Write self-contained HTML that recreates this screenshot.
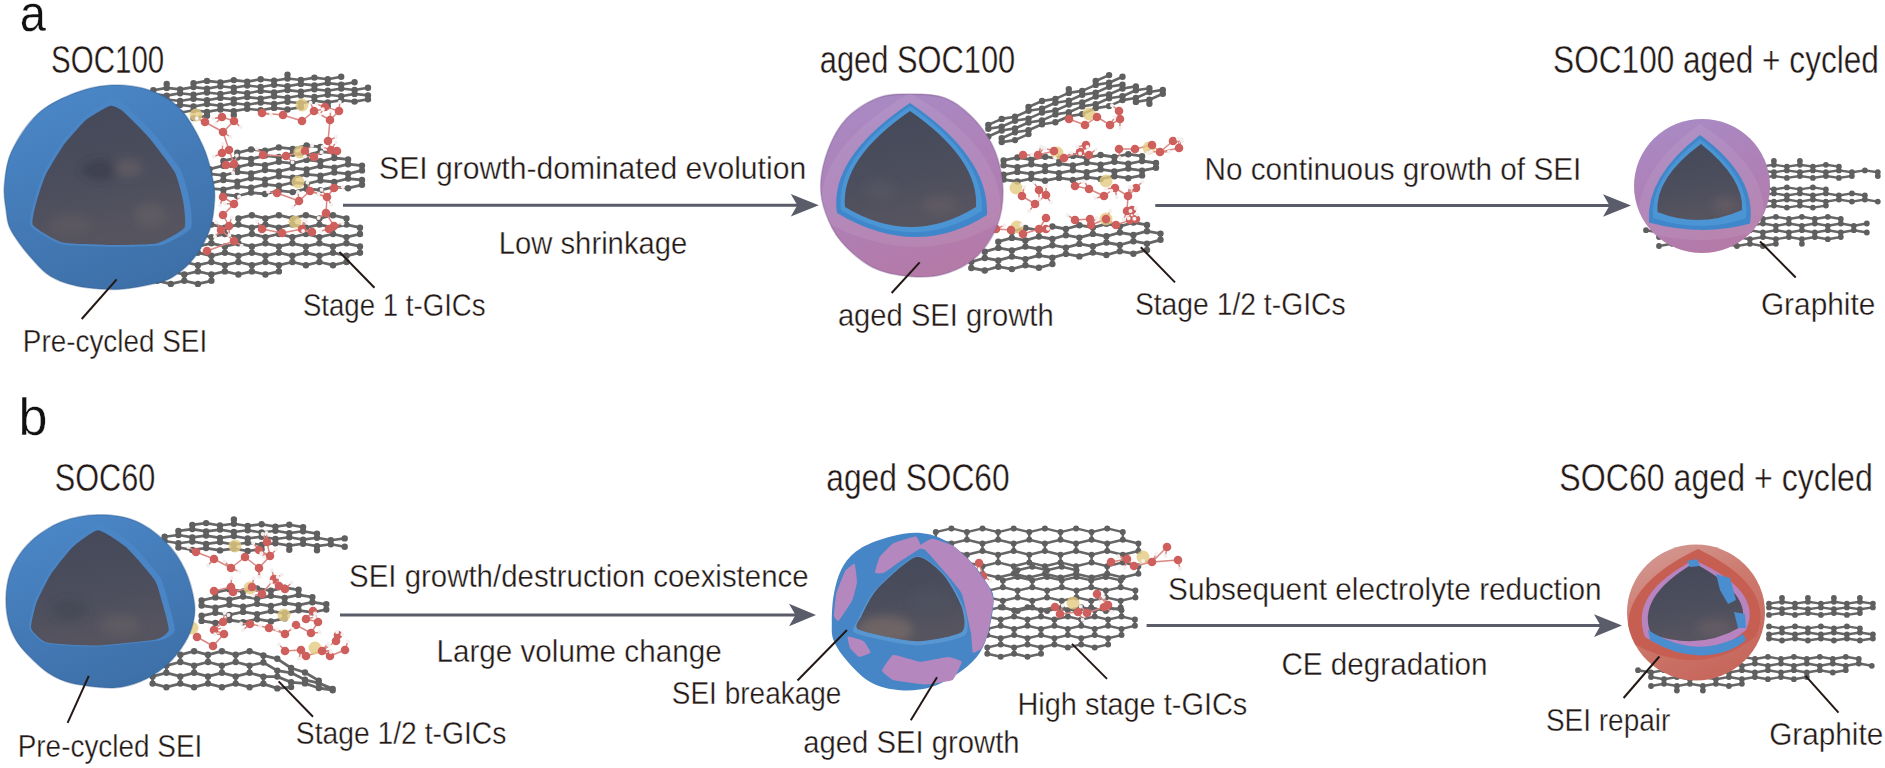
<!DOCTYPE html>
<html><head><meta charset="utf-8"><style>
html,body{margin:0;padding:0;background:#fff;width:1885px;height:768px;overflow:hidden}
svg{display:block}
text{font-family:"Liberation Sans",sans-serif}
</style></head><body>
<svg width="1885" height="768" viewBox="0 0 1885 768">
<defs>
<linearGradient id="gBlue" x1="0.2" y1="0" x2="0.6" y2="1">
 <stop offset="0" stop-color="#4b87c8"/><stop offset="0.55" stop-color="#437ab6"/><stop offset="1" stop-color="#3e70a8"/>
</linearGradient>
<linearGradient id="gPurp" x1="0.2" y1="0" x2="0.5" y2="1">
 <stop offset="0" stop-color="#a98ac4"/><stop offset="0.55" stop-color="#ae80b6"/><stop offset="1" stop-color="#b47aa8"/>
</linearGradient>
<linearGradient id="gRed" x1="0.1" y1="0" x2="0.6" y2="1">
 <stop offset="0" stop-color="#d49d98"/><stop offset="0.45" stop-color="#cd7a6f"/><stop offset="1" stop-color="#c7675c"/>
</linearGradient>
<linearGradient id="gCore" x1="0" y1="0" x2="0.2" y2="1">
 <stop offset="0" stop-color="#444858"/><stop offset="0.6" stop-color="#4c4e5d"/><stop offset="1" stop-color="#56545f"/>
</linearGradient>
<filter id="blur4" x="-50%" y="-50%" width="200%" height="200%"><feGaussianBlur stdDeviation="5"/></filter>
<filter id="blur2" x="-50%" y="-50%" width="200%" height="200%"><feGaussianBlur stdDeviation="2"/></filter>
</defs>
<rect width="1885" height="768" fill="#fff"/>
<path d="M153.3,90.2L166.7,87.9M153.3,90.2L153.3,94.1M153.3,94.1L166.7,95.6M153.3,101.9L166.7,99.5M166.7,84.0L166.7,87.9M166.7,87.9L180.1,89.4M166.7,95.6L180.1,93.3M166.7,95.6L166.7,99.5M166.7,99.5L180.1,101.0M166.7,107.3L180.1,104.9M180.1,89.4L193.5,87.1M180.1,89.4L180.1,93.3M180.1,93.3L193.5,94.8M180.1,101.0L193.5,98.7M180.1,101.0L180.1,104.9M180.1,104.9L193.5,106.5M180.1,112.7L193.5,110.3M193.5,83.2L207.0,80.9M193.5,83.2L193.5,87.1M193.5,87.1L207.0,88.6M193.5,94.8L207.0,92.5M193.5,94.8L193.5,98.7M193.5,98.7L207.0,100.2M193.5,106.5L207.0,104.1M193.5,106.5L193.5,110.3M193.5,110.3L207.0,111.9M193.5,118.1L207.0,115.7M207.0,80.9L220.4,82.4M207.0,88.6L220.4,86.3M207.0,88.6L207.0,92.5M207.0,92.5L220.4,94.0M207.0,100.2L220.4,97.9M207.0,100.2L207.0,104.1M207.0,104.1L220.4,105.7M207.0,111.9L220.4,109.5M207.0,111.9L207.0,115.7M220.4,82.4L233.8,80.1M220.4,82.4L220.4,86.3M220.4,86.3L233.8,87.8M220.4,94.0L233.8,91.7M220.4,94.0L220.4,97.9M220.4,97.9L233.8,99.4M220.4,105.7L233.8,103.3M220.4,105.7L220.4,109.5M220.4,109.5L233.8,111.1M233.8,80.1L247.2,81.6M233.8,87.8L247.2,85.5M233.8,87.8L233.8,91.7M233.8,91.7L247.2,93.2M233.8,99.4L247.2,97.1M233.8,99.4L233.8,103.3M233.8,103.3L247.2,104.8M233.8,111.1L247.2,108.7M233.8,111.1L233.8,114.9M247.2,81.6L260.7,79.3M247.2,81.6L247.2,85.5M247.2,85.5L260.7,87.0M247.2,93.2L260.7,90.9M247.2,93.2L247.2,97.1M247.2,97.1L260.7,98.6M247.2,104.8L260.7,102.5M247.2,104.8L247.2,108.7M247.2,108.7L260.7,110.3M260.7,79.3L274.1,80.8M260.7,87.0L274.1,84.7M260.7,87.0L260.7,90.9M260.7,90.9L274.1,92.4M260.7,98.6L274.1,96.3M260.7,98.6L260.7,102.5M260.7,102.5L274.1,104.0M260.7,110.3L274.1,107.9M274.1,80.8L287.5,78.5M274.1,80.8L274.1,84.7M274.1,84.7L287.5,86.2M274.1,92.4L287.5,90.1M274.1,92.4L274.1,96.3M274.1,96.3L287.5,97.8M274.1,104.0L287.5,101.7M274.1,104.0L274.1,107.9M274.1,107.9L287.5,109.5M287.5,74.6L287.5,78.5M287.5,78.5L300.9,80.0M287.5,86.2L300.9,83.9M287.5,86.2L287.5,90.1M287.5,90.1L300.9,91.6M287.5,97.8L300.9,95.5M287.5,97.8L287.5,101.7M287.5,101.7L300.9,103.2M287.5,109.5L300.9,107.1M300.9,80.0L314.4,77.6M300.9,80.0L300.9,83.9M300.9,83.9L314.4,85.4M300.9,91.6L314.4,89.3M300.9,91.6L300.9,95.5M300.9,95.5L314.4,97.0M300.9,103.2L314.4,100.9M300.9,103.2L300.9,107.1M314.4,77.6L327.8,79.2M314.4,85.4L327.8,83.1M314.4,85.4L314.4,89.3M314.4,89.3L327.8,90.8M314.4,97.0L327.8,94.7M314.4,97.0L314.4,100.9M314.4,100.9L327.8,102.4M327.8,79.2L341.2,76.8M327.8,79.2L327.8,83.1M327.8,83.1L341.2,84.6M327.8,90.8L341.2,88.5M327.8,90.8L327.8,94.7M327.8,94.7L341.2,96.2M327.8,102.4L341.2,100.1M327.8,102.4L327.8,106.3M341.2,84.6L354.6,82.3M341.2,84.6L341.2,88.5M341.2,88.5L354.6,90.0M341.2,96.2L354.6,93.9M341.2,96.2L341.2,100.1M341.2,100.1L354.6,101.6M354.6,90.0L368.0,87.7M354.6,90.0L354.6,93.9M354.6,93.9L368.0,95.4M354.6,101.6L368.0,99.3M368.0,95.4L368.0,99.3" stroke="#666" stroke-width="2.6" fill="none" stroke-linecap="round"/>
<path d="M150.1,90.2a3.2,3.2 0 1,0 6.4,0a3.2,3.2 0 1,0 -6.4,0M150.1,94.1a3.2,3.2 0 1,0 6.4,0a3.2,3.2 0 1,0 -6.4,0M150.1,101.9a3.2,3.2 0 1,0 6.4,0a3.2,3.2 0 1,0 -6.4,0M163.5,84.0a3.2,3.2 0 1,0 6.4,0a3.2,3.2 0 1,0 -6.4,0M163.5,87.9a3.2,3.2 0 1,0 6.4,0a3.2,3.2 0 1,0 -6.4,0M163.5,95.6a3.2,3.2 0 1,0 6.4,0a3.2,3.2 0 1,0 -6.4,0M163.5,99.5a3.2,3.2 0 1,0 6.4,0a3.2,3.2 0 1,0 -6.4,0M163.5,107.3a3.2,3.2 0 1,0 6.4,0a3.2,3.2 0 1,0 -6.4,0M176.9,89.4a3.2,3.2 0 1,0 6.4,0a3.2,3.2 0 1,0 -6.4,0M176.9,93.3a3.2,3.2 0 1,0 6.4,0a3.2,3.2 0 1,0 -6.4,0M176.9,101.0a3.2,3.2 0 1,0 6.4,0a3.2,3.2 0 1,0 -6.4,0M176.9,104.9a3.2,3.2 0 1,0 6.4,0a3.2,3.2 0 1,0 -6.4,0M176.9,112.7a3.2,3.2 0 1,0 6.4,0a3.2,3.2 0 1,0 -6.4,0M190.3,83.2a3.2,3.2 0 1,0 6.4,0a3.2,3.2 0 1,0 -6.4,0M190.3,87.1a3.2,3.2 0 1,0 6.4,0a3.2,3.2 0 1,0 -6.4,0M190.3,94.8a3.2,3.2 0 1,0 6.4,0a3.2,3.2 0 1,0 -6.4,0M190.3,98.7a3.2,3.2 0 1,0 6.4,0a3.2,3.2 0 1,0 -6.4,0M190.3,106.5a3.2,3.2 0 1,0 6.4,0a3.2,3.2 0 1,0 -6.4,0M190.3,110.3a3.2,3.2 0 1,0 6.4,0a3.2,3.2 0 1,0 -6.4,0M190.3,118.1a3.2,3.2 0 1,0 6.4,0a3.2,3.2 0 1,0 -6.4,0M203.8,80.9a3.2,3.2 0 1,0 6.4,0a3.2,3.2 0 1,0 -6.4,0M203.8,88.6a3.2,3.2 0 1,0 6.4,0a3.2,3.2 0 1,0 -6.4,0M203.8,92.5a3.2,3.2 0 1,0 6.4,0a3.2,3.2 0 1,0 -6.4,0M203.8,100.2a3.2,3.2 0 1,0 6.4,0a3.2,3.2 0 1,0 -6.4,0M203.8,104.1a3.2,3.2 0 1,0 6.4,0a3.2,3.2 0 1,0 -6.4,0M203.8,111.9a3.2,3.2 0 1,0 6.4,0a3.2,3.2 0 1,0 -6.4,0M203.8,115.7a3.2,3.2 0 1,0 6.4,0a3.2,3.2 0 1,0 -6.4,0M217.2,82.4a3.2,3.2 0 1,0 6.4,0a3.2,3.2 0 1,0 -6.4,0M217.2,86.3a3.2,3.2 0 1,0 6.4,0a3.2,3.2 0 1,0 -6.4,0M217.2,94.0a3.2,3.2 0 1,0 6.4,0a3.2,3.2 0 1,0 -6.4,0M217.2,97.9a3.2,3.2 0 1,0 6.4,0a3.2,3.2 0 1,0 -6.4,0M217.2,105.7a3.2,3.2 0 1,0 6.4,0a3.2,3.2 0 1,0 -6.4,0M217.2,109.5a3.2,3.2 0 1,0 6.4,0a3.2,3.2 0 1,0 -6.4,0M230.6,80.1a3.2,3.2 0 1,0 6.4,0a3.2,3.2 0 1,0 -6.4,0M230.6,87.8a3.2,3.2 0 1,0 6.4,0a3.2,3.2 0 1,0 -6.4,0M230.6,91.7a3.2,3.2 0 1,0 6.4,0a3.2,3.2 0 1,0 -6.4,0M230.6,99.4a3.2,3.2 0 1,0 6.4,0a3.2,3.2 0 1,0 -6.4,0M230.6,103.3a3.2,3.2 0 1,0 6.4,0a3.2,3.2 0 1,0 -6.4,0M230.6,111.1a3.2,3.2 0 1,0 6.4,0a3.2,3.2 0 1,0 -6.4,0M230.6,114.9a3.2,3.2 0 1,0 6.4,0a3.2,3.2 0 1,0 -6.4,0M244.0,81.6a3.2,3.2 0 1,0 6.4,0a3.2,3.2 0 1,0 -6.4,0M244.0,85.5a3.2,3.2 0 1,0 6.4,0a3.2,3.2 0 1,0 -6.4,0M244.0,93.2a3.2,3.2 0 1,0 6.4,0a3.2,3.2 0 1,0 -6.4,0M244.0,97.1a3.2,3.2 0 1,0 6.4,0a3.2,3.2 0 1,0 -6.4,0M244.0,104.8a3.2,3.2 0 1,0 6.4,0a3.2,3.2 0 1,0 -6.4,0M244.0,108.7a3.2,3.2 0 1,0 6.4,0a3.2,3.2 0 1,0 -6.4,0M257.5,79.3a3.2,3.2 0 1,0 6.4,0a3.2,3.2 0 1,0 -6.4,0M257.5,87.0a3.2,3.2 0 1,0 6.4,0a3.2,3.2 0 1,0 -6.4,0M257.5,90.9a3.2,3.2 0 1,0 6.4,0a3.2,3.2 0 1,0 -6.4,0M257.5,98.6a3.2,3.2 0 1,0 6.4,0a3.2,3.2 0 1,0 -6.4,0M257.5,102.5a3.2,3.2 0 1,0 6.4,0a3.2,3.2 0 1,0 -6.4,0M257.5,110.3a3.2,3.2 0 1,0 6.4,0a3.2,3.2 0 1,0 -6.4,0M270.9,80.8a3.2,3.2 0 1,0 6.4,0a3.2,3.2 0 1,0 -6.4,0M270.9,84.7a3.2,3.2 0 1,0 6.4,0a3.2,3.2 0 1,0 -6.4,0M270.9,92.4a3.2,3.2 0 1,0 6.4,0a3.2,3.2 0 1,0 -6.4,0M270.9,96.3a3.2,3.2 0 1,0 6.4,0a3.2,3.2 0 1,0 -6.4,0M270.9,104.0a3.2,3.2 0 1,0 6.4,0a3.2,3.2 0 1,0 -6.4,0M270.9,107.9a3.2,3.2 0 1,0 6.4,0a3.2,3.2 0 1,0 -6.4,0M284.3,74.6a3.2,3.2 0 1,0 6.4,0a3.2,3.2 0 1,0 -6.4,0M284.3,78.5a3.2,3.2 0 1,0 6.4,0a3.2,3.2 0 1,0 -6.4,0M284.3,86.2a3.2,3.2 0 1,0 6.4,0a3.2,3.2 0 1,0 -6.4,0M284.3,90.1a3.2,3.2 0 1,0 6.4,0a3.2,3.2 0 1,0 -6.4,0M284.3,97.8a3.2,3.2 0 1,0 6.4,0a3.2,3.2 0 1,0 -6.4,0M284.3,101.7a3.2,3.2 0 1,0 6.4,0a3.2,3.2 0 1,0 -6.4,0M284.3,109.5a3.2,3.2 0 1,0 6.4,0a3.2,3.2 0 1,0 -6.4,0M297.7,80.0a3.2,3.2 0 1,0 6.4,0a3.2,3.2 0 1,0 -6.4,0M297.7,83.9a3.2,3.2 0 1,0 6.4,0a3.2,3.2 0 1,0 -6.4,0M297.7,91.6a3.2,3.2 0 1,0 6.4,0a3.2,3.2 0 1,0 -6.4,0M297.7,95.5a3.2,3.2 0 1,0 6.4,0a3.2,3.2 0 1,0 -6.4,0M297.7,103.2a3.2,3.2 0 1,0 6.4,0a3.2,3.2 0 1,0 -6.4,0M297.7,107.1a3.2,3.2 0 1,0 6.4,0a3.2,3.2 0 1,0 -6.4,0M311.2,77.6a3.2,3.2 0 1,0 6.4,0a3.2,3.2 0 1,0 -6.4,0M311.2,85.4a3.2,3.2 0 1,0 6.4,0a3.2,3.2 0 1,0 -6.4,0M311.2,89.3a3.2,3.2 0 1,0 6.4,0a3.2,3.2 0 1,0 -6.4,0M311.2,97.0a3.2,3.2 0 1,0 6.4,0a3.2,3.2 0 1,0 -6.4,0M311.2,100.9a3.2,3.2 0 1,0 6.4,0a3.2,3.2 0 1,0 -6.4,0M324.6,79.2a3.2,3.2 0 1,0 6.4,0a3.2,3.2 0 1,0 -6.4,0M324.6,83.1a3.2,3.2 0 1,0 6.4,0a3.2,3.2 0 1,0 -6.4,0M324.6,90.8a3.2,3.2 0 1,0 6.4,0a3.2,3.2 0 1,0 -6.4,0M324.6,94.7a3.2,3.2 0 1,0 6.4,0a3.2,3.2 0 1,0 -6.4,0M324.6,102.4a3.2,3.2 0 1,0 6.4,0a3.2,3.2 0 1,0 -6.4,0M324.6,106.3a3.2,3.2 0 1,0 6.4,0a3.2,3.2 0 1,0 -6.4,0M338.0,76.8a3.2,3.2 0 1,0 6.4,0a3.2,3.2 0 1,0 -6.4,0M338.0,84.6a3.2,3.2 0 1,0 6.4,0a3.2,3.2 0 1,0 -6.4,0M338.0,88.5a3.2,3.2 0 1,0 6.4,0a3.2,3.2 0 1,0 -6.4,0M338.0,96.2a3.2,3.2 0 1,0 6.4,0a3.2,3.2 0 1,0 -6.4,0M338.0,100.1a3.2,3.2 0 1,0 6.4,0a3.2,3.2 0 1,0 -6.4,0M351.4,82.3a3.2,3.2 0 1,0 6.4,0a3.2,3.2 0 1,0 -6.4,0M351.4,90.0a3.2,3.2 0 1,0 6.4,0a3.2,3.2 0 1,0 -6.4,0M351.4,93.9a3.2,3.2 0 1,0 6.4,0a3.2,3.2 0 1,0 -6.4,0M351.4,101.6a3.2,3.2 0 1,0 6.4,0a3.2,3.2 0 1,0 -6.4,0M364.8,87.7a3.2,3.2 0 1,0 6.4,0a3.2,3.2 0 1,0 -6.4,0M364.8,95.4a3.2,3.2 0 1,0 6.4,0a3.2,3.2 0 1,0 -6.4,0M364.8,99.3a3.2,3.2 0 1,0 6.4,0a3.2,3.2 0 1,0 -6.4,0" fill="#5f5f5f"/>
<path d="M209.6,169.1L223.4,165.7M209.6,169.1L209.6,173.9M209.6,173.9L223.4,175.3M209.6,183.5L223.4,180.1M209.6,183.5L209.6,188.3M209.6,188.3L223.4,189.7M223.4,160.9L237.3,157.6M223.4,160.9L223.4,165.7M223.4,165.7L237.3,167.2M223.4,175.3L237.3,172.0M223.4,175.3L223.4,180.1M223.4,180.1L237.3,181.6M223.4,189.7L237.3,186.4M223.4,189.7L223.4,194.5M223.4,194.5L237.3,196.0M237.3,152.8L251.1,149.4M237.3,152.8L237.3,157.6M237.3,157.6L251.1,159.0M237.3,167.2L251.1,163.8M237.3,167.2L237.3,172.0M237.3,172.0L251.1,173.4M237.3,181.6L251.1,178.2M237.3,181.6L237.3,186.4M237.3,186.4L251.1,187.8M237.3,196.0L251.1,192.6M251.1,149.4L265.0,150.8M251.1,159.0L265.0,155.6M251.1,159.0L251.1,163.8M251.1,163.8L265.0,165.2M251.1,173.4L265.0,170.0M251.1,173.4L251.1,178.2M251.1,178.2L265.0,179.6M251.1,187.8L265.0,184.4M251.1,187.8L251.1,192.6M251.1,192.6L265.0,194.0M265.0,150.8L278.9,147.4M265.0,150.8L265.0,155.6M265.0,155.6L278.9,157.0M265.0,165.2L278.9,161.8M265.0,165.2L265.0,170.0M265.0,170.0L278.9,171.4M265.0,179.6L278.9,176.2M265.0,179.6L265.0,184.4M265.0,184.4L278.9,185.8M265.0,194.0L278.9,190.6M278.9,147.4L292.7,148.9M278.9,157.0L292.7,153.7M278.9,157.0L278.9,161.8M278.9,161.8L292.7,163.3M278.9,171.4L292.7,168.1M278.9,171.4L278.9,176.2M278.9,176.2L292.7,177.7M278.9,185.8L292.7,182.5M278.9,185.8L278.9,190.6M278.9,190.6L292.7,192.1M292.7,148.9L306.6,145.5M292.7,148.9L292.7,153.7M292.7,153.7L306.6,155.1M292.7,163.3L306.6,159.9M292.7,163.3L292.7,168.1M292.7,168.1L306.6,169.5M292.7,177.7L306.6,174.3M292.7,177.7L292.7,182.5M292.7,182.5L306.6,183.9M292.7,192.1L306.6,188.7M306.6,145.5L320.4,146.9M306.6,155.1L320.4,151.7M306.6,155.1L306.6,159.9M306.6,159.9L320.4,161.3M306.6,169.5L320.4,166.1M306.6,169.5L306.6,174.3M306.6,174.3L320.4,175.7M306.6,183.9L320.4,180.5M306.6,183.9L306.6,188.7M306.6,188.7L320.4,190.1M320.4,146.9L320.4,151.7M320.4,151.7L334.3,153.2M320.4,161.3L334.3,158.0M320.4,161.3L320.4,166.1M320.4,166.1L334.3,167.6M320.4,175.7L334.3,172.4M320.4,175.7L320.4,180.5M320.4,180.5L334.3,182.0M320.4,190.1L334.3,186.8M334.3,153.2L334.3,158.0M334.3,158.0L348.1,159.4M334.3,167.6L348.1,164.2M334.3,167.6L334.3,172.4M334.3,172.4L348.1,173.8M334.3,182.0L348.1,178.6M334.3,182.0L334.3,186.8M334.3,186.8L348.1,188.2M348.1,159.4L348.1,164.2M348.1,164.2L362.0,165.6M348.1,173.8L362.0,170.4M348.1,173.8L348.1,178.6M348.1,178.6L362.0,180.0M348.1,188.2L362.0,184.8M362.0,165.6L362.0,170.4M362.0,180.0L362.0,184.8" stroke="#666" stroke-width="2.8" fill="none" stroke-linecap="round"/>
<path d="M206.4,169.1a3.2,3.2 0 1,0 6.4,0a3.2,3.2 0 1,0 -6.4,0M206.4,173.9a3.2,3.2 0 1,0 6.4,0a3.2,3.2 0 1,0 -6.4,0M206.4,183.5a3.2,3.2 0 1,0 6.4,0a3.2,3.2 0 1,0 -6.4,0M206.4,188.3a3.2,3.2 0 1,0 6.4,0a3.2,3.2 0 1,0 -6.4,0M220.2,160.9a3.2,3.2 0 1,0 6.4,0a3.2,3.2 0 1,0 -6.4,0M220.2,165.7a3.2,3.2 0 1,0 6.4,0a3.2,3.2 0 1,0 -6.4,0M220.2,175.3a3.2,3.2 0 1,0 6.4,0a3.2,3.2 0 1,0 -6.4,0M220.2,180.1a3.2,3.2 0 1,0 6.4,0a3.2,3.2 0 1,0 -6.4,0M220.2,189.7a3.2,3.2 0 1,0 6.4,0a3.2,3.2 0 1,0 -6.4,0M220.2,194.5a3.2,3.2 0 1,0 6.4,0a3.2,3.2 0 1,0 -6.4,0M234.1,152.8a3.2,3.2 0 1,0 6.4,0a3.2,3.2 0 1,0 -6.4,0M234.1,157.6a3.2,3.2 0 1,0 6.4,0a3.2,3.2 0 1,0 -6.4,0M234.1,167.2a3.2,3.2 0 1,0 6.4,0a3.2,3.2 0 1,0 -6.4,0M234.1,172.0a3.2,3.2 0 1,0 6.4,0a3.2,3.2 0 1,0 -6.4,0M234.1,181.6a3.2,3.2 0 1,0 6.4,0a3.2,3.2 0 1,0 -6.4,0M234.1,186.4a3.2,3.2 0 1,0 6.4,0a3.2,3.2 0 1,0 -6.4,0M234.1,196.0a3.2,3.2 0 1,0 6.4,0a3.2,3.2 0 1,0 -6.4,0M247.9,149.4a3.2,3.2 0 1,0 6.4,0a3.2,3.2 0 1,0 -6.4,0M247.9,159.0a3.2,3.2 0 1,0 6.4,0a3.2,3.2 0 1,0 -6.4,0M247.9,163.8a3.2,3.2 0 1,0 6.4,0a3.2,3.2 0 1,0 -6.4,0M247.9,173.4a3.2,3.2 0 1,0 6.4,0a3.2,3.2 0 1,0 -6.4,0M247.9,178.2a3.2,3.2 0 1,0 6.4,0a3.2,3.2 0 1,0 -6.4,0M247.9,187.8a3.2,3.2 0 1,0 6.4,0a3.2,3.2 0 1,0 -6.4,0M247.9,192.6a3.2,3.2 0 1,0 6.4,0a3.2,3.2 0 1,0 -6.4,0M261.8,150.8a3.2,3.2 0 1,0 6.4,0a3.2,3.2 0 1,0 -6.4,0M261.8,155.6a3.2,3.2 0 1,0 6.4,0a3.2,3.2 0 1,0 -6.4,0M261.8,165.2a3.2,3.2 0 1,0 6.4,0a3.2,3.2 0 1,0 -6.4,0M261.8,170.0a3.2,3.2 0 1,0 6.4,0a3.2,3.2 0 1,0 -6.4,0M261.8,179.6a3.2,3.2 0 1,0 6.4,0a3.2,3.2 0 1,0 -6.4,0M261.8,184.4a3.2,3.2 0 1,0 6.4,0a3.2,3.2 0 1,0 -6.4,0M261.8,194.0a3.2,3.2 0 1,0 6.4,0a3.2,3.2 0 1,0 -6.4,0M275.7,147.4a3.2,3.2 0 1,0 6.4,0a3.2,3.2 0 1,0 -6.4,0M275.7,157.0a3.2,3.2 0 1,0 6.4,0a3.2,3.2 0 1,0 -6.4,0M275.7,161.8a3.2,3.2 0 1,0 6.4,0a3.2,3.2 0 1,0 -6.4,0M275.7,171.4a3.2,3.2 0 1,0 6.4,0a3.2,3.2 0 1,0 -6.4,0M275.7,176.2a3.2,3.2 0 1,0 6.4,0a3.2,3.2 0 1,0 -6.4,0M275.7,185.8a3.2,3.2 0 1,0 6.4,0a3.2,3.2 0 1,0 -6.4,0M275.7,190.6a3.2,3.2 0 1,0 6.4,0a3.2,3.2 0 1,0 -6.4,0M289.5,148.9a3.2,3.2 0 1,0 6.4,0a3.2,3.2 0 1,0 -6.4,0M289.5,153.7a3.2,3.2 0 1,0 6.4,0a3.2,3.2 0 1,0 -6.4,0M289.5,163.3a3.2,3.2 0 1,0 6.4,0a3.2,3.2 0 1,0 -6.4,0M289.5,168.1a3.2,3.2 0 1,0 6.4,0a3.2,3.2 0 1,0 -6.4,0M289.5,177.7a3.2,3.2 0 1,0 6.4,0a3.2,3.2 0 1,0 -6.4,0M289.5,182.5a3.2,3.2 0 1,0 6.4,0a3.2,3.2 0 1,0 -6.4,0M289.5,192.1a3.2,3.2 0 1,0 6.4,0a3.2,3.2 0 1,0 -6.4,0M303.4,145.5a3.2,3.2 0 1,0 6.4,0a3.2,3.2 0 1,0 -6.4,0M303.4,155.1a3.2,3.2 0 1,0 6.4,0a3.2,3.2 0 1,0 -6.4,0M303.4,159.9a3.2,3.2 0 1,0 6.4,0a3.2,3.2 0 1,0 -6.4,0M303.4,169.5a3.2,3.2 0 1,0 6.4,0a3.2,3.2 0 1,0 -6.4,0M303.4,174.3a3.2,3.2 0 1,0 6.4,0a3.2,3.2 0 1,0 -6.4,0M303.4,183.9a3.2,3.2 0 1,0 6.4,0a3.2,3.2 0 1,0 -6.4,0M303.4,188.7a3.2,3.2 0 1,0 6.4,0a3.2,3.2 0 1,0 -6.4,0M317.2,146.9a3.2,3.2 0 1,0 6.4,0a3.2,3.2 0 1,0 -6.4,0M317.2,151.7a3.2,3.2 0 1,0 6.4,0a3.2,3.2 0 1,0 -6.4,0M317.2,161.3a3.2,3.2 0 1,0 6.4,0a3.2,3.2 0 1,0 -6.4,0M317.2,166.1a3.2,3.2 0 1,0 6.4,0a3.2,3.2 0 1,0 -6.4,0M317.2,175.7a3.2,3.2 0 1,0 6.4,0a3.2,3.2 0 1,0 -6.4,0M317.2,180.5a3.2,3.2 0 1,0 6.4,0a3.2,3.2 0 1,0 -6.4,0M317.2,190.1a3.2,3.2 0 1,0 6.4,0a3.2,3.2 0 1,0 -6.4,0M331.1,153.2a3.2,3.2 0 1,0 6.4,0a3.2,3.2 0 1,0 -6.4,0M331.1,158.0a3.2,3.2 0 1,0 6.4,0a3.2,3.2 0 1,0 -6.4,0M331.1,167.6a3.2,3.2 0 1,0 6.4,0a3.2,3.2 0 1,0 -6.4,0M331.1,172.4a3.2,3.2 0 1,0 6.4,0a3.2,3.2 0 1,0 -6.4,0M331.1,182.0a3.2,3.2 0 1,0 6.4,0a3.2,3.2 0 1,0 -6.4,0M331.1,186.8a3.2,3.2 0 1,0 6.4,0a3.2,3.2 0 1,0 -6.4,0M344.9,159.4a3.2,3.2 0 1,0 6.4,0a3.2,3.2 0 1,0 -6.4,0M344.9,164.2a3.2,3.2 0 1,0 6.4,0a3.2,3.2 0 1,0 -6.4,0M344.9,173.8a3.2,3.2 0 1,0 6.4,0a3.2,3.2 0 1,0 -6.4,0M344.9,178.6a3.2,3.2 0 1,0 6.4,0a3.2,3.2 0 1,0 -6.4,0M344.9,188.2a3.2,3.2 0 1,0 6.4,0a3.2,3.2 0 1,0 -6.4,0M358.8,165.6a3.2,3.2 0 1,0 6.4,0a3.2,3.2 0 1,0 -6.4,0M358.8,170.4a3.2,3.2 0 1,0 6.4,0a3.2,3.2 0 1,0 -6.4,0M358.8,180.0a3.2,3.2 0 1,0 6.4,0a3.2,3.2 0 1,0 -6.4,0M358.8,184.8a3.2,3.2 0 1,0 6.4,0a3.2,3.2 0 1,0 -6.4,0" fill="#5f5f5f"/>
<path d="M157.3,274.5L170.8,271.4M157.3,274.5L157.3,280.8M157.3,280.8L170.8,283.9M170.8,246.4L184.3,243.3M170.8,246.4L170.8,252.7M170.8,252.7L184.3,255.8M170.8,265.2L184.3,262.0M170.8,265.2L170.8,271.4M170.8,271.4L184.3,274.5M170.8,283.9L184.3,280.8M184.3,237.1L197.9,234.0M184.3,237.1L184.3,243.3M184.3,243.3L197.9,246.4M184.3,255.8L197.9,252.7M184.3,255.8L184.3,262.0M184.3,262.0L197.9,265.2M184.3,274.5L197.9,271.4M184.3,274.5L184.3,280.8M184.3,280.8L197.9,283.9M197.9,227.7L211.4,224.6M197.9,227.7L197.9,234.0M197.9,234.0L211.4,237.1M197.9,246.4L211.4,243.3M197.9,246.4L197.9,252.7M197.9,252.7L211.4,255.8M197.9,265.2L211.4,262.0M197.9,265.2L197.9,271.4M197.9,271.4L211.4,274.5M197.9,283.9L211.4,280.8M211.4,224.6L224.9,227.7M211.4,237.1L224.9,234.0M211.4,237.1L211.4,243.3M211.4,243.3L224.9,246.4M211.4,255.8L224.9,252.7M211.4,255.8L211.4,262.0M211.4,262.0L224.9,265.2M211.4,274.5L224.9,271.4M211.4,274.5L211.4,280.8M224.9,227.7L238.4,224.6M224.9,227.7L224.9,234.0M224.9,234.0L238.4,237.1M224.9,246.4L238.4,243.3M224.9,246.4L224.9,252.7M224.9,252.7L238.4,255.8M224.9,265.2L238.4,262.0M224.9,265.2L224.9,271.4M224.9,271.4L238.4,274.5M238.4,218.4L251.9,215.2M238.4,218.4L238.4,224.6M238.4,224.6L251.9,227.7M238.4,237.1L251.9,234.0M238.4,237.1L238.4,243.3M238.4,243.3L251.9,246.4M238.4,255.8L251.9,252.7M238.4,255.8L238.4,262.0M238.4,262.0L251.9,265.2M238.4,274.5L251.9,271.4M251.9,215.2L265.4,218.4M251.9,227.7L265.4,224.6M251.9,227.7L251.9,234.0M251.9,234.0L265.4,237.1M251.9,246.4L265.4,243.3M251.9,246.4L251.9,252.7M251.9,252.7L265.4,255.8M251.9,265.2L265.4,262.0M251.9,265.2L251.9,271.4M251.9,271.4L265.4,274.5M265.4,218.4L278.9,215.2M265.4,218.4L265.4,224.6M265.4,224.6L278.9,227.7M265.4,237.1L278.9,234.0M265.4,237.1L265.4,243.3M265.4,243.3L278.9,246.4M265.4,255.8L278.9,252.7M265.4,255.8L265.4,262.0M265.4,262.0L278.9,265.2M265.4,274.5L278.9,271.4M278.9,215.2L292.4,218.4M278.9,227.7L292.4,224.6M278.9,227.7L278.9,234.0M278.9,234.0L292.4,237.1M278.9,246.4L292.4,243.3M278.9,246.4L278.9,252.7M278.9,252.7L292.4,255.8M278.9,265.2L292.4,262.0M278.9,265.2L278.9,271.4M292.4,218.4L305.9,215.2M292.4,218.4L292.4,224.6M292.4,224.6L305.9,227.7M292.4,237.1L305.9,234.0M292.4,237.1L292.4,243.3M292.4,243.3L305.9,246.4M292.4,255.8L305.9,252.7M292.4,255.8L292.4,262.0M292.4,262.0L305.9,265.2M305.9,215.2L319.4,218.4M305.9,227.7L319.4,224.6M305.9,227.7L305.9,234.0M305.9,234.0L319.4,237.1M305.9,246.4L319.4,243.3M305.9,246.4L305.9,252.7M305.9,252.7L319.4,255.8M305.9,265.2L319.4,262.0M319.4,218.4L333.0,215.2M319.4,218.4L319.4,224.6M319.4,224.6L333.0,227.7M319.4,237.1L333.0,234.0M319.4,237.1L319.4,243.3M319.4,243.3L333.0,246.4M319.4,255.8L333.0,252.7M319.4,255.8L319.4,262.0M319.4,262.0L333.0,265.2M333.0,215.2L346.5,218.4M333.0,227.7L346.5,224.6M333.0,227.7L333.0,234.0M333.0,234.0L346.5,237.1M333.0,246.4L346.5,243.3M333.0,246.4L333.0,252.7M333.0,252.7L346.5,255.8M333.0,265.2L346.5,262.0M346.5,218.4L346.5,224.6M346.5,224.6L360.0,227.7M346.5,237.1L360.0,234.0M346.5,237.1L346.5,243.3M346.5,243.3L360.0,246.4M346.5,255.8L360.0,252.7M346.5,255.8L346.5,262.0M360.0,227.7L360.0,234.0M360.0,246.4L360.0,252.7" stroke="#666" stroke-width="2.8" fill="none" stroke-linecap="round"/>
<path d="M154.1,274.5a3.2,3.2 0 1,0 6.4,0a3.2,3.2 0 1,0 -6.4,0M154.1,280.8a3.2,3.2 0 1,0 6.4,0a3.2,3.2 0 1,0 -6.4,0M167.6,246.4a3.2,3.2 0 1,0 6.4,0a3.2,3.2 0 1,0 -6.4,0M167.6,252.7a3.2,3.2 0 1,0 6.4,0a3.2,3.2 0 1,0 -6.4,0M167.6,265.2a3.2,3.2 0 1,0 6.4,0a3.2,3.2 0 1,0 -6.4,0M167.6,271.4a3.2,3.2 0 1,0 6.4,0a3.2,3.2 0 1,0 -6.4,0M167.6,283.9a3.2,3.2 0 1,0 6.4,0a3.2,3.2 0 1,0 -6.4,0M181.1,237.1a3.2,3.2 0 1,0 6.4,0a3.2,3.2 0 1,0 -6.4,0M181.1,243.3a3.2,3.2 0 1,0 6.4,0a3.2,3.2 0 1,0 -6.4,0M181.1,255.8a3.2,3.2 0 1,0 6.4,0a3.2,3.2 0 1,0 -6.4,0M181.1,262.0a3.2,3.2 0 1,0 6.4,0a3.2,3.2 0 1,0 -6.4,0M181.1,274.5a3.2,3.2 0 1,0 6.4,0a3.2,3.2 0 1,0 -6.4,0M181.1,280.8a3.2,3.2 0 1,0 6.4,0a3.2,3.2 0 1,0 -6.4,0M194.7,227.7a3.2,3.2 0 1,0 6.4,0a3.2,3.2 0 1,0 -6.4,0M194.7,234.0a3.2,3.2 0 1,0 6.4,0a3.2,3.2 0 1,0 -6.4,0M194.7,246.4a3.2,3.2 0 1,0 6.4,0a3.2,3.2 0 1,0 -6.4,0M194.7,252.7a3.2,3.2 0 1,0 6.4,0a3.2,3.2 0 1,0 -6.4,0M194.7,265.2a3.2,3.2 0 1,0 6.4,0a3.2,3.2 0 1,0 -6.4,0M194.7,271.4a3.2,3.2 0 1,0 6.4,0a3.2,3.2 0 1,0 -6.4,0M194.7,283.9a3.2,3.2 0 1,0 6.4,0a3.2,3.2 0 1,0 -6.4,0M208.2,224.6a3.2,3.2 0 1,0 6.4,0a3.2,3.2 0 1,0 -6.4,0M208.2,237.1a3.2,3.2 0 1,0 6.4,0a3.2,3.2 0 1,0 -6.4,0M208.2,243.3a3.2,3.2 0 1,0 6.4,0a3.2,3.2 0 1,0 -6.4,0M208.2,255.8a3.2,3.2 0 1,0 6.4,0a3.2,3.2 0 1,0 -6.4,0M208.2,262.0a3.2,3.2 0 1,0 6.4,0a3.2,3.2 0 1,0 -6.4,0M208.2,274.5a3.2,3.2 0 1,0 6.4,0a3.2,3.2 0 1,0 -6.4,0M208.2,280.8a3.2,3.2 0 1,0 6.4,0a3.2,3.2 0 1,0 -6.4,0M221.7,227.7a3.2,3.2 0 1,0 6.4,0a3.2,3.2 0 1,0 -6.4,0M221.7,234.0a3.2,3.2 0 1,0 6.4,0a3.2,3.2 0 1,0 -6.4,0M221.7,246.4a3.2,3.2 0 1,0 6.4,0a3.2,3.2 0 1,0 -6.4,0M221.7,252.7a3.2,3.2 0 1,0 6.4,0a3.2,3.2 0 1,0 -6.4,0M221.7,265.2a3.2,3.2 0 1,0 6.4,0a3.2,3.2 0 1,0 -6.4,0M221.7,271.4a3.2,3.2 0 1,0 6.4,0a3.2,3.2 0 1,0 -6.4,0M235.2,218.4a3.2,3.2 0 1,0 6.4,0a3.2,3.2 0 1,0 -6.4,0M235.2,224.6a3.2,3.2 0 1,0 6.4,0a3.2,3.2 0 1,0 -6.4,0M235.2,237.1a3.2,3.2 0 1,0 6.4,0a3.2,3.2 0 1,0 -6.4,0M235.2,243.3a3.2,3.2 0 1,0 6.4,0a3.2,3.2 0 1,0 -6.4,0M235.2,255.8a3.2,3.2 0 1,0 6.4,0a3.2,3.2 0 1,0 -6.4,0M235.2,262.0a3.2,3.2 0 1,0 6.4,0a3.2,3.2 0 1,0 -6.4,0M235.2,274.5a3.2,3.2 0 1,0 6.4,0a3.2,3.2 0 1,0 -6.4,0M248.7,215.2a3.2,3.2 0 1,0 6.4,0a3.2,3.2 0 1,0 -6.4,0M248.7,227.7a3.2,3.2 0 1,0 6.4,0a3.2,3.2 0 1,0 -6.4,0M248.7,234.0a3.2,3.2 0 1,0 6.4,0a3.2,3.2 0 1,0 -6.4,0M248.7,246.4a3.2,3.2 0 1,0 6.4,0a3.2,3.2 0 1,0 -6.4,0M248.7,252.7a3.2,3.2 0 1,0 6.4,0a3.2,3.2 0 1,0 -6.4,0M248.7,265.2a3.2,3.2 0 1,0 6.4,0a3.2,3.2 0 1,0 -6.4,0M248.7,271.4a3.2,3.2 0 1,0 6.4,0a3.2,3.2 0 1,0 -6.4,0M262.2,218.4a3.2,3.2 0 1,0 6.4,0a3.2,3.2 0 1,0 -6.4,0M262.2,224.6a3.2,3.2 0 1,0 6.4,0a3.2,3.2 0 1,0 -6.4,0M262.2,237.1a3.2,3.2 0 1,0 6.4,0a3.2,3.2 0 1,0 -6.4,0M262.2,243.3a3.2,3.2 0 1,0 6.4,0a3.2,3.2 0 1,0 -6.4,0M262.2,255.8a3.2,3.2 0 1,0 6.4,0a3.2,3.2 0 1,0 -6.4,0M262.2,262.0a3.2,3.2 0 1,0 6.4,0a3.2,3.2 0 1,0 -6.4,0M262.2,274.5a3.2,3.2 0 1,0 6.4,0a3.2,3.2 0 1,0 -6.4,0M275.7,215.2a3.2,3.2 0 1,0 6.4,0a3.2,3.2 0 1,0 -6.4,0M275.7,227.7a3.2,3.2 0 1,0 6.4,0a3.2,3.2 0 1,0 -6.4,0M275.7,234.0a3.2,3.2 0 1,0 6.4,0a3.2,3.2 0 1,0 -6.4,0M275.7,246.4a3.2,3.2 0 1,0 6.4,0a3.2,3.2 0 1,0 -6.4,0M275.7,252.7a3.2,3.2 0 1,0 6.4,0a3.2,3.2 0 1,0 -6.4,0M275.7,265.2a3.2,3.2 0 1,0 6.4,0a3.2,3.2 0 1,0 -6.4,0M275.7,271.4a3.2,3.2 0 1,0 6.4,0a3.2,3.2 0 1,0 -6.4,0M289.2,218.4a3.2,3.2 0 1,0 6.4,0a3.2,3.2 0 1,0 -6.4,0M289.2,224.6a3.2,3.2 0 1,0 6.4,0a3.2,3.2 0 1,0 -6.4,0M289.2,237.1a3.2,3.2 0 1,0 6.4,0a3.2,3.2 0 1,0 -6.4,0M289.2,243.3a3.2,3.2 0 1,0 6.4,0a3.2,3.2 0 1,0 -6.4,0M289.2,255.8a3.2,3.2 0 1,0 6.4,0a3.2,3.2 0 1,0 -6.4,0M289.2,262.0a3.2,3.2 0 1,0 6.4,0a3.2,3.2 0 1,0 -6.4,0M302.7,215.2a3.2,3.2 0 1,0 6.4,0a3.2,3.2 0 1,0 -6.4,0M302.7,227.7a3.2,3.2 0 1,0 6.4,0a3.2,3.2 0 1,0 -6.4,0M302.7,234.0a3.2,3.2 0 1,0 6.4,0a3.2,3.2 0 1,0 -6.4,0M302.7,246.4a3.2,3.2 0 1,0 6.4,0a3.2,3.2 0 1,0 -6.4,0M302.7,252.7a3.2,3.2 0 1,0 6.4,0a3.2,3.2 0 1,0 -6.4,0M302.7,265.2a3.2,3.2 0 1,0 6.4,0a3.2,3.2 0 1,0 -6.4,0M316.2,218.4a3.2,3.2 0 1,0 6.4,0a3.2,3.2 0 1,0 -6.4,0M316.2,224.6a3.2,3.2 0 1,0 6.4,0a3.2,3.2 0 1,0 -6.4,0M316.2,237.1a3.2,3.2 0 1,0 6.4,0a3.2,3.2 0 1,0 -6.4,0M316.2,243.3a3.2,3.2 0 1,0 6.4,0a3.2,3.2 0 1,0 -6.4,0M316.2,255.8a3.2,3.2 0 1,0 6.4,0a3.2,3.2 0 1,0 -6.4,0M316.2,262.0a3.2,3.2 0 1,0 6.4,0a3.2,3.2 0 1,0 -6.4,0M329.8,215.2a3.2,3.2 0 1,0 6.4,0a3.2,3.2 0 1,0 -6.4,0M329.8,227.7a3.2,3.2 0 1,0 6.4,0a3.2,3.2 0 1,0 -6.4,0M329.8,234.0a3.2,3.2 0 1,0 6.4,0a3.2,3.2 0 1,0 -6.4,0M329.8,246.4a3.2,3.2 0 1,0 6.4,0a3.2,3.2 0 1,0 -6.4,0M329.8,252.7a3.2,3.2 0 1,0 6.4,0a3.2,3.2 0 1,0 -6.4,0M329.8,265.2a3.2,3.2 0 1,0 6.4,0a3.2,3.2 0 1,0 -6.4,0M343.3,218.4a3.2,3.2 0 1,0 6.4,0a3.2,3.2 0 1,0 -6.4,0M343.3,224.6a3.2,3.2 0 1,0 6.4,0a3.2,3.2 0 1,0 -6.4,0M343.3,237.1a3.2,3.2 0 1,0 6.4,0a3.2,3.2 0 1,0 -6.4,0M343.3,243.3a3.2,3.2 0 1,0 6.4,0a3.2,3.2 0 1,0 -6.4,0M343.3,255.8a3.2,3.2 0 1,0 6.4,0a3.2,3.2 0 1,0 -6.4,0M343.3,262.0a3.2,3.2 0 1,0 6.4,0a3.2,3.2 0 1,0 -6.4,0M356.8,227.7a3.2,3.2 0 1,0 6.4,0a3.2,3.2 0 1,0 -6.4,0M356.8,234.0a3.2,3.2 0 1,0 6.4,0a3.2,3.2 0 1,0 -6.4,0M356.8,246.4a3.2,3.2 0 1,0 6.4,0a3.2,3.2 0 1,0 -6.4,0M356.8,252.7a3.2,3.2 0 1,0 6.4,0a3.2,3.2 0 1,0 -6.4,0" fill="#5f5f5f"/>
<path d="M205.0,122.0L196.8,118.2M205.0,122.0L223.0,132.0M223.0,132.0L234.0,121.0M234.0,121.0L240.6,127.1M234.0,121.0L222.0,117.0M222.0,117.0L213.1,118.6M222.0,117.0L215.5,123.2M223.0,132.0L230.5,137.0M223.0,132.0L229.0,150.0M229.0,150.0L222.0,153.0M222.0,153.0L213.8,156.7M222.0,153.0L222.7,144.0M229.0,150.0L234.0,164.0M234.0,164.0L233.1,173.0M234.0,164.0L236.9,155.5M234.0,164.0L226.0,165.0M262.0,113.0L270.8,114.7M262.0,113.0L283.0,115.0M283.0,115.0L302.0,121.0M302.0,121.0L314.0,111.0M314.0,111.0L310.5,102.7M314.0,111.0L322.8,109.3M314.0,111.0L330.0,120.0M330.0,120.0L339.0,111.0M339.0,111.0L339.8,102.0M339.0,111.0L325.0,107.0M325.0,107.0L316.5,104.1M325.0,107.0L319.9,114.4M330.0,120.0L330.6,111.0M330.0,120.0L328.0,141.0M328.0,141.0L336.1,137.0M328.0,141.0L331.0,150.0M331.0,150.0L335.7,142.3M331.0,150.0L322.6,146.9M331.0,150.0L337.0,151.0M263.0,155.0L256.8,148.5M263.0,155.0L286.0,156.0M286.0,156.0L292.5,162.2M286.0,156.0L305.0,151.0M305.0,151.0L312.1,145.5M305.0,151.0L314.0,157.0M314.0,157.0L305.0,156.6M314.0,157.0L321.6,152.2M223.0,197.0L220.0,205.5M223.0,197.0L234.0,204.0M234.0,204.0L239.1,196.6M234.0,204.0L225.0,203.7M234.0,204.0L223.0,215.0M223.0,215.0L229.0,226.0M229.0,226.0L229.4,235.0M229.0,226.0L231.6,217.4M229.0,226.0L221.0,230.0M221.0,230.0L216.4,222.3M221.0,230.0L215.0,236.7M221.0,230.0L234.0,241.0M234.0,241.0L241.7,245.7M234.0,241.0L207.0,251.0M277.0,193.0L268.1,191.8M277.0,193.0L299.0,201.0M299.0,201.0L292.8,207.5M299.0,201.0L298.0,192.1M299.0,201.0L310.0,191.0M310.0,191.0L318.7,193.4M310.0,191.0L307.4,182.4M310.0,191.0L327.0,197.0M327.0,197.0L321.6,189.8M327.0,197.0L331.4,204.8M327.0,197.0L334.0,188.0M334.0,188.0L342.9,187.0M327.0,197.0L318.3,194.8M327.0,197.0L326.0,213.0M326.0,213.0L318.6,218.1M326.0,213.0L334.0,226.0M334.0,226.0L342.6,223.4M334.0,226.0L329.0,229.0M329.0,229.0L320.3,231.3M262.0,229.0L257.1,221.4M262.0,229.0L282.0,233.0M282.0,233.0L302.0,229.0M302.0,229.0L303.9,220.2M302.0,229.0L305.9,220.9M302.0,229.0L312.0,232.0M312.0,232.0L303.1,230.9" stroke="#d98883" stroke-width="1.5" fill="none"/>
<circle cx="196.0" cy="115.0" r="6.5" fill="#e3c980" opacity="0.8"/>
<circle cx="302.0" cy="105.0" r="6.5" fill="#e3c980" opacity="0.8"/>
<circle cx="300.0" cy="152.0" r="6.5" fill="#e3c980" opacity="0.8"/>
<circle cx="298.0" cy="182.0" r="6.5" fill="#e3c980" opacity="0.8"/>
<circle cx="295.0" cy="222.0" r="6.5" fill="#e3c980" opacity="0.8"/>
<path d="M200.7,122.0a4.3,4.3 0 1,0 8.6,0a4.3,4.3 0 1,0 -8.6,0M218.7,132.0a4.3,4.3 0 1,0 8.6,0a4.3,4.3 0 1,0 -8.6,0M229.7,121.0a4.3,4.3 0 1,0 8.6,0a4.3,4.3 0 1,0 -8.6,0M217.7,117.0a4.3,4.3 0 1,0 8.6,0a4.3,4.3 0 1,0 -8.6,0M218.7,132.0a4.3,4.3 0 1,0 8.6,0a4.3,4.3 0 1,0 -8.6,0M224.7,150.0a4.3,4.3 0 1,0 8.6,0a4.3,4.3 0 1,0 -8.6,0M217.7,153.0a4.3,4.3 0 1,0 8.6,0a4.3,4.3 0 1,0 -8.6,0M224.7,150.0a4.3,4.3 0 1,0 8.6,0a4.3,4.3 0 1,0 -8.6,0M229.7,164.0a4.3,4.3 0 1,0 8.6,0a4.3,4.3 0 1,0 -8.6,0M221.7,165.0a4.3,4.3 0 1,0 8.6,0a4.3,4.3 0 1,0 -8.6,0M257.7,113.0a4.3,4.3 0 1,0 8.6,0a4.3,4.3 0 1,0 -8.6,0M278.7,115.0a4.3,4.3 0 1,0 8.6,0a4.3,4.3 0 1,0 -8.6,0M297.7,121.0a4.3,4.3 0 1,0 8.6,0a4.3,4.3 0 1,0 -8.6,0M309.7,111.0a4.3,4.3 0 1,0 8.6,0a4.3,4.3 0 1,0 -8.6,0M325.7,120.0a4.3,4.3 0 1,0 8.6,0a4.3,4.3 0 1,0 -8.6,0M334.7,111.0a4.3,4.3 0 1,0 8.6,0a4.3,4.3 0 1,0 -8.6,0M320.7,107.0a4.3,4.3 0 1,0 8.6,0a4.3,4.3 0 1,0 -8.6,0M325.7,120.0a4.3,4.3 0 1,0 8.6,0a4.3,4.3 0 1,0 -8.6,0M323.7,141.0a4.3,4.3 0 1,0 8.6,0a4.3,4.3 0 1,0 -8.6,0M326.7,150.0a4.3,4.3 0 1,0 8.6,0a4.3,4.3 0 1,0 -8.6,0M332.7,151.0a4.3,4.3 0 1,0 8.6,0a4.3,4.3 0 1,0 -8.6,0M258.7,155.0a4.3,4.3 0 1,0 8.6,0a4.3,4.3 0 1,0 -8.6,0M281.7,156.0a4.3,4.3 0 1,0 8.6,0a4.3,4.3 0 1,0 -8.6,0M300.7,151.0a4.3,4.3 0 1,0 8.6,0a4.3,4.3 0 1,0 -8.6,0M309.7,157.0a4.3,4.3 0 1,0 8.6,0a4.3,4.3 0 1,0 -8.6,0M218.7,197.0a4.3,4.3 0 1,0 8.6,0a4.3,4.3 0 1,0 -8.6,0M229.7,204.0a4.3,4.3 0 1,0 8.6,0a4.3,4.3 0 1,0 -8.6,0M218.7,215.0a4.3,4.3 0 1,0 8.6,0a4.3,4.3 0 1,0 -8.6,0M224.7,226.0a4.3,4.3 0 1,0 8.6,0a4.3,4.3 0 1,0 -8.6,0M216.7,230.0a4.3,4.3 0 1,0 8.6,0a4.3,4.3 0 1,0 -8.6,0M229.7,241.0a4.3,4.3 0 1,0 8.6,0a4.3,4.3 0 1,0 -8.6,0M202.7,251.0a4.3,4.3 0 1,0 8.6,0a4.3,4.3 0 1,0 -8.6,0M272.7,193.0a4.3,4.3 0 1,0 8.6,0a4.3,4.3 0 1,0 -8.6,0M294.7,201.0a4.3,4.3 0 1,0 8.6,0a4.3,4.3 0 1,0 -8.6,0M305.7,191.0a4.3,4.3 0 1,0 8.6,0a4.3,4.3 0 1,0 -8.6,0M322.7,197.0a4.3,4.3 0 1,0 8.6,0a4.3,4.3 0 1,0 -8.6,0M329.7,188.0a4.3,4.3 0 1,0 8.6,0a4.3,4.3 0 1,0 -8.6,0M322.7,197.0a4.3,4.3 0 1,0 8.6,0a4.3,4.3 0 1,0 -8.6,0M321.7,213.0a4.3,4.3 0 1,0 8.6,0a4.3,4.3 0 1,0 -8.6,0M329.7,226.0a4.3,4.3 0 1,0 8.6,0a4.3,4.3 0 1,0 -8.6,0M324.7,229.0a4.3,4.3 0 1,0 8.6,0a4.3,4.3 0 1,0 -8.6,0M257.7,229.0a4.3,4.3 0 1,0 8.6,0a4.3,4.3 0 1,0 -8.6,0M277.7,233.0a4.3,4.3 0 1,0 8.6,0a4.3,4.3 0 1,0 -8.6,0M297.7,229.0a4.3,4.3 0 1,0 8.6,0a4.3,4.3 0 1,0 -8.6,0M307.7,232.0a4.3,4.3 0 1,0 8.6,0a4.3,4.3 0 1,0 -8.6,0" fill="#cf5f5c"/>
<path d="M194.8,118.2a2,2 0 1,0 4,0a2,2 0 1,0 -4,0M238.6,127.1a2,2 0 1,0 4,0a2,2 0 1,0 -4,0M211.1,118.6a2,2 0 1,0 4,0a2,2 0 1,0 -4,0M213.5,123.2a2,2 0 1,0 4,0a2,2 0 1,0 -4,0M228.5,137.0a2,2 0 1,0 4,0a2,2 0 1,0 -4,0M211.8,156.7a2,2 0 1,0 4,0a2,2 0 1,0 -4,0M220.7,144.0a2,2 0 1,0 4,0a2,2 0 1,0 -4,0M231.1,173.0a2,2 0 1,0 4,0a2,2 0 1,0 -4,0M234.9,155.5a2,2 0 1,0 4,0a2,2 0 1,0 -4,0M268.8,114.7a2,2 0 1,0 4,0a2,2 0 1,0 -4,0M308.5,102.7a2,2 0 1,0 4,0a2,2 0 1,0 -4,0M320.8,109.3a2,2 0 1,0 4,0a2,2 0 1,0 -4,0M337.8,102.0a2,2 0 1,0 4,0a2,2 0 1,0 -4,0M314.5,104.1a2,2 0 1,0 4,0a2,2 0 1,0 -4,0M317.9,114.4a2,2 0 1,0 4,0a2,2 0 1,0 -4,0M328.6,111.0a2,2 0 1,0 4,0a2,2 0 1,0 -4,0M334.1,137.0a2,2 0 1,0 4,0a2,2 0 1,0 -4,0M333.7,142.3a2,2 0 1,0 4,0a2,2 0 1,0 -4,0M320.6,146.9a2,2 0 1,0 4,0a2,2 0 1,0 -4,0M254.8,148.5a2,2 0 1,0 4,0a2,2 0 1,0 -4,0M290.5,162.2a2,2 0 1,0 4,0a2,2 0 1,0 -4,0M310.1,145.5a2,2 0 1,0 4,0a2,2 0 1,0 -4,0M303.0,156.6a2,2 0 1,0 4,0a2,2 0 1,0 -4,0M319.6,152.2a2,2 0 1,0 4,0a2,2 0 1,0 -4,0M218.0,205.5a2,2 0 1,0 4,0a2,2 0 1,0 -4,0M237.1,196.6a2,2 0 1,0 4,0a2,2 0 1,0 -4,0M223.0,203.7a2,2 0 1,0 4,0a2,2 0 1,0 -4,0M227.4,235.0a2,2 0 1,0 4,0a2,2 0 1,0 -4,0M229.6,217.4a2,2 0 1,0 4,0a2,2 0 1,0 -4,0M214.4,222.3a2,2 0 1,0 4,0a2,2 0 1,0 -4,0M213.0,236.7a2,2 0 1,0 4,0a2,2 0 1,0 -4,0M239.7,245.7a2,2 0 1,0 4,0a2,2 0 1,0 -4,0M266.1,191.8a2,2 0 1,0 4,0a2,2 0 1,0 -4,0M290.8,207.5a2,2 0 1,0 4,0a2,2 0 1,0 -4,0M296.0,192.1a2,2 0 1,0 4,0a2,2 0 1,0 -4,0M316.7,193.4a2,2 0 1,0 4,0a2,2 0 1,0 -4,0M305.4,182.4a2,2 0 1,0 4,0a2,2 0 1,0 -4,0M319.6,189.8a2,2 0 1,0 4,0a2,2 0 1,0 -4,0M329.4,204.8a2,2 0 1,0 4,0a2,2 0 1,0 -4,0M340.9,187.0a2,2 0 1,0 4,0a2,2 0 1,0 -4,0M316.3,194.8a2,2 0 1,0 4,0a2,2 0 1,0 -4,0M316.6,218.1a2,2 0 1,0 4,0a2,2 0 1,0 -4,0M340.6,223.4a2,2 0 1,0 4,0a2,2 0 1,0 -4,0M318.3,231.3a2,2 0 1,0 4,0a2,2 0 1,0 -4,0M255.1,221.4a2,2 0 1,0 4,0a2,2 0 1,0 -4,0M301.9,220.2a2,2 0 1,0 4,0a2,2 0 1,0 -4,0M303.9,220.9a2,2 0 1,0 4,0a2,2 0 1,0 -4,0M301.1,230.9a2,2 0 1,0 4,0a2,2 0 1,0 -4,0" fill="#f4f0f0"/>
<path d="M4.3,186.0C5.2,176.1 6.0,163.5 11.5,151.6C17.0,139.7 27.2,124.0 37.2,114.4C47.2,104.9 59.6,99.2 71.6,94.3C83.5,89.4 96.0,85.9 108.9,85.2C121.8,84.5 137.2,86.1 149.0,90.0C160.8,93.9 171.0,99.3 180.0,108.6C189.0,117.9 197.5,134.1 203.0,146.0C208.5,157.9 211.1,171.0 213.0,180.0C214.9,189.0 215.1,191.8 214.6,200.0C214.1,208.2 213.3,219.4 210.0,229.0C206.7,238.6 200.9,249.5 194.5,257.6C188.1,265.7 180.2,273.0 171.6,277.7C163.0,282.4 152.1,284.1 143.0,286.0C133.9,287.9 126.2,289.1 117.0,289.4C107.8,289.7 96.1,288.9 87.5,287.8C78.9,286.7 72.4,285.3 65.6,283.0C58.8,280.7 52.6,278.0 46.9,273.8C41.2,269.6 35.9,263.2 31.2,258.0C26.6,252.8 22.4,247.7 18.8,242.5C15.1,237.3 11.5,232.2 9.4,227.0C7.3,221.8 7.1,217.8 6.2,211.0C5.4,204.2 3.4,195.9 4.3,186.0Z" fill="url(#gBlue)" stroke="#2f5a8c" stroke-opacity="0.35" stroke-width="1.6"/>
<path d="M112.3,99.3C109.0,100.1 90.6,111.0 86.5,114.5C82.3,118.0 65.7,137.0 62.2,141.9C58.6,146.7 46.2,167.4 43.9,172.2C41.7,176.9 35.8,194.7 34.6,199.2C33.5,203.7 28.1,221.9 30.4,225.7C32.6,229.5 54.4,242.5 61.6,244.2C68.9,246.0 108.5,246.8 116.9,246.9C125.2,247.0 156.0,246.6 162.1,245.1C168.3,243.6 188.7,232.2 191.0,228.3C193.2,224.5 190.3,204.1 189.4,199.2C188.5,194.3 183.4,174.7 180.4,169.2C177.3,163.7 157.6,138.1 153.0,132.7C148.5,127.4 129.4,108.2 126.0,105.4C122.6,102.6 115.6,98.6 112.3,99.3Z" fill="#4a86c6"/>
<clipPath id="cc1"><path d="M110.3,105.8C107.2,106.5 89.8,116.8 85.9,120.1C82.0,123.4 66.3,141.4 63.0,145.9C59.7,150.4 48.0,170.0 45.8,174.5C43.6,179.0 38.1,195.8 37.0,200.0C35.9,204.2 30.9,221.5 33.0,225.0C35.1,228.5 55.7,240.8 62.5,242.5C69.3,244.2 106.7,244.9 114.6,245.0C122.5,245.1 151.5,244.8 157.3,243.3C163.1,241.8 182.4,231.1 184.5,227.5C186.6,223.9 183.8,204.7 183.0,200.0C182.2,195.3 177.4,176.9 174.5,171.7C171.6,166.5 153.0,142.3 148.7,137.3C144.4,132.3 126.4,114.1 123.2,111.5C120.0,108.9 113.4,105.1 110.3,105.8Z"/></clipPath>
<path d="M110.3,105.8C107.2,106.5 89.8,116.8 85.9,120.1C82.0,123.4 66.3,141.4 63.0,145.9C59.7,150.4 48.0,170.0 45.8,174.5C43.6,179.0 38.1,195.8 37.0,200.0C35.9,204.2 30.9,221.5 33.0,225.0C35.1,228.5 55.7,240.8 62.5,242.5C69.3,244.2 106.7,244.9 114.6,245.0C122.5,245.1 151.5,244.8 157.3,243.3C163.1,241.8 182.4,231.1 184.5,227.5C186.6,223.9 183.8,204.7 183.0,200.0C182.2,195.3 177.4,176.9 174.5,171.7C171.6,166.5 153.0,142.3 148.7,137.3C144.4,132.3 126.4,114.1 123.2,111.5C120.0,108.9 113.4,105.1 110.3,105.8Z" fill="url(#gCore)"/>
<g clip-path="url(#cc1)" filter="url(#blur4)">
<ellipse cx="100" cy="170" rx="18" ry="10" fill="#2f3344" opacity="0.5"/>
<ellipse cx="128" cy="168" rx="14" ry="9" fill="#6d6468" opacity="0.55"/>
<ellipse cx="150" cy="215" rx="16" ry="12" fill="#6a6266" opacity="0.5"/>
<ellipse cx="70" cy="225" rx="22" ry="10" fill="#625d64" opacity="0.5"/>
</g>
<path d="M988.3,124.9L1001.7,118.9M988.3,124.9L988.3,128.7M988.3,128.7L1001.7,126.6M988.3,136.5L1001.7,130.5M1001.7,118.9L1015.1,116.8M1001.7,126.6L1015.1,120.7M1001.7,126.6L1001.7,130.5M1001.7,130.5L1015.1,128.4M1001.7,138.3L1015.1,132.3M1001.7,138.3L1001.7,142.1M1001.7,142.1L1015.1,140.1M1015.1,116.8L1028.5,110.8M1015.1,116.8L1015.1,120.7M1015.1,120.7L1028.5,118.6M1015.1,128.4L1028.5,122.5M1015.1,128.4L1015.1,132.3M1015.1,132.3L1028.5,130.2M1015.1,140.1L1028.5,134.1M1028.5,107.0L1042.0,101.0M1028.5,107.0L1028.5,110.8M1028.5,110.8L1042.0,108.7M1028.5,118.6L1042.0,112.6M1028.5,118.6L1028.5,122.5M1028.5,122.5L1042.0,120.4M1028.5,130.2L1042.0,124.2M1028.5,130.2L1028.5,134.1M1042.0,101.0L1055.4,98.9M1042.0,108.7L1055.4,102.8M1042.0,108.7L1042.0,112.6M1042.0,112.6L1055.4,110.5M1042.0,120.4L1055.4,114.4M1042.0,120.4L1042.0,124.2M1042.0,124.2L1055.4,122.2M1055.4,98.9L1068.8,92.9M1055.4,98.9L1055.4,102.8M1055.4,102.8L1068.8,100.7M1055.4,110.5L1068.8,104.6M1055.4,110.5L1055.4,114.4M1055.4,114.4L1068.8,112.3M1055.4,122.2L1068.8,116.2M1068.8,89.1L1068.8,92.9M1068.8,92.9L1082.2,90.9M1068.8,100.7L1082.2,94.7M1068.8,100.7L1068.8,104.6M1068.8,104.6L1082.2,102.5M1068.8,112.3L1082.2,106.4M1068.8,112.3L1068.8,116.2M1068.8,116.2L1082.2,114.1M1082.2,90.9L1095.7,84.9M1082.2,90.9L1082.2,94.7M1082.2,94.7L1095.7,92.6M1082.2,102.5L1095.7,96.5M1082.2,102.5L1082.2,106.4M1082.2,106.4L1095.7,104.3M1082.2,114.1L1095.7,108.1M1095.7,81.0L1109.1,75.1M1095.7,81.0L1095.7,84.9M1095.7,84.9L1109.1,82.8M1095.7,92.6L1109.1,86.7M1095.7,92.6L1095.7,96.5M1095.7,96.5L1109.1,94.4M1095.7,104.3L1109.1,98.3M1095.7,104.3L1095.7,108.1M1095.7,108.1L1109.1,106.1M1109.1,82.8L1122.5,76.8M1109.1,82.8L1109.1,86.7M1109.1,86.7L1122.5,84.6M1109.1,94.4L1122.5,88.5M1109.1,94.4L1109.1,98.3M1109.1,98.3L1122.5,96.2M1109.1,106.1L1122.5,100.1M1122.5,84.6L1122.5,88.5M1122.5,88.5L1135.9,86.4M1122.5,96.2L1135.9,90.2M1122.5,96.2L1122.5,100.1M1122.5,100.1L1135.9,98.0M1135.9,86.4L1135.9,90.2M1135.9,90.2L1149.4,88.2M1135.9,98.0L1149.4,92.0M1135.9,98.0L1135.9,101.9M1135.9,101.9L1149.4,99.8M1149.4,88.2L1149.4,92.0M1149.4,92.0L1162.8,89.9M1149.4,99.8L1162.8,93.8M1149.4,99.8L1149.4,103.7M1162.8,89.9L1162.8,93.8" stroke="#666" stroke-width="2.6" fill="none" stroke-linecap="round"/>
<path d="M985.1,124.9a3.2,3.2 0 1,0 6.4,0a3.2,3.2 0 1,0 -6.4,0M985.1,128.7a3.2,3.2 0 1,0 6.4,0a3.2,3.2 0 1,0 -6.4,0M985.1,136.5a3.2,3.2 0 1,0 6.4,0a3.2,3.2 0 1,0 -6.4,0M998.5,118.9a3.2,3.2 0 1,0 6.4,0a3.2,3.2 0 1,0 -6.4,0M998.5,126.6a3.2,3.2 0 1,0 6.4,0a3.2,3.2 0 1,0 -6.4,0M998.5,130.5a3.2,3.2 0 1,0 6.4,0a3.2,3.2 0 1,0 -6.4,0M998.5,138.3a3.2,3.2 0 1,0 6.4,0a3.2,3.2 0 1,0 -6.4,0M998.5,142.1a3.2,3.2 0 1,0 6.4,0a3.2,3.2 0 1,0 -6.4,0M1011.9,116.8a3.2,3.2 0 1,0 6.4,0a3.2,3.2 0 1,0 -6.4,0M1011.9,120.7a3.2,3.2 0 1,0 6.4,0a3.2,3.2 0 1,0 -6.4,0M1011.9,128.4a3.2,3.2 0 1,0 6.4,0a3.2,3.2 0 1,0 -6.4,0M1011.9,132.3a3.2,3.2 0 1,0 6.4,0a3.2,3.2 0 1,0 -6.4,0M1011.9,140.1a3.2,3.2 0 1,0 6.4,0a3.2,3.2 0 1,0 -6.4,0M1025.3,107.0a3.2,3.2 0 1,0 6.4,0a3.2,3.2 0 1,0 -6.4,0M1025.3,110.8a3.2,3.2 0 1,0 6.4,0a3.2,3.2 0 1,0 -6.4,0M1025.3,118.6a3.2,3.2 0 1,0 6.4,0a3.2,3.2 0 1,0 -6.4,0M1025.3,122.5a3.2,3.2 0 1,0 6.4,0a3.2,3.2 0 1,0 -6.4,0M1025.3,130.2a3.2,3.2 0 1,0 6.4,0a3.2,3.2 0 1,0 -6.4,0M1025.3,134.1a3.2,3.2 0 1,0 6.4,0a3.2,3.2 0 1,0 -6.4,0M1038.8,101.0a3.2,3.2 0 1,0 6.4,0a3.2,3.2 0 1,0 -6.4,0M1038.8,108.7a3.2,3.2 0 1,0 6.4,0a3.2,3.2 0 1,0 -6.4,0M1038.8,112.6a3.2,3.2 0 1,0 6.4,0a3.2,3.2 0 1,0 -6.4,0M1038.8,120.4a3.2,3.2 0 1,0 6.4,0a3.2,3.2 0 1,0 -6.4,0M1038.8,124.2a3.2,3.2 0 1,0 6.4,0a3.2,3.2 0 1,0 -6.4,0M1052.2,98.9a3.2,3.2 0 1,0 6.4,0a3.2,3.2 0 1,0 -6.4,0M1052.2,102.8a3.2,3.2 0 1,0 6.4,0a3.2,3.2 0 1,0 -6.4,0M1052.2,110.5a3.2,3.2 0 1,0 6.4,0a3.2,3.2 0 1,0 -6.4,0M1052.2,114.4a3.2,3.2 0 1,0 6.4,0a3.2,3.2 0 1,0 -6.4,0M1052.2,122.2a3.2,3.2 0 1,0 6.4,0a3.2,3.2 0 1,0 -6.4,0M1065.6,89.1a3.2,3.2 0 1,0 6.4,0a3.2,3.2 0 1,0 -6.4,0M1065.6,92.9a3.2,3.2 0 1,0 6.4,0a3.2,3.2 0 1,0 -6.4,0M1065.6,100.7a3.2,3.2 0 1,0 6.4,0a3.2,3.2 0 1,0 -6.4,0M1065.6,104.6a3.2,3.2 0 1,0 6.4,0a3.2,3.2 0 1,0 -6.4,0M1065.6,112.3a3.2,3.2 0 1,0 6.4,0a3.2,3.2 0 1,0 -6.4,0M1065.6,116.2a3.2,3.2 0 1,0 6.4,0a3.2,3.2 0 1,0 -6.4,0M1079.0,90.9a3.2,3.2 0 1,0 6.4,0a3.2,3.2 0 1,0 -6.4,0M1079.0,94.7a3.2,3.2 0 1,0 6.4,0a3.2,3.2 0 1,0 -6.4,0M1079.0,102.5a3.2,3.2 0 1,0 6.4,0a3.2,3.2 0 1,0 -6.4,0M1079.0,106.4a3.2,3.2 0 1,0 6.4,0a3.2,3.2 0 1,0 -6.4,0M1079.0,114.1a3.2,3.2 0 1,0 6.4,0a3.2,3.2 0 1,0 -6.4,0M1092.5,81.0a3.2,3.2 0 1,0 6.4,0a3.2,3.2 0 1,0 -6.4,0M1092.5,84.9a3.2,3.2 0 1,0 6.4,0a3.2,3.2 0 1,0 -6.4,0M1092.5,92.6a3.2,3.2 0 1,0 6.4,0a3.2,3.2 0 1,0 -6.4,0M1092.5,96.5a3.2,3.2 0 1,0 6.4,0a3.2,3.2 0 1,0 -6.4,0M1092.5,104.3a3.2,3.2 0 1,0 6.4,0a3.2,3.2 0 1,0 -6.4,0M1092.5,108.1a3.2,3.2 0 1,0 6.4,0a3.2,3.2 0 1,0 -6.4,0M1105.9,75.1a3.2,3.2 0 1,0 6.4,0a3.2,3.2 0 1,0 -6.4,0M1105.9,82.8a3.2,3.2 0 1,0 6.4,0a3.2,3.2 0 1,0 -6.4,0M1105.9,86.7a3.2,3.2 0 1,0 6.4,0a3.2,3.2 0 1,0 -6.4,0M1105.9,94.4a3.2,3.2 0 1,0 6.4,0a3.2,3.2 0 1,0 -6.4,0M1105.9,98.3a3.2,3.2 0 1,0 6.4,0a3.2,3.2 0 1,0 -6.4,0M1105.9,106.1a3.2,3.2 0 1,0 6.4,0a3.2,3.2 0 1,0 -6.4,0M1119.3,76.8a3.2,3.2 0 1,0 6.4,0a3.2,3.2 0 1,0 -6.4,0M1119.3,84.6a3.2,3.2 0 1,0 6.4,0a3.2,3.2 0 1,0 -6.4,0M1119.3,88.5a3.2,3.2 0 1,0 6.4,0a3.2,3.2 0 1,0 -6.4,0M1119.3,96.2a3.2,3.2 0 1,0 6.4,0a3.2,3.2 0 1,0 -6.4,0M1119.3,100.1a3.2,3.2 0 1,0 6.4,0a3.2,3.2 0 1,0 -6.4,0M1132.7,86.4a3.2,3.2 0 1,0 6.4,0a3.2,3.2 0 1,0 -6.4,0M1132.7,90.2a3.2,3.2 0 1,0 6.4,0a3.2,3.2 0 1,0 -6.4,0M1132.7,98.0a3.2,3.2 0 1,0 6.4,0a3.2,3.2 0 1,0 -6.4,0M1132.7,101.9a3.2,3.2 0 1,0 6.4,0a3.2,3.2 0 1,0 -6.4,0M1146.2,88.2a3.2,3.2 0 1,0 6.4,0a3.2,3.2 0 1,0 -6.4,0M1146.2,92.0a3.2,3.2 0 1,0 6.4,0a3.2,3.2 0 1,0 -6.4,0M1146.2,99.8a3.2,3.2 0 1,0 6.4,0a3.2,3.2 0 1,0 -6.4,0M1146.2,103.7a3.2,3.2 0 1,0 6.4,0a3.2,3.2 0 1,0 -6.4,0M1159.6,89.9a3.2,3.2 0 1,0 6.4,0a3.2,3.2 0 1,0 -6.4,0M1159.6,93.8a3.2,3.2 0 1,0 6.4,0a3.2,3.2 0 1,0 -6.4,0" fill="#5f5f5f"/>
<path d="M1003.6,160.4L1017.4,157.5M1003.6,160.4L1003.6,165.2M1003.6,165.2L1017.4,167.1M1003.6,174.8L1017.4,171.9M1003.6,174.8L1003.6,179.6M1003.6,179.6L1017.4,181.5M1017.4,157.5L1031.3,159.5M1017.4,167.1L1031.3,164.3M1017.4,167.1L1017.4,171.9M1017.4,171.9L1031.3,173.9M1017.4,181.5L1031.3,178.7M1031.3,159.5L1045.1,156.7M1031.3,159.5L1031.3,164.3M1031.3,164.3L1045.1,166.3M1031.3,173.9L1045.1,171.1M1031.3,173.9L1031.3,178.7M1031.3,178.7L1045.1,180.7M1045.1,156.7L1059.0,158.7M1045.1,166.3L1059.0,163.5M1045.1,166.3L1045.1,171.1M1045.1,171.1L1059.0,173.1M1045.1,180.7L1059.0,177.9M1059.0,158.7L1072.9,155.9M1059.0,158.7L1059.0,163.5M1059.0,163.5L1072.9,165.5M1059.0,173.1L1072.9,170.3M1059.0,173.1L1059.0,177.9M1059.0,177.9L1072.9,179.9M1072.9,155.9L1086.7,157.9M1072.9,165.5L1086.7,162.7M1072.9,165.5L1072.9,170.3M1072.9,170.3L1086.7,172.3M1072.9,179.9L1086.7,177.1M1086.7,157.9L1100.6,155.0M1086.7,157.9L1086.7,162.7M1086.7,162.7L1100.6,164.6M1086.7,172.3L1100.6,169.4M1086.7,172.3L1086.7,177.1M1086.7,177.1L1100.6,179.0M1100.6,155.0L1114.4,157.0M1100.6,164.6L1114.4,161.8M1100.6,164.6L1100.6,169.4M1100.6,169.4L1114.4,171.4M1100.6,179.0L1114.4,176.2M1114.4,157.0L1128.3,154.2M1114.4,157.0L1114.4,161.8M1114.4,161.8L1128.3,163.8M1114.4,171.4L1128.3,168.6M1114.4,171.4L1114.4,176.2M1114.4,176.2L1128.3,178.2M1128.3,154.2L1142.1,156.2M1128.3,163.8L1142.1,161.0M1128.3,163.8L1128.3,168.6M1128.3,168.6L1142.1,170.6M1128.3,178.2L1142.1,175.4M1142.1,156.2L1142.1,161.0M1142.1,161.0L1156.0,163.0M1142.1,170.6L1156.0,167.8M1142.1,170.6L1142.1,175.4M1156.0,163.0L1156.0,167.8" stroke="#666" stroke-width="2.8" fill="none" stroke-linecap="round"/>
<path d="M1000.4,160.4a3.2,3.2 0 1,0 6.4,0a3.2,3.2 0 1,0 -6.4,0M1000.4,165.2a3.2,3.2 0 1,0 6.4,0a3.2,3.2 0 1,0 -6.4,0M1000.4,174.8a3.2,3.2 0 1,0 6.4,0a3.2,3.2 0 1,0 -6.4,0M1000.4,179.6a3.2,3.2 0 1,0 6.4,0a3.2,3.2 0 1,0 -6.4,0M1014.2,157.5a3.2,3.2 0 1,0 6.4,0a3.2,3.2 0 1,0 -6.4,0M1014.2,167.1a3.2,3.2 0 1,0 6.4,0a3.2,3.2 0 1,0 -6.4,0M1014.2,171.9a3.2,3.2 0 1,0 6.4,0a3.2,3.2 0 1,0 -6.4,0M1014.2,181.5a3.2,3.2 0 1,0 6.4,0a3.2,3.2 0 1,0 -6.4,0M1028.1,159.5a3.2,3.2 0 1,0 6.4,0a3.2,3.2 0 1,0 -6.4,0M1028.1,164.3a3.2,3.2 0 1,0 6.4,0a3.2,3.2 0 1,0 -6.4,0M1028.1,173.9a3.2,3.2 0 1,0 6.4,0a3.2,3.2 0 1,0 -6.4,0M1028.1,178.7a3.2,3.2 0 1,0 6.4,0a3.2,3.2 0 1,0 -6.4,0M1041.9,156.7a3.2,3.2 0 1,0 6.4,0a3.2,3.2 0 1,0 -6.4,0M1041.9,166.3a3.2,3.2 0 1,0 6.4,0a3.2,3.2 0 1,0 -6.4,0M1041.9,171.1a3.2,3.2 0 1,0 6.4,0a3.2,3.2 0 1,0 -6.4,0M1041.9,180.7a3.2,3.2 0 1,0 6.4,0a3.2,3.2 0 1,0 -6.4,0M1055.8,158.7a3.2,3.2 0 1,0 6.4,0a3.2,3.2 0 1,0 -6.4,0M1055.8,163.5a3.2,3.2 0 1,0 6.4,0a3.2,3.2 0 1,0 -6.4,0M1055.8,173.1a3.2,3.2 0 1,0 6.4,0a3.2,3.2 0 1,0 -6.4,0M1055.8,177.9a3.2,3.2 0 1,0 6.4,0a3.2,3.2 0 1,0 -6.4,0M1069.7,155.9a3.2,3.2 0 1,0 6.4,0a3.2,3.2 0 1,0 -6.4,0M1069.7,165.5a3.2,3.2 0 1,0 6.4,0a3.2,3.2 0 1,0 -6.4,0M1069.7,170.3a3.2,3.2 0 1,0 6.4,0a3.2,3.2 0 1,0 -6.4,0M1069.7,179.9a3.2,3.2 0 1,0 6.4,0a3.2,3.2 0 1,0 -6.4,0M1083.5,157.9a3.2,3.2 0 1,0 6.4,0a3.2,3.2 0 1,0 -6.4,0M1083.5,162.7a3.2,3.2 0 1,0 6.4,0a3.2,3.2 0 1,0 -6.4,0M1083.5,172.3a3.2,3.2 0 1,0 6.4,0a3.2,3.2 0 1,0 -6.4,0M1083.5,177.1a3.2,3.2 0 1,0 6.4,0a3.2,3.2 0 1,0 -6.4,0M1097.4,155.0a3.2,3.2 0 1,0 6.4,0a3.2,3.2 0 1,0 -6.4,0M1097.4,164.6a3.2,3.2 0 1,0 6.4,0a3.2,3.2 0 1,0 -6.4,0M1097.4,169.4a3.2,3.2 0 1,0 6.4,0a3.2,3.2 0 1,0 -6.4,0M1097.4,179.0a3.2,3.2 0 1,0 6.4,0a3.2,3.2 0 1,0 -6.4,0M1111.2,157.0a3.2,3.2 0 1,0 6.4,0a3.2,3.2 0 1,0 -6.4,0M1111.2,161.8a3.2,3.2 0 1,0 6.4,0a3.2,3.2 0 1,0 -6.4,0M1111.2,171.4a3.2,3.2 0 1,0 6.4,0a3.2,3.2 0 1,0 -6.4,0M1111.2,176.2a3.2,3.2 0 1,0 6.4,0a3.2,3.2 0 1,0 -6.4,0M1125.1,154.2a3.2,3.2 0 1,0 6.4,0a3.2,3.2 0 1,0 -6.4,0M1125.1,163.8a3.2,3.2 0 1,0 6.4,0a3.2,3.2 0 1,0 -6.4,0M1125.1,168.6a3.2,3.2 0 1,0 6.4,0a3.2,3.2 0 1,0 -6.4,0M1125.1,178.2a3.2,3.2 0 1,0 6.4,0a3.2,3.2 0 1,0 -6.4,0M1138.9,156.2a3.2,3.2 0 1,0 6.4,0a3.2,3.2 0 1,0 -6.4,0M1138.9,161.0a3.2,3.2 0 1,0 6.4,0a3.2,3.2 0 1,0 -6.4,0M1138.9,170.6a3.2,3.2 0 1,0 6.4,0a3.2,3.2 0 1,0 -6.4,0M1138.9,175.4a3.2,3.2 0 1,0 6.4,0a3.2,3.2 0 1,0 -6.4,0M1152.8,163.0a3.2,3.2 0 1,0 6.4,0a3.2,3.2 0 1,0 -6.4,0M1152.8,167.8a3.2,3.2 0 1,0 6.4,0a3.2,3.2 0 1,0 -6.4,0" fill="#5f5f5f"/>
<path d="M971.3,261.8L984.8,258.0M971.3,261.8L971.3,268.0M971.3,268.0L984.8,270.5M984.8,251.7L998.3,247.9M984.8,251.7L984.8,258.0M984.8,258.0L998.3,260.4M984.8,270.5L998.3,266.7M998.3,241.7L1011.9,237.9M998.3,241.7L998.3,247.9M998.3,247.9L1011.9,250.4M998.3,260.4L1011.9,256.6M998.3,260.4L998.3,266.7M998.3,266.7L1011.9,269.1M1011.9,231.7L1025.4,227.9M1011.9,231.7L1011.9,237.9M1011.9,237.9L1025.4,240.4M1011.9,250.4L1025.4,246.6M1011.9,250.4L1011.9,256.6M1011.9,256.6L1025.4,259.1M1011.9,269.1L1025.4,265.3M1025.4,227.9L1038.9,230.3M1025.4,240.4L1038.9,236.6M1025.4,240.4L1025.4,246.6M1025.4,246.6L1038.9,249.0M1025.4,259.1L1038.9,255.3M1025.4,259.1L1025.4,265.3M1025.4,265.3L1038.9,267.8M1038.9,230.3L1052.4,226.5M1038.9,230.3L1038.9,236.6M1038.9,236.6L1052.4,239.0M1038.9,249.0L1052.4,245.2M1038.9,249.0L1038.9,255.3M1038.9,255.3L1052.4,257.7M1038.9,267.8L1052.4,264.0M1052.4,226.5L1065.9,229.0M1052.4,239.0L1065.9,235.2M1052.4,239.0L1052.4,245.2M1052.4,245.2L1065.9,247.7M1052.4,257.7L1065.9,253.9M1052.4,257.7L1052.4,264.0M1065.9,229.0L1079.4,225.2M1065.9,229.0L1065.9,235.2M1065.9,235.2L1079.4,237.6M1065.9,247.7L1079.4,243.9M1065.9,247.7L1065.9,253.9M1065.9,253.9L1079.4,256.4M1079.4,225.2L1092.9,227.6M1079.4,237.6L1092.9,233.9M1079.4,237.6L1079.4,243.9M1079.4,243.9L1092.9,246.3M1079.4,256.4L1092.9,252.6M1092.9,227.6L1106.4,223.8M1092.9,227.6L1092.9,233.9M1092.9,233.9L1106.4,236.3M1092.9,246.3L1106.4,242.5M1092.9,246.3L1092.9,252.6M1092.9,252.6L1106.4,255.0M1106.4,223.8L1119.9,226.3M1106.4,236.3L1119.9,232.5M1106.4,236.3L1106.4,242.5M1106.4,242.5L1119.9,245.0M1106.4,255.0L1119.9,251.2M1119.9,226.3L1133.4,222.5M1119.9,226.3L1119.9,232.5M1119.9,232.5L1133.4,234.9M1119.9,245.0L1133.4,241.2M1119.9,245.0L1119.9,251.2M1119.9,251.2L1133.4,253.7M1133.4,222.5L1147.0,224.9M1133.4,234.9L1147.0,231.2M1133.4,234.9L1133.4,241.2M1133.4,241.2L1147.0,243.6M1133.4,253.7L1147.0,249.9M1147.0,224.9L1147.0,231.2M1147.0,231.2L1160.5,233.6M1147.0,243.6L1160.5,239.8M1147.0,243.6L1147.0,249.9M1160.5,233.6L1160.5,239.8" stroke="#666" stroke-width="2.8" fill="none" stroke-linecap="round"/>
<path d="M968.1,261.8a3.2,3.2 0 1,0 6.4,0a3.2,3.2 0 1,0 -6.4,0M968.1,268.0a3.2,3.2 0 1,0 6.4,0a3.2,3.2 0 1,0 -6.4,0M981.6,251.7a3.2,3.2 0 1,0 6.4,0a3.2,3.2 0 1,0 -6.4,0M981.6,258.0a3.2,3.2 0 1,0 6.4,0a3.2,3.2 0 1,0 -6.4,0M981.6,270.5a3.2,3.2 0 1,0 6.4,0a3.2,3.2 0 1,0 -6.4,0M995.1,241.7a3.2,3.2 0 1,0 6.4,0a3.2,3.2 0 1,0 -6.4,0M995.1,247.9a3.2,3.2 0 1,0 6.4,0a3.2,3.2 0 1,0 -6.4,0M995.1,260.4a3.2,3.2 0 1,0 6.4,0a3.2,3.2 0 1,0 -6.4,0M995.1,266.7a3.2,3.2 0 1,0 6.4,0a3.2,3.2 0 1,0 -6.4,0M1008.7,231.7a3.2,3.2 0 1,0 6.4,0a3.2,3.2 0 1,0 -6.4,0M1008.7,237.9a3.2,3.2 0 1,0 6.4,0a3.2,3.2 0 1,0 -6.4,0M1008.7,250.4a3.2,3.2 0 1,0 6.4,0a3.2,3.2 0 1,0 -6.4,0M1008.7,256.6a3.2,3.2 0 1,0 6.4,0a3.2,3.2 0 1,0 -6.4,0M1008.7,269.1a3.2,3.2 0 1,0 6.4,0a3.2,3.2 0 1,0 -6.4,0M1022.2,227.9a3.2,3.2 0 1,0 6.4,0a3.2,3.2 0 1,0 -6.4,0M1022.2,240.4a3.2,3.2 0 1,0 6.4,0a3.2,3.2 0 1,0 -6.4,0M1022.2,246.6a3.2,3.2 0 1,0 6.4,0a3.2,3.2 0 1,0 -6.4,0M1022.2,259.1a3.2,3.2 0 1,0 6.4,0a3.2,3.2 0 1,0 -6.4,0M1022.2,265.3a3.2,3.2 0 1,0 6.4,0a3.2,3.2 0 1,0 -6.4,0M1035.7,230.3a3.2,3.2 0 1,0 6.4,0a3.2,3.2 0 1,0 -6.4,0M1035.7,236.6a3.2,3.2 0 1,0 6.4,0a3.2,3.2 0 1,0 -6.4,0M1035.7,249.0a3.2,3.2 0 1,0 6.4,0a3.2,3.2 0 1,0 -6.4,0M1035.7,255.3a3.2,3.2 0 1,0 6.4,0a3.2,3.2 0 1,0 -6.4,0M1035.7,267.8a3.2,3.2 0 1,0 6.4,0a3.2,3.2 0 1,0 -6.4,0M1049.2,226.5a3.2,3.2 0 1,0 6.4,0a3.2,3.2 0 1,0 -6.4,0M1049.2,239.0a3.2,3.2 0 1,0 6.4,0a3.2,3.2 0 1,0 -6.4,0M1049.2,245.2a3.2,3.2 0 1,0 6.4,0a3.2,3.2 0 1,0 -6.4,0M1049.2,257.7a3.2,3.2 0 1,0 6.4,0a3.2,3.2 0 1,0 -6.4,0M1049.2,264.0a3.2,3.2 0 1,0 6.4,0a3.2,3.2 0 1,0 -6.4,0M1062.7,229.0a3.2,3.2 0 1,0 6.4,0a3.2,3.2 0 1,0 -6.4,0M1062.7,235.2a3.2,3.2 0 1,0 6.4,0a3.2,3.2 0 1,0 -6.4,0M1062.7,247.7a3.2,3.2 0 1,0 6.4,0a3.2,3.2 0 1,0 -6.4,0M1062.7,253.9a3.2,3.2 0 1,0 6.4,0a3.2,3.2 0 1,0 -6.4,0M1076.2,225.2a3.2,3.2 0 1,0 6.4,0a3.2,3.2 0 1,0 -6.4,0M1076.2,237.6a3.2,3.2 0 1,0 6.4,0a3.2,3.2 0 1,0 -6.4,0M1076.2,243.9a3.2,3.2 0 1,0 6.4,0a3.2,3.2 0 1,0 -6.4,0M1076.2,256.4a3.2,3.2 0 1,0 6.4,0a3.2,3.2 0 1,0 -6.4,0M1089.7,227.6a3.2,3.2 0 1,0 6.4,0a3.2,3.2 0 1,0 -6.4,0M1089.7,233.9a3.2,3.2 0 1,0 6.4,0a3.2,3.2 0 1,0 -6.4,0M1089.7,246.3a3.2,3.2 0 1,0 6.4,0a3.2,3.2 0 1,0 -6.4,0M1089.7,252.6a3.2,3.2 0 1,0 6.4,0a3.2,3.2 0 1,0 -6.4,0M1103.2,223.8a3.2,3.2 0 1,0 6.4,0a3.2,3.2 0 1,0 -6.4,0M1103.2,236.3a3.2,3.2 0 1,0 6.4,0a3.2,3.2 0 1,0 -6.4,0M1103.2,242.5a3.2,3.2 0 1,0 6.4,0a3.2,3.2 0 1,0 -6.4,0M1103.2,255.0a3.2,3.2 0 1,0 6.4,0a3.2,3.2 0 1,0 -6.4,0M1116.7,226.3a3.2,3.2 0 1,0 6.4,0a3.2,3.2 0 1,0 -6.4,0M1116.7,232.5a3.2,3.2 0 1,0 6.4,0a3.2,3.2 0 1,0 -6.4,0M1116.7,245.0a3.2,3.2 0 1,0 6.4,0a3.2,3.2 0 1,0 -6.4,0M1116.7,251.2a3.2,3.2 0 1,0 6.4,0a3.2,3.2 0 1,0 -6.4,0M1130.2,222.5a3.2,3.2 0 1,0 6.4,0a3.2,3.2 0 1,0 -6.4,0M1130.2,234.9a3.2,3.2 0 1,0 6.4,0a3.2,3.2 0 1,0 -6.4,0M1130.2,241.2a3.2,3.2 0 1,0 6.4,0a3.2,3.2 0 1,0 -6.4,0M1130.2,253.7a3.2,3.2 0 1,0 6.4,0a3.2,3.2 0 1,0 -6.4,0M1143.8,224.9a3.2,3.2 0 1,0 6.4,0a3.2,3.2 0 1,0 -6.4,0M1143.8,231.2a3.2,3.2 0 1,0 6.4,0a3.2,3.2 0 1,0 -6.4,0M1143.8,243.6a3.2,3.2 0 1,0 6.4,0a3.2,3.2 0 1,0 -6.4,0M1143.8,249.9a3.2,3.2 0 1,0 6.4,0a3.2,3.2 0 1,0 -6.4,0M1157.3,233.6a3.2,3.2 0 1,0 6.4,0a3.2,3.2 0 1,0 -6.4,0M1157.3,239.8a3.2,3.2 0 1,0 6.4,0a3.2,3.2 0 1,0 -6.4,0" fill="#5f5f5f"/>
<path d="M1069.0,119.0L1085.0,125.0M1085.0,125.0L1097.0,117.0M1097.0,117.0L1110.0,125.0M1110.0,125.0L1114.6,117.3M1110.0,125.0L1120.0,119.0M1120.0,119.0L1119.9,128.0M1120.0,119.0L1119.0,111.0M1119.0,111.0L1112.0,105.4M1023.0,155.0L1032.0,155.0M1023.0,155.0L1038.0,155.0M1038.0,155.0L1041.0,146.5M1038.0,155.0L1043.7,148.1M1038.0,155.0L1054.0,151.0M1054.0,151.0L1045.3,148.5M1054.0,151.0L1064.0,158.0M1064.0,158.0L1055.0,157.9M1064.0,158.0L1071.3,152.8M1064.0,158.0L1080.0,152.0M1080.0,152.0L1086.0,145.0M1086.0,145.0L1077.2,147.0M1080.0,152.0L1087.5,147.1M1080.0,152.0L1089.0,155.0M1089.0,155.0L1096.0,149.3M1089.0,155.0L1080.1,153.6M1119.0,149.0L1119.8,158.0M1119.0,149.0L1135.0,149.0M1135.0,149.0L1152.0,145.0M1152.0,145.0L1147.9,153.0M1152.0,145.0L1160.0,152.0M1160.0,152.0L1151.0,151.4M1160.0,152.0L1173.0,141.0M1173.0,141.0L1182.0,140.9M1160.0,152.0L1169.0,151.7M1160.0,152.0L1179.0,148.0M1179.0,148.0L1181.6,139.4M1179.0,148.0L1178.1,139.0M1022.0,196.0L1024.2,187.3M1022.0,196.0L1035.0,204.0M1035.0,204.0L1029.2,210.9M1035.0,204.0L1046.0,195.0M1046.0,195.0L1050.8,202.6M1046.0,195.0L1046.2,186.0M1046.0,195.0L1039.0,190.0M1039.0,190.0L1033.9,182.6M1039.0,190.0L1039.0,199.0M1075.0,186.0L1083.0,181.9M1075.0,186.0L1089.0,189.0M1089.0,189.0L1084.3,181.4M1089.0,189.0L1104.0,196.0M1104.0,196.0L1111.3,190.7M1104.0,196.0L1095.3,198.2M1104.0,196.0L1115.0,188.0M1115.0,188.0L1106.0,188.8M1115.0,188.0L1116.6,196.9M1115.0,188.0L1128.0,196.0M1128.0,196.0L1131.6,187.7M1128.0,196.0L1136.0,188.0M1136.0,188.0L1142.4,181.7M1128.0,196.0L1129.3,187.1M1128.0,196.0L1127.0,211.0M1127.0,211.0L1123.7,219.4M1127.0,211.0L1135.7,208.6M1127.0,211.0L1132.0,210.0M1132.0,210.0L1128.6,218.3M1132.0,210.0L1134.4,218.7M996.0,229.0L1004.2,225.4M996.0,229.0L1011.0,230.0M1011.0,230.0L1023.0,234.0M1023.0,234.0L1021.6,225.1M1023.0,234.0L1039.0,229.0M1039.0,229.0L1048.0,228.8M1039.0,229.0L1046.0,218.0M1039.0,229.0L1046.0,229.0M1075.0,220.0L1067.5,215.1M1075.0,220.0L1090.0,219.0M1090.0,219.0L1091.0,225.0M1091.0,225.0L1096.5,217.9M1091.0,225.0L1106.0,219.0M1106.0,219.0L1110.1,211.0M1106.0,219.0L1116.0,225.0M1116.0,225.0L1130.0,220.0M1130.0,220.0L1137.2,214.6M1130.0,220.0L1130.5,211.0M1130.0,220.0L1136.0,219.0" stroke="#d98883" stroke-width="1.5" fill="none"/>
<circle cx="1089.0" cy="114.0" r="6.5" fill="#e3c980" opacity="0.8"/>
<circle cx="1057.0" cy="153.0" r="6.5" fill="#e3c980" opacity="0.8"/>
<circle cx="1149.0" cy="148.0" r="6.5" fill="#e3c980" opacity="0.8"/>
<circle cx="1016.0" cy="188.0" r="6.5" fill="#e3c980" opacity="0.8"/>
<circle cx="1106.0" cy="181.0" r="6.5" fill="#e3c980" opacity="0.8"/>
<circle cx="1017.0" cy="227.0" r="6.5" fill="#e3c980" opacity="0.8"/>
<circle cx="1106.0" cy="219.0" r="6.5" fill="#e3c980" opacity="0.8"/>
<path d="M1064.7,119.0a4.3,4.3 0 1,0 8.6,0a4.3,4.3 0 1,0 -8.6,0M1080.7,125.0a4.3,4.3 0 1,0 8.6,0a4.3,4.3 0 1,0 -8.6,0M1092.7,117.0a4.3,4.3 0 1,0 8.6,0a4.3,4.3 0 1,0 -8.6,0M1105.7,125.0a4.3,4.3 0 1,0 8.6,0a4.3,4.3 0 1,0 -8.6,0M1115.7,119.0a4.3,4.3 0 1,0 8.6,0a4.3,4.3 0 1,0 -8.6,0M1114.7,111.0a4.3,4.3 0 1,0 8.6,0a4.3,4.3 0 1,0 -8.6,0M1018.7,155.0a4.3,4.3 0 1,0 8.6,0a4.3,4.3 0 1,0 -8.6,0M1033.7,155.0a4.3,4.3 0 1,0 8.6,0a4.3,4.3 0 1,0 -8.6,0M1049.7,151.0a4.3,4.3 0 1,0 8.6,0a4.3,4.3 0 1,0 -8.6,0M1059.7,158.0a4.3,4.3 0 1,0 8.6,0a4.3,4.3 0 1,0 -8.6,0M1075.7,152.0a4.3,4.3 0 1,0 8.6,0a4.3,4.3 0 1,0 -8.6,0M1081.7,145.0a4.3,4.3 0 1,0 8.6,0a4.3,4.3 0 1,0 -8.6,0M1075.7,152.0a4.3,4.3 0 1,0 8.6,0a4.3,4.3 0 1,0 -8.6,0M1084.7,155.0a4.3,4.3 0 1,0 8.6,0a4.3,4.3 0 1,0 -8.6,0M1114.7,149.0a4.3,4.3 0 1,0 8.6,0a4.3,4.3 0 1,0 -8.6,0M1130.7,149.0a4.3,4.3 0 1,0 8.6,0a4.3,4.3 0 1,0 -8.6,0M1147.7,145.0a4.3,4.3 0 1,0 8.6,0a4.3,4.3 0 1,0 -8.6,0M1155.7,152.0a4.3,4.3 0 1,0 8.6,0a4.3,4.3 0 1,0 -8.6,0M1168.7,141.0a4.3,4.3 0 1,0 8.6,0a4.3,4.3 0 1,0 -8.6,0M1155.7,152.0a4.3,4.3 0 1,0 8.6,0a4.3,4.3 0 1,0 -8.6,0M1174.7,148.0a4.3,4.3 0 1,0 8.6,0a4.3,4.3 0 1,0 -8.6,0M1017.7,196.0a4.3,4.3 0 1,0 8.6,0a4.3,4.3 0 1,0 -8.6,0M1030.7,204.0a4.3,4.3 0 1,0 8.6,0a4.3,4.3 0 1,0 -8.6,0M1041.7,195.0a4.3,4.3 0 1,0 8.6,0a4.3,4.3 0 1,0 -8.6,0M1034.7,190.0a4.3,4.3 0 1,0 8.6,0a4.3,4.3 0 1,0 -8.6,0M1070.7,186.0a4.3,4.3 0 1,0 8.6,0a4.3,4.3 0 1,0 -8.6,0M1084.7,189.0a4.3,4.3 0 1,0 8.6,0a4.3,4.3 0 1,0 -8.6,0M1099.7,196.0a4.3,4.3 0 1,0 8.6,0a4.3,4.3 0 1,0 -8.6,0M1110.7,188.0a4.3,4.3 0 1,0 8.6,0a4.3,4.3 0 1,0 -8.6,0M1123.7,196.0a4.3,4.3 0 1,0 8.6,0a4.3,4.3 0 1,0 -8.6,0M1131.7,188.0a4.3,4.3 0 1,0 8.6,0a4.3,4.3 0 1,0 -8.6,0M1123.7,196.0a4.3,4.3 0 1,0 8.6,0a4.3,4.3 0 1,0 -8.6,0M1122.7,211.0a4.3,4.3 0 1,0 8.6,0a4.3,4.3 0 1,0 -8.6,0M1127.7,210.0a4.3,4.3 0 1,0 8.6,0a4.3,4.3 0 1,0 -8.6,0M991.7,229.0a4.3,4.3 0 1,0 8.6,0a4.3,4.3 0 1,0 -8.6,0M1006.7,230.0a4.3,4.3 0 1,0 8.6,0a4.3,4.3 0 1,0 -8.6,0M1018.7,234.0a4.3,4.3 0 1,0 8.6,0a4.3,4.3 0 1,0 -8.6,0M1034.7,229.0a4.3,4.3 0 1,0 8.6,0a4.3,4.3 0 1,0 -8.6,0M1041.7,218.0a4.3,4.3 0 1,0 8.6,0a4.3,4.3 0 1,0 -8.6,0M1034.7,229.0a4.3,4.3 0 1,0 8.6,0a4.3,4.3 0 1,0 -8.6,0M1041.7,229.0a4.3,4.3 0 1,0 8.6,0a4.3,4.3 0 1,0 -8.6,0M1070.7,220.0a4.3,4.3 0 1,0 8.6,0a4.3,4.3 0 1,0 -8.6,0M1085.7,219.0a4.3,4.3 0 1,0 8.6,0a4.3,4.3 0 1,0 -8.6,0M1086.7,225.0a4.3,4.3 0 1,0 8.6,0a4.3,4.3 0 1,0 -8.6,0M1101.7,219.0a4.3,4.3 0 1,0 8.6,0a4.3,4.3 0 1,0 -8.6,0M1111.7,225.0a4.3,4.3 0 1,0 8.6,0a4.3,4.3 0 1,0 -8.6,0M1125.7,220.0a4.3,4.3 0 1,0 8.6,0a4.3,4.3 0 1,0 -8.6,0M1131.7,219.0a4.3,4.3 0 1,0 8.6,0a4.3,4.3 0 1,0 -8.6,0" fill="#cf5f5c"/>
<path d="M1112.6,117.3a2,2 0 1,0 4,0a2,2 0 1,0 -4,0M1117.9,128.0a2,2 0 1,0 4,0a2,2 0 1,0 -4,0M1110.0,105.4a2,2 0 1,0 4,0a2,2 0 1,0 -4,0M1030.0,155.0a2,2 0 1,0 4,0a2,2 0 1,0 -4,0M1039.0,146.5a2,2 0 1,0 4,0a2,2 0 1,0 -4,0M1041.7,148.1a2,2 0 1,0 4,0a2,2 0 1,0 -4,0M1043.3,148.5a2,2 0 1,0 4,0a2,2 0 1,0 -4,0M1053.0,157.9a2,2 0 1,0 4,0a2,2 0 1,0 -4,0M1069.3,152.8a2,2 0 1,0 4,0a2,2 0 1,0 -4,0M1075.2,147.0a2,2 0 1,0 4,0a2,2 0 1,0 -4,0M1085.5,147.1a2,2 0 1,0 4,0a2,2 0 1,0 -4,0M1094.0,149.3a2,2 0 1,0 4,0a2,2 0 1,0 -4,0M1078.1,153.6a2,2 0 1,0 4,0a2,2 0 1,0 -4,0M1117.8,158.0a2,2 0 1,0 4,0a2,2 0 1,0 -4,0M1145.9,153.0a2,2 0 1,0 4,0a2,2 0 1,0 -4,0M1149.0,151.4a2,2 0 1,0 4,0a2,2 0 1,0 -4,0M1180.0,140.9a2,2 0 1,0 4,0a2,2 0 1,0 -4,0M1167.0,151.7a2,2 0 1,0 4,0a2,2 0 1,0 -4,0M1179.6,139.4a2,2 0 1,0 4,0a2,2 0 1,0 -4,0M1176.1,139.0a2,2 0 1,0 4,0a2,2 0 1,0 -4,0M1022.2,187.3a2,2 0 1,0 4,0a2,2 0 1,0 -4,0M1027.2,210.9a2,2 0 1,0 4,0a2,2 0 1,0 -4,0M1048.8,202.6a2,2 0 1,0 4,0a2,2 0 1,0 -4,0M1044.2,186.0a2,2 0 1,0 4,0a2,2 0 1,0 -4,0M1031.9,182.6a2,2 0 1,0 4,0a2,2 0 1,0 -4,0M1037.0,199.0a2,2 0 1,0 4,0a2,2 0 1,0 -4,0M1081.0,181.9a2,2 0 1,0 4,0a2,2 0 1,0 -4,0M1082.3,181.4a2,2 0 1,0 4,0a2,2 0 1,0 -4,0M1109.3,190.7a2,2 0 1,0 4,0a2,2 0 1,0 -4,0M1093.3,198.2a2,2 0 1,0 4,0a2,2 0 1,0 -4,0M1104.0,188.8a2,2 0 1,0 4,0a2,2 0 1,0 -4,0M1114.6,196.9a2,2 0 1,0 4,0a2,2 0 1,0 -4,0M1129.6,187.7a2,2 0 1,0 4,0a2,2 0 1,0 -4,0M1140.4,181.7a2,2 0 1,0 4,0a2,2 0 1,0 -4,0M1127.3,187.1a2,2 0 1,0 4,0a2,2 0 1,0 -4,0M1121.7,219.4a2,2 0 1,0 4,0a2,2 0 1,0 -4,0M1133.7,208.6a2,2 0 1,0 4,0a2,2 0 1,0 -4,0M1126.6,218.3a2,2 0 1,0 4,0a2,2 0 1,0 -4,0M1132.4,218.7a2,2 0 1,0 4,0a2,2 0 1,0 -4,0M1002.2,225.4a2,2 0 1,0 4,0a2,2 0 1,0 -4,0M1019.6,225.1a2,2 0 1,0 4,0a2,2 0 1,0 -4,0M1046.0,228.8a2,2 0 1,0 4,0a2,2 0 1,0 -4,0M1065.5,215.1a2,2 0 1,0 4,0a2,2 0 1,0 -4,0M1094.5,217.9a2,2 0 1,0 4,0a2,2 0 1,0 -4,0M1108.1,211.0a2,2 0 1,0 4,0a2,2 0 1,0 -4,0M1135.2,214.6a2,2 0 1,0 4,0a2,2 0 1,0 -4,0M1128.5,211.0a2,2 0 1,0 4,0a2,2 0 1,0 -4,0" fill="#f4f0f0"/>
<clipPath id="sa2"><path d="M820.7,184.0C821.1,173.6 823.8,160.9 828.0,150.0C832.2,139.1 838.0,127.5 846.2,118.8C854.5,110.1 866.9,102.1 877.5,98.0C888.1,93.9 898.7,94.1 910.0,94.1C921.3,94.1 934.6,93.9 945.2,98.0C955.8,102.1 965.6,110.1 973.8,118.8C982.0,127.5 989.7,138.3 994.6,150.0C999.5,161.7 1002.6,176.4 1003.0,189.0C1003.4,201.6 1001.6,214.3 997.2,225.6C992.8,236.9 985.1,248.8 976.4,256.8C967.7,264.8 956.3,270.5 945.2,273.8C934.1,277.1 922.1,277.5 910.0,276.4C897.9,275.3 883.8,273.1 872.3,267.2C860.8,261.3 848.8,250.3 841.0,241.2C833.2,232.1 828.8,222.1 825.4,212.6C822.0,203.1 820.3,194.4 820.7,184.0Z"/></clipPath>
<path d="M820.7,184.0C821.1,173.6 823.8,160.9 828.0,150.0C832.2,139.1 838.0,127.5 846.2,118.8C854.5,110.1 866.9,102.1 877.5,98.0C888.1,93.9 898.7,94.1 910.0,94.1C921.3,94.1 934.6,93.9 945.2,98.0C955.8,102.1 965.6,110.1 973.8,118.8C982.0,127.5 989.7,138.3 994.6,150.0C999.5,161.7 1002.6,176.4 1003.0,189.0C1003.4,201.6 1001.6,214.3 997.2,225.6C992.8,236.9 985.1,248.8 976.4,256.8C967.7,264.8 956.3,270.5 945.2,273.8C934.1,277.1 922.1,277.5 910.0,276.4C897.9,275.3 883.8,273.1 872.3,267.2C860.8,261.3 848.8,250.3 841.0,241.2C833.2,232.1 828.8,222.1 825.4,212.6C822.0,203.1 820.3,194.4 820.7,184.0Z" fill="url(#gPurp)" stroke="#7a5a90" stroke-opacity="0.35" stroke-width="1.6"/>
<g clip-path="url(#sa2)">
<path d="M910.0,93.0Q810.0,151.5 822.0,220.0Q917.0,273.0 1000.0,222.0Q1009.0,150.5 910.0,93.0Z" fill="#fff" opacity="0.07"/>
<path d="M910.0,103.0Q828.5,158.0 837.0,213.0Q916.0,260.0 987.0,215.0Q989.5,157.0 910.0,103.0Z" fill="#3f87ca"/>
<path d="M910.0,106.0Q834.5,158.0 841.0,210.0Q912.5,253.5 982.0,211.0Q984.0,157.5 910.0,106.0Z" fill="#4c95d4"/>
</g>
<clipPath id="cc2"><path d="M910.0,111.0Q840.5,159.0 845.0,207.0Q911.5,247.0 976.0,207.0Q979.0,159.0 910.0,111.0Z"/></clipPath>
<path d="M910.0,111.0Q840.5,159.0 845.0,207.0Q911.5,247.0 976.0,207.0Q979.0,159.0 910.0,111.0Z" fill="url(#gCore)"/>
<g clip-path="url(#cc2)" filter="url(#blur4)">
<ellipse cx="940" cy="205" rx="18" ry="9" fill="#676068" opacity="0.5"/>
<ellipse cx="880" cy="190" rx="16" ry="10" fill="#5a5a66" opacity="0.5"/>
</g>
<path d="M1709.0,166.6L1722.0,164.8M1709.0,166.6L1709.0,170.4M1709.0,170.4L1722.0,172.2M1709.0,177.9L1722.0,176.0M1722.0,161.0L1722.0,164.8M1722.0,164.8L1735.0,166.6M1722.0,172.2L1735.0,170.4M1722.0,172.2L1722.0,176.0M1722.0,176.0L1735.0,177.9M1735.0,166.6L1747.9,164.8M1735.0,166.6L1735.0,170.4M1735.0,170.4L1747.9,172.2M1735.0,177.9L1747.9,176.0M1747.9,161.0L1747.9,164.8M1747.9,164.8L1760.9,166.6M1747.9,172.2L1760.9,170.4M1747.9,172.2L1747.9,176.0M1747.9,176.0L1760.9,177.9M1760.9,166.6L1773.9,164.8M1760.9,166.6L1760.9,170.4M1760.9,170.4L1773.9,172.2M1760.9,177.9L1773.9,176.0M1773.9,161.0L1773.9,164.8M1773.9,164.8L1786.9,166.6M1773.9,172.2L1786.9,170.4M1773.9,172.2L1773.9,176.0M1773.9,176.0L1786.9,177.9M1786.9,166.6L1799.9,164.8M1786.9,166.6L1786.9,170.4M1786.9,170.4L1799.9,172.2M1786.9,177.9L1799.9,176.0M1799.9,161.0L1799.9,164.8M1799.9,164.8L1812.9,166.6M1799.9,172.2L1812.9,170.4M1799.9,172.2L1799.9,176.0M1799.9,176.0L1812.9,177.9M1812.9,166.6L1825.9,164.8M1812.9,166.6L1812.9,170.4M1812.9,170.4L1825.9,172.2M1812.9,177.9L1825.9,176.0M1825.9,164.8L1838.9,166.6M1825.9,172.2L1838.9,170.4M1825.9,172.2L1825.9,176.0M1825.9,176.0L1838.9,177.9M1838.9,166.6L1838.9,170.4M1838.9,170.4L1851.9,172.2M1838.9,177.9L1851.9,176.0M1851.9,172.2L1864.9,170.4M1851.9,172.2L1851.9,176.0M1864.9,170.4L1877.8,172.2M1877.8,172.2L1877.8,176.0" stroke="#666" stroke-width="2.4" fill="none" stroke-linecap="round"/>
<path d="M1706.1,166.6a2.9,2.9 0 1,0 5.8,0a2.9,2.9 0 1,0 -5.8,0M1706.1,170.4a2.9,2.9 0 1,0 5.8,0a2.9,2.9 0 1,0 -5.8,0M1706.1,177.9a2.9,2.9 0 1,0 5.8,0a2.9,2.9 0 1,0 -5.8,0M1719.1,161.0a2.9,2.9 0 1,0 5.8,0a2.9,2.9 0 1,0 -5.8,0M1719.1,164.8a2.9,2.9 0 1,0 5.8,0a2.9,2.9 0 1,0 -5.8,0M1719.1,172.2a2.9,2.9 0 1,0 5.8,0a2.9,2.9 0 1,0 -5.8,0M1719.1,176.0a2.9,2.9 0 1,0 5.8,0a2.9,2.9 0 1,0 -5.8,0M1732.1,166.6a2.9,2.9 0 1,0 5.8,0a2.9,2.9 0 1,0 -5.8,0M1732.1,170.4a2.9,2.9 0 1,0 5.8,0a2.9,2.9 0 1,0 -5.8,0M1732.1,177.9a2.9,2.9 0 1,0 5.8,0a2.9,2.9 0 1,0 -5.8,0M1745.0,161.0a2.9,2.9 0 1,0 5.8,0a2.9,2.9 0 1,0 -5.8,0M1745.0,164.8a2.9,2.9 0 1,0 5.8,0a2.9,2.9 0 1,0 -5.8,0M1745.0,172.2a2.9,2.9 0 1,0 5.8,0a2.9,2.9 0 1,0 -5.8,0M1745.0,176.0a2.9,2.9 0 1,0 5.8,0a2.9,2.9 0 1,0 -5.8,0M1758.0,166.6a2.9,2.9 0 1,0 5.8,0a2.9,2.9 0 1,0 -5.8,0M1758.0,170.4a2.9,2.9 0 1,0 5.8,0a2.9,2.9 0 1,0 -5.8,0M1758.0,177.9a2.9,2.9 0 1,0 5.8,0a2.9,2.9 0 1,0 -5.8,0M1771.0,161.0a2.9,2.9 0 1,0 5.8,0a2.9,2.9 0 1,0 -5.8,0M1771.0,164.8a2.9,2.9 0 1,0 5.8,0a2.9,2.9 0 1,0 -5.8,0M1771.0,172.2a2.9,2.9 0 1,0 5.8,0a2.9,2.9 0 1,0 -5.8,0M1771.0,176.0a2.9,2.9 0 1,0 5.8,0a2.9,2.9 0 1,0 -5.8,0M1784.0,166.6a2.9,2.9 0 1,0 5.8,0a2.9,2.9 0 1,0 -5.8,0M1784.0,170.4a2.9,2.9 0 1,0 5.8,0a2.9,2.9 0 1,0 -5.8,0M1784.0,177.9a2.9,2.9 0 1,0 5.8,0a2.9,2.9 0 1,0 -5.8,0M1797.0,161.0a2.9,2.9 0 1,0 5.8,0a2.9,2.9 0 1,0 -5.8,0M1797.0,164.8a2.9,2.9 0 1,0 5.8,0a2.9,2.9 0 1,0 -5.8,0M1797.0,172.2a2.9,2.9 0 1,0 5.8,0a2.9,2.9 0 1,0 -5.8,0M1797.0,176.0a2.9,2.9 0 1,0 5.8,0a2.9,2.9 0 1,0 -5.8,0M1810.0,166.6a2.9,2.9 0 1,0 5.8,0a2.9,2.9 0 1,0 -5.8,0M1810.0,170.4a2.9,2.9 0 1,0 5.8,0a2.9,2.9 0 1,0 -5.8,0M1810.0,177.9a2.9,2.9 0 1,0 5.8,0a2.9,2.9 0 1,0 -5.8,0M1823.0,164.8a2.9,2.9 0 1,0 5.8,0a2.9,2.9 0 1,0 -5.8,0M1823.0,172.2a2.9,2.9 0 1,0 5.8,0a2.9,2.9 0 1,0 -5.8,0M1823.0,176.0a2.9,2.9 0 1,0 5.8,0a2.9,2.9 0 1,0 -5.8,0M1836.0,166.6a2.9,2.9 0 1,0 5.8,0a2.9,2.9 0 1,0 -5.8,0M1836.0,170.4a2.9,2.9 0 1,0 5.8,0a2.9,2.9 0 1,0 -5.8,0M1836.0,177.9a2.9,2.9 0 1,0 5.8,0a2.9,2.9 0 1,0 -5.8,0M1849.0,172.2a2.9,2.9 0 1,0 5.8,0a2.9,2.9 0 1,0 -5.8,0M1849.0,176.0a2.9,2.9 0 1,0 5.8,0a2.9,2.9 0 1,0 -5.8,0M1862.0,170.4a2.9,2.9 0 1,0 5.8,0a2.9,2.9 0 1,0 -5.8,0M1874.9,172.2a2.9,2.9 0 1,0 5.8,0a2.9,2.9 0 1,0 -5.8,0M1874.9,176.0a2.9,2.9 0 1,0 5.8,0a2.9,2.9 0 1,0 -5.8,0" fill="#5f5f5f"/>
<path d="M1709.0,187.4L1722.0,189.4M1709.0,195.5L1722.0,193.4M1709.0,195.5L1709.0,199.5M1709.0,199.5L1722.0,201.6M1709.0,207.6L1722.0,205.6M1722.0,189.4L1735.0,187.4M1722.0,189.4L1722.0,193.4M1722.0,193.4L1735.0,195.5M1722.0,201.6L1735.0,199.5M1722.0,201.6L1722.0,205.6M1722.0,205.6L1735.0,207.6M1735.0,187.4L1747.9,189.4M1735.0,195.5L1747.9,193.4M1735.0,195.5L1735.0,199.5M1735.0,199.5L1747.9,201.6M1735.0,207.6L1747.9,205.6M1747.9,189.4L1760.9,187.4M1747.9,189.4L1747.9,193.4M1747.9,193.4L1760.9,195.5M1747.9,201.6L1760.9,199.5M1747.9,201.6L1747.9,205.6M1747.9,205.6L1760.9,207.6M1760.9,187.4L1773.9,189.4M1760.9,195.5L1773.9,193.4M1760.9,195.5L1760.9,199.5M1760.9,199.5L1773.9,201.6M1760.9,207.6L1773.9,205.6M1773.9,189.4L1786.9,187.4M1773.9,189.4L1773.9,193.4M1773.9,193.4L1786.9,195.5M1773.9,201.6L1786.9,199.5M1773.9,201.6L1773.9,205.6M1773.9,205.6L1786.9,207.6M1786.9,187.4L1799.9,189.4M1786.9,195.5L1799.9,193.4M1786.9,195.5L1786.9,199.5M1786.9,199.5L1799.9,201.6M1786.9,207.6L1799.9,205.6M1799.9,189.4L1812.9,187.4M1799.9,189.4L1799.9,193.4M1799.9,193.4L1812.9,195.5M1799.9,201.6L1812.9,199.5M1799.9,201.6L1799.9,205.6M1799.9,205.6L1812.9,207.6M1812.9,187.4L1825.9,189.4M1812.9,195.5L1825.9,193.4M1812.9,195.5L1812.9,199.5M1812.9,199.5L1825.9,201.6M1812.9,207.6L1825.9,205.6M1825.9,189.4L1825.9,193.4M1825.9,193.4L1838.9,195.5M1825.9,201.6L1838.9,199.5M1825.9,201.6L1825.9,205.6M1838.9,195.5L1851.9,193.4M1838.9,195.5L1838.9,199.5M1838.9,199.5L1851.9,201.6M1851.9,193.4L1864.9,195.5M1851.9,201.6L1864.9,199.5M1864.9,195.5L1864.9,199.5M1864.9,199.5L1877.8,201.6" stroke="#666" stroke-width="2.4" fill="none" stroke-linecap="round"/>
<path d="M1706.1,187.4a2.9,2.9 0 1,0 5.8,0a2.9,2.9 0 1,0 -5.8,0M1706.1,195.5a2.9,2.9 0 1,0 5.8,0a2.9,2.9 0 1,0 -5.8,0M1706.1,199.5a2.9,2.9 0 1,0 5.8,0a2.9,2.9 0 1,0 -5.8,0M1706.1,207.6a2.9,2.9 0 1,0 5.8,0a2.9,2.9 0 1,0 -5.8,0M1719.1,189.4a2.9,2.9 0 1,0 5.8,0a2.9,2.9 0 1,0 -5.8,0M1719.1,193.4a2.9,2.9 0 1,0 5.8,0a2.9,2.9 0 1,0 -5.8,0M1719.1,201.6a2.9,2.9 0 1,0 5.8,0a2.9,2.9 0 1,0 -5.8,0M1719.1,205.6a2.9,2.9 0 1,0 5.8,0a2.9,2.9 0 1,0 -5.8,0M1732.1,187.4a2.9,2.9 0 1,0 5.8,0a2.9,2.9 0 1,0 -5.8,0M1732.1,195.5a2.9,2.9 0 1,0 5.8,0a2.9,2.9 0 1,0 -5.8,0M1732.1,199.5a2.9,2.9 0 1,0 5.8,0a2.9,2.9 0 1,0 -5.8,0M1732.1,207.6a2.9,2.9 0 1,0 5.8,0a2.9,2.9 0 1,0 -5.8,0M1745.0,189.4a2.9,2.9 0 1,0 5.8,0a2.9,2.9 0 1,0 -5.8,0M1745.0,193.4a2.9,2.9 0 1,0 5.8,0a2.9,2.9 0 1,0 -5.8,0M1745.0,201.6a2.9,2.9 0 1,0 5.8,0a2.9,2.9 0 1,0 -5.8,0M1745.0,205.6a2.9,2.9 0 1,0 5.8,0a2.9,2.9 0 1,0 -5.8,0M1758.0,187.4a2.9,2.9 0 1,0 5.8,0a2.9,2.9 0 1,0 -5.8,0M1758.0,195.5a2.9,2.9 0 1,0 5.8,0a2.9,2.9 0 1,0 -5.8,0M1758.0,199.5a2.9,2.9 0 1,0 5.8,0a2.9,2.9 0 1,0 -5.8,0M1758.0,207.6a2.9,2.9 0 1,0 5.8,0a2.9,2.9 0 1,0 -5.8,0M1771.0,189.4a2.9,2.9 0 1,0 5.8,0a2.9,2.9 0 1,0 -5.8,0M1771.0,193.4a2.9,2.9 0 1,0 5.8,0a2.9,2.9 0 1,0 -5.8,0M1771.0,201.6a2.9,2.9 0 1,0 5.8,0a2.9,2.9 0 1,0 -5.8,0M1771.0,205.6a2.9,2.9 0 1,0 5.8,0a2.9,2.9 0 1,0 -5.8,0M1784.0,187.4a2.9,2.9 0 1,0 5.8,0a2.9,2.9 0 1,0 -5.8,0M1784.0,195.5a2.9,2.9 0 1,0 5.8,0a2.9,2.9 0 1,0 -5.8,0M1784.0,199.5a2.9,2.9 0 1,0 5.8,0a2.9,2.9 0 1,0 -5.8,0M1784.0,207.6a2.9,2.9 0 1,0 5.8,0a2.9,2.9 0 1,0 -5.8,0M1797.0,189.4a2.9,2.9 0 1,0 5.8,0a2.9,2.9 0 1,0 -5.8,0M1797.0,193.4a2.9,2.9 0 1,0 5.8,0a2.9,2.9 0 1,0 -5.8,0M1797.0,201.6a2.9,2.9 0 1,0 5.8,0a2.9,2.9 0 1,0 -5.8,0M1797.0,205.6a2.9,2.9 0 1,0 5.8,0a2.9,2.9 0 1,0 -5.8,0M1810.0,187.4a2.9,2.9 0 1,0 5.8,0a2.9,2.9 0 1,0 -5.8,0M1810.0,195.5a2.9,2.9 0 1,0 5.8,0a2.9,2.9 0 1,0 -5.8,0M1810.0,199.5a2.9,2.9 0 1,0 5.8,0a2.9,2.9 0 1,0 -5.8,0M1810.0,207.6a2.9,2.9 0 1,0 5.8,0a2.9,2.9 0 1,0 -5.8,0M1823.0,189.4a2.9,2.9 0 1,0 5.8,0a2.9,2.9 0 1,0 -5.8,0M1823.0,193.4a2.9,2.9 0 1,0 5.8,0a2.9,2.9 0 1,0 -5.8,0M1823.0,201.6a2.9,2.9 0 1,0 5.8,0a2.9,2.9 0 1,0 -5.8,0M1823.0,205.6a2.9,2.9 0 1,0 5.8,0a2.9,2.9 0 1,0 -5.8,0M1836.0,195.5a2.9,2.9 0 1,0 5.8,0a2.9,2.9 0 1,0 -5.8,0M1836.0,199.5a2.9,2.9 0 1,0 5.8,0a2.9,2.9 0 1,0 -5.8,0M1849.0,193.4a2.9,2.9 0 1,0 5.8,0a2.9,2.9 0 1,0 -5.8,0M1849.0,201.6a2.9,2.9 0 1,0 5.8,0a2.9,2.9 0 1,0 -5.8,0M1862.0,195.5a2.9,2.9 0 1,0 5.8,0a2.9,2.9 0 1,0 -5.8,0M1862.0,199.5a2.9,2.9 0 1,0 5.8,0a2.9,2.9 0 1,0 -5.8,0M1874.9,201.6a2.9,2.9 0 1,0 5.8,0a2.9,2.9 0 1,0 -5.8,0" fill="#5f5f5f"/>
<path d="M1646.0,230.2L1659.0,232.5M1659.0,232.5L1672.0,230.2M1659.0,232.5L1659.0,237.0M1659.0,237.0L1672.0,239.2M1659.0,246.0L1672.0,243.8M1672.0,225.8L1684.9,223.5M1672.0,225.8L1672.0,230.2M1672.0,230.2L1684.9,232.5M1672.0,239.2L1684.9,237.0M1672.0,239.2L1672.0,243.8M1672.0,243.8L1684.9,246.0M1684.9,219.0L1697.9,216.8M1684.9,219.0L1684.9,223.5M1684.9,223.5L1697.9,225.8M1684.9,232.5L1697.9,230.2M1684.9,232.5L1684.9,237.0M1684.9,237.0L1697.9,239.2M1684.9,246.0L1697.9,243.8M1697.9,216.8L1710.9,219.0M1697.9,225.8L1710.9,223.5M1697.9,225.8L1697.9,230.2M1697.9,230.2L1710.9,232.5M1697.9,239.2L1710.9,237.0M1697.9,239.2L1697.9,243.8M1697.9,243.8L1710.9,246.0M1710.9,219.0L1723.9,216.8M1710.9,219.0L1710.9,223.5M1710.9,223.5L1723.9,225.8M1710.9,232.5L1723.9,230.2M1710.9,232.5L1710.9,237.0M1710.9,237.0L1723.9,239.2M1710.9,246.0L1723.9,243.8M1723.9,216.8L1736.9,219.0M1723.9,225.8L1736.9,223.5M1723.9,225.8L1723.9,230.2M1723.9,230.2L1736.9,232.5M1723.9,239.2L1736.9,237.0M1723.9,239.2L1723.9,243.8M1723.9,243.8L1736.9,246.0M1736.9,219.0L1749.9,216.8M1736.9,219.0L1736.9,223.5M1736.9,223.5L1749.9,225.8M1736.9,232.5L1749.9,230.2M1736.9,232.5L1736.9,237.0M1736.9,237.0L1749.9,239.2M1736.9,246.0L1749.9,243.8M1749.9,216.8L1762.9,219.0M1749.9,225.8L1762.9,223.5M1749.9,225.8L1749.9,230.2M1749.9,230.2L1762.9,232.5M1749.9,239.2L1762.9,237.0M1749.9,239.2L1749.9,243.8M1749.9,243.8L1762.9,246.0M1762.9,219.0L1775.9,216.8M1762.9,219.0L1762.9,223.5M1762.9,223.5L1775.9,225.8M1762.9,232.5L1775.9,230.2M1762.9,232.5L1762.9,237.0M1762.9,237.0L1775.9,239.2M1762.9,246.0L1775.9,243.8M1775.9,216.8L1788.9,219.0M1775.9,225.8L1788.9,223.5M1775.9,225.8L1775.9,230.2M1775.9,230.2L1788.9,232.5M1775.9,239.2L1788.9,237.0M1775.9,239.2L1775.9,243.8M1788.9,219.0L1801.9,216.8M1788.9,219.0L1788.9,223.5M1788.9,223.5L1801.9,225.8M1788.9,232.5L1801.9,230.2M1788.9,232.5L1788.9,237.0M1788.9,237.0L1801.9,239.2M1801.9,216.8L1814.8,219.0M1801.9,225.8L1814.8,223.5M1801.9,225.8L1801.9,230.2M1801.9,230.2L1814.8,232.5M1801.9,239.2L1814.8,237.0M1801.9,239.2L1801.9,243.8M1814.8,219.0L1827.8,216.8M1814.8,219.0L1814.8,223.5M1814.8,223.5L1827.8,225.8M1814.8,232.5L1827.8,230.2M1814.8,232.5L1814.8,237.0M1814.8,237.0L1827.8,239.2M1827.8,216.8L1840.8,219.0M1827.8,225.8L1840.8,223.5M1827.8,225.8L1827.8,230.2M1827.8,230.2L1840.8,232.5M1827.8,239.2L1840.8,237.0M1840.8,219.0L1840.8,223.5M1840.8,223.5L1853.8,225.8M1840.8,232.5L1853.8,230.2M1840.8,232.5L1840.8,237.0M1853.8,225.8L1866.8,223.5M1853.8,225.8L1853.8,230.2M1853.8,230.2L1866.8,232.5" stroke="#666" stroke-width="2.4" fill="none" stroke-linecap="round"/>
<path d="M1643.1,230.2a2.9,2.9 0 1,0 5.8,0a2.9,2.9 0 1,0 -5.8,0M1656.1,232.5a2.9,2.9 0 1,0 5.8,0a2.9,2.9 0 1,0 -5.8,0M1656.1,237.0a2.9,2.9 0 1,0 5.8,0a2.9,2.9 0 1,0 -5.8,0M1656.1,246.0a2.9,2.9 0 1,0 5.8,0a2.9,2.9 0 1,0 -5.8,0M1669.1,225.8a2.9,2.9 0 1,0 5.8,0a2.9,2.9 0 1,0 -5.8,0M1669.1,230.2a2.9,2.9 0 1,0 5.8,0a2.9,2.9 0 1,0 -5.8,0M1669.1,239.2a2.9,2.9 0 1,0 5.8,0a2.9,2.9 0 1,0 -5.8,0M1669.1,243.8a2.9,2.9 0 1,0 5.8,0a2.9,2.9 0 1,0 -5.8,0M1682.0,219.0a2.9,2.9 0 1,0 5.8,0a2.9,2.9 0 1,0 -5.8,0M1682.0,223.5a2.9,2.9 0 1,0 5.8,0a2.9,2.9 0 1,0 -5.8,0M1682.0,232.5a2.9,2.9 0 1,0 5.8,0a2.9,2.9 0 1,0 -5.8,0M1682.0,237.0a2.9,2.9 0 1,0 5.8,0a2.9,2.9 0 1,0 -5.8,0M1682.0,246.0a2.9,2.9 0 1,0 5.8,0a2.9,2.9 0 1,0 -5.8,0M1695.0,216.8a2.9,2.9 0 1,0 5.8,0a2.9,2.9 0 1,0 -5.8,0M1695.0,225.8a2.9,2.9 0 1,0 5.8,0a2.9,2.9 0 1,0 -5.8,0M1695.0,230.2a2.9,2.9 0 1,0 5.8,0a2.9,2.9 0 1,0 -5.8,0M1695.0,239.2a2.9,2.9 0 1,0 5.8,0a2.9,2.9 0 1,0 -5.8,0M1695.0,243.8a2.9,2.9 0 1,0 5.8,0a2.9,2.9 0 1,0 -5.8,0M1708.0,219.0a2.9,2.9 0 1,0 5.8,0a2.9,2.9 0 1,0 -5.8,0M1708.0,223.5a2.9,2.9 0 1,0 5.8,0a2.9,2.9 0 1,0 -5.8,0M1708.0,232.5a2.9,2.9 0 1,0 5.8,0a2.9,2.9 0 1,0 -5.8,0M1708.0,237.0a2.9,2.9 0 1,0 5.8,0a2.9,2.9 0 1,0 -5.8,0M1708.0,246.0a2.9,2.9 0 1,0 5.8,0a2.9,2.9 0 1,0 -5.8,0M1721.0,216.8a2.9,2.9 0 1,0 5.8,0a2.9,2.9 0 1,0 -5.8,0M1721.0,225.8a2.9,2.9 0 1,0 5.8,0a2.9,2.9 0 1,0 -5.8,0M1721.0,230.2a2.9,2.9 0 1,0 5.8,0a2.9,2.9 0 1,0 -5.8,0M1721.0,239.2a2.9,2.9 0 1,0 5.8,0a2.9,2.9 0 1,0 -5.8,0M1721.0,243.8a2.9,2.9 0 1,0 5.8,0a2.9,2.9 0 1,0 -5.8,0M1734.0,219.0a2.9,2.9 0 1,0 5.8,0a2.9,2.9 0 1,0 -5.8,0M1734.0,223.5a2.9,2.9 0 1,0 5.8,0a2.9,2.9 0 1,0 -5.8,0M1734.0,232.5a2.9,2.9 0 1,0 5.8,0a2.9,2.9 0 1,0 -5.8,0M1734.0,237.0a2.9,2.9 0 1,0 5.8,0a2.9,2.9 0 1,0 -5.8,0M1734.0,246.0a2.9,2.9 0 1,0 5.8,0a2.9,2.9 0 1,0 -5.8,0M1747.0,216.8a2.9,2.9 0 1,0 5.8,0a2.9,2.9 0 1,0 -5.8,0M1747.0,225.8a2.9,2.9 0 1,0 5.8,0a2.9,2.9 0 1,0 -5.8,0M1747.0,230.2a2.9,2.9 0 1,0 5.8,0a2.9,2.9 0 1,0 -5.8,0M1747.0,239.2a2.9,2.9 0 1,0 5.8,0a2.9,2.9 0 1,0 -5.8,0M1747.0,243.8a2.9,2.9 0 1,0 5.8,0a2.9,2.9 0 1,0 -5.8,0M1760.0,219.0a2.9,2.9 0 1,0 5.8,0a2.9,2.9 0 1,0 -5.8,0M1760.0,223.5a2.9,2.9 0 1,0 5.8,0a2.9,2.9 0 1,0 -5.8,0M1760.0,232.5a2.9,2.9 0 1,0 5.8,0a2.9,2.9 0 1,0 -5.8,0M1760.0,237.0a2.9,2.9 0 1,0 5.8,0a2.9,2.9 0 1,0 -5.8,0M1760.0,246.0a2.9,2.9 0 1,0 5.8,0a2.9,2.9 0 1,0 -5.8,0M1773.0,216.8a2.9,2.9 0 1,0 5.8,0a2.9,2.9 0 1,0 -5.8,0M1773.0,225.8a2.9,2.9 0 1,0 5.8,0a2.9,2.9 0 1,0 -5.8,0M1773.0,230.2a2.9,2.9 0 1,0 5.8,0a2.9,2.9 0 1,0 -5.8,0M1773.0,239.2a2.9,2.9 0 1,0 5.8,0a2.9,2.9 0 1,0 -5.8,0M1773.0,243.8a2.9,2.9 0 1,0 5.8,0a2.9,2.9 0 1,0 -5.8,0M1786.0,219.0a2.9,2.9 0 1,0 5.8,0a2.9,2.9 0 1,0 -5.8,0M1786.0,223.5a2.9,2.9 0 1,0 5.8,0a2.9,2.9 0 1,0 -5.8,0M1786.0,232.5a2.9,2.9 0 1,0 5.8,0a2.9,2.9 0 1,0 -5.8,0M1786.0,237.0a2.9,2.9 0 1,0 5.8,0a2.9,2.9 0 1,0 -5.8,0M1799.0,216.8a2.9,2.9 0 1,0 5.8,0a2.9,2.9 0 1,0 -5.8,0M1799.0,225.8a2.9,2.9 0 1,0 5.8,0a2.9,2.9 0 1,0 -5.8,0M1799.0,230.2a2.9,2.9 0 1,0 5.8,0a2.9,2.9 0 1,0 -5.8,0M1799.0,239.2a2.9,2.9 0 1,0 5.8,0a2.9,2.9 0 1,0 -5.8,0M1799.0,243.8a2.9,2.9 0 1,0 5.8,0a2.9,2.9 0 1,0 -5.8,0M1811.9,219.0a2.9,2.9 0 1,0 5.8,0a2.9,2.9 0 1,0 -5.8,0M1811.9,223.5a2.9,2.9 0 1,0 5.8,0a2.9,2.9 0 1,0 -5.8,0M1811.9,232.5a2.9,2.9 0 1,0 5.8,0a2.9,2.9 0 1,0 -5.8,0M1811.9,237.0a2.9,2.9 0 1,0 5.8,0a2.9,2.9 0 1,0 -5.8,0M1824.9,216.8a2.9,2.9 0 1,0 5.8,0a2.9,2.9 0 1,0 -5.8,0M1824.9,225.8a2.9,2.9 0 1,0 5.8,0a2.9,2.9 0 1,0 -5.8,0M1824.9,230.2a2.9,2.9 0 1,0 5.8,0a2.9,2.9 0 1,0 -5.8,0M1824.9,239.2a2.9,2.9 0 1,0 5.8,0a2.9,2.9 0 1,0 -5.8,0M1837.9,219.0a2.9,2.9 0 1,0 5.8,0a2.9,2.9 0 1,0 -5.8,0M1837.9,223.5a2.9,2.9 0 1,0 5.8,0a2.9,2.9 0 1,0 -5.8,0M1837.9,232.5a2.9,2.9 0 1,0 5.8,0a2.9,2.9 0 1,0 -5.8,0M1837.9,237.0a2.9,2.9 0 1,0 5.8,0a2.9,2.9 0 1,0 -5.8,0M1850.9,225.8a2.9,2.9 0 1,0 5.8,0a2.9,2.9 0 1,0 -5.8,0M1850.9,230.2a2.9,2.9 0 1,0 5.8,0a2.9,2.9 0 1,0 -5.8,0M1863.9,223.5a2.9,2.9 0 1,0 5.8,0a2.9,2.9 0 1,0 -5.8,0M1863.9,232.5a2.9,2.9 0 1,0 5.8,0a2.9,2.9 0 1,0 -5.8,0" fill="#5f5f5f"/>
<clipPath id="sa3"><ellipse cx="1702" cy="186" rx="68" ry="67"/></clipPath>
<ellipse cx="1702" cy="186" rx="68" ry="67" fill="url(#gPurp)"/>
<g clip-path="url(#sa3)">
<path d="M1700.0,124.0Q1633.0,171.0 1638.0,230.0Q1702.0,250.0 1762.0,230.0Q1775.0,171.0 1700.0,124.0Z" fill="#fff" opacity="0.07"/>
<path d="M1700.0,135.0Q1645.5,177.2 1649.0,222.5Q1702.5,237.0 1750.0,223.5Q1757.0,176.8 1700.0,135.0Z" fill="#3f87ca"/>
<path d="M1700.0,139.0Q1649.5,177.5 1653.0,218.0Q1702.5,234.0 1746.0,218.0Q1751.0,177.5 1700.0,139.0Z" fill="#4c95d4"/>
</g>
<clipPath id="cc3"><path d="M1701.0,144.0Q1654.8,178.0 1657.5,212.0Q1700.2,229.0 1742.0,210.0Q1744.5,179.0 1701.0,144.0Z"/></clipPath>
<path d="M1701.0,144.0Q1654.8,178.0 1657.5,212.0Q1700.2,229.0 1742.0,210.0Q1744.5,179.0 1701.0,144.0Z" fill="url(#gCore)"/>
<g clip-path="url(#cc3)" filter="url(#blur4)">
<ellipse cx="1725" cy="205" rx="12" ry="7" fill="#6d6266" opacity="0.55"/>
</g>
<path d="M164.6,536.8L178.4,535.0M164.6,536.8L164.6,541.0M164.6,541.0L178.4,543.3M178.4,530.9L192.3,529.1M178.4,530.9L178.4,535.0M178.4,535.0L192.3,537.4M178.4,543.3L192.3,541.5M178.4,543.3L178.4,547.5M178.4,547.5L192.3,549.9M192.3,524.9L206.1,523.1M192.3,524.9L192.3,529.1M192.3,529.1L206.1,531.4M192.3,537.4L206.1,535.6M192.3,537.4L192.3,541.5M192.3,541.5L206.1,543.9M192.3,549.9L206.1,548.1M206.1,523.1L220.0,525.5M206.1,531.4L220.0,529.6M206.1,531.4L206.1,535.6M206.1,535.6L220.0,537.9M206.1,543.9L220.0,542.1M206.1,543.9L206.1,548.1M206.1,548.1L220.0,550.4M220.0,525.5L233.9,523.7M220.0,525.5L220.0,529.6M220.0,529.6L233.9,532.0M220.0,537.9L233.9,536.1M220.0,537.9L220.0,542.1M220.0,542.1L233.9,544.5M220.0,550.4L233.9,548.6M233.9,519.5L233.9,523.7M233.9,523.7L247.7,526.0M233.9,532.0L247.7,530.2M233.9,532.0L233.9,536.1M233.9,536.1L247.7,538.5M233.9,544.5L247.7,542.7M233.9,544.5L233.9,548.6M233.9,548.6L247.7,551.0M247.7,526.0L261.6,524.2M247.7,526.0L247.7,530.2M247.7,530.2L261.6,532.5M247.7,538.5L261.6,536.7M247.7,538.5L247.7,542.7M247.7,542.7L261.6,545.0M247.7,551.0L261.6,549.2M261.6,524.2L275.4,526.6M261.6,532.5L275.4,530.7M261.6,532.5L261.6,536.7M261.6,536.7L275.4,539.0M261.6,545.0L275.4,543.2M261.6,545.0L261.6,549.2M275.4,526.6L289.3,524.8M275.4,526.6L275.4,530.7M275.4,530.7L289.3,533.1M275.4,539.0L289.3,537.2M275.4,539.0L275.4,543.2M275.4,543.2L289.3,545.6M289.3,524.8L303.1,527.1M289.3,533.1L303.1,531.3M289.3,533.1L289.3,537.2M289.3,537.2L303.1,539.6M289.3,545.6L303.1,543.8M289.3,545.6L289.3,549.7M303.1,527.1L303.1,531.3M303.1,531.3L317.0,533.6M303.1,539.6L317.0,537.8M303.1,539.6L303.1,543.8M303.1,543.8L317.0,546.1M317.0,533.6L317.0,537.8M317.0,537.8L330.8,540.2M317.0,546.1L330.8,544.3M317.0,546.1L317.0,550.3M330.8,540.2L344.7,538.4M330.8,540.2L330.8,544.3M330.8,544.3L344.7,546.7" stroke="#666" stroke-width="2.6" fill="none" stroke-linecap="round"/>
<path d="M161.4,536.8a3.2,3.2 0 1,0 6.4,0a3.2,3.2 0 1,0 -6.4,0M161.4,541.0a3.2,3.2 0 1,0 6.4,0a3.2,3.2 0 1,0 -6.4,0M175.2,530.9a3.2,3.2 0 1,0 6.4,0a3.2,3.2 0 1,0 -6.4,0M175.2,535.0a3.2,3.2 0 1,0 6.4,0a3.2,3.2 0 1,0 -6.4,0M175.2,543.3a3.2,3.2 0 1,0 6.4,0a3.2,3.2 0 1,0 -6.4,0M175.2,547.5a3.2,3.2 0 1,0 6.4,0a3.2,3.2 0 1,0 -6.4,0M189.1,524.9a3.2,3.2 0 1,0 6.4,0a3.2,3.2 0 1,0 -6.4,0M189.1,529.1a3.2,3.2 0 1,0 6.4,0a3.2,3.2 0 1,0 -6.4,0M189.1,537.4a3.2,3.2 0 1,0 6.4,0a3.2,3.2 0 1,0 -6.4,0M189.1,541.5a3.2,3.2 0 1,0 6.4,0a3.2,3.2 0 1,0 -6.4,0M189.1,549.9a3.2,3.2 0 1,0 6.4,0a3.2,3.2 0 1,0 -6.4,0M202.9,523.1a3.2,3.2 0 1,0 6.4,0a3.2,3.2 0 1,0 -6.4,0M202.9,531.4a3.2,3.2 0 1,0 6.4,0a3.2,3.2 0 1,0 -6.4,0M202.9,535.6a3.2,3.2 0 1,0 6.4,0a3.2,3.2 0 1,0 -6.4,0M202.9,543.9a3.2,3.2 0 1,0 6.4,0a3.2,3.2 0 1,0 -6.4,0M202.9,548.1a3.2,3.2 0 1,0 6.4,0a3.2,3.2 0 1,0 -6.4,0M216.8,525.5a3.2,3.2 0 1,0 6.4,0a3.2,3.2 0 1,0 -6.4,0M216.8,529.6a3.2,3.2 0 1,0 6.4,0a3.2,3.2 0 1,0 -6.4,0M216.8,537.9a3.2,3.2 0 1,0 6.4,0a3.2,3.2 0 1,0 -6.4,0M216.8,542.1a3.2,3.2 0 1,0 6.4,0a3.2,3.2 0 1,0 -6.4,0M216.8,550.4a3.2,3.2 0 1,0 6.4,0a3.2,3.2 0 1,0 -6.4,0M230.7,519.5a3.2,3.2 0 1,0 6.4,0a3.2,3.2 0 1,0 -6.4,0M230.7,523.7a3.2,3.2 0 1,0 6.4,0a3.2,3.2 0 1,0 -6.4,0M230.7,532.0a3.2,3.2 0 1,0 6.4,0a3.2,3.2 0 1,0 -6.4,0M230.7,536.1a3.2,3.2 0 1,0 6.4,0a3.2,3.2 0 1,0 -6.4,0M230.7,544.5a3.2,3.2 0 1,0 6.4,0a3.2,3.2 0 1,0 -6.4,0M230.7,548.6a3.2,3.2 0 1,0 6.4,0a3.2,3.2 0 1,0 -6.4,0M244.5,526.0a3.2,3.2 0 1,0 6.4,0a3.2,3.2 0 1,0 -6.4,0M244.5,530.2a3.2,3.2 0 1,0 6.4,0a3.2,3.2 0 1,0 -6.4,0M244.5,538.5a3.2,3.2 0 1,0 6.4,0a3.2,3.2 0 1,0 -6.4,0M244.5,542.7a3.2,3.2 0 1,0 6.4,0a3.2,3.2 0 1,0 -6.4,0M244.5,551.0a3.2,3.2 0 1,0 6.4,0a3.2,3.2 0 1,0 -6.4,0M258.4,524.2a3.2,3.2 0 1,0 6.4,0a3.2,3.2 0 1,0 -6.4,0M258.4,532.5a3.2,3.2 0 1,0 6.4,0a3.2,3.2 0 1,0 -6.4,0M258.4,536.7a3.2,3.2 0 1,0 6.4,0a3.2,3.2 0 1,0 -6.4,0M258.4,545.0a3.2,3.2 0 1,0 6.4,0a3.2,3.2 0 1,0 -6.4,0M258.4,549.2a3.2,3.2 0 1,0 6.4,0a3.2,3.2 0 1,0 -6.4,0M272.2,526.6a3.2,3.2 0 1,0 6.4,0a3.2,3.2 0 1,0 -6.4,0M272.2,530.7a3.2,3.2 0 1,0 6.4,0a3.2,3.2 0 1,0 -6.4,0M272.2,539.0a3.2,3.2 0 1,0 6.4,0a3.2,3.2 0 1,0 -6.4,0M272.2,543.2a3.2,3.2 0 1,0 6.4,0a3.2,3.2 0 1,0 -6.4,0M286.1,524.8a3.2,3.2 0 1,0 6.4,0a3.2,3.2 0 1,0 -6.4,0M286.1,533.1a3.2,3.2 0 1,0 6.4,0a3.2,3.2 0 1,0 -6.4,0M286.1,537.2a3.2,3.2 0 1,0 6.4,0a3.2,3.2 0 1,0 -6.4,0M286.1,545.6a3.2,3.2 0 1,0 6.4,0a3.2,3.2 0 1,0 -6.4,0M286.1,549.7a3.2,3.2 0 1,0 6.4,0a3.2,3.2 0 1,0 -6.4,0M299.9,527.1a3.2,3.2 0 1,0 6.4,0a3.2,3.2 0 1,0 -6.4,0M299.9,531.3a3.2,3.2 0 1,0 6.4,0a3.2,3.2 0 1,0 -6.4,0M299.9,539.6a3.2,3.2 0 1,0 6.4,0a3.2,3.2 0 1,0 -6.4,0M299.9,543.8a3.2,3.2 0 1,0 6.4,0a3.2,3.2 0 1,0 -6.4,0M313.8,533.6a3.2,3.2 0 1,0 6.4,0a3.2,3.2 0 1,0 -6.4,0M313.8,537.8a3.2,3.2 0 1,0 6.4,0a3.2,3.2 0 1,0 -6.4,0M313.8,546.1a3.2,3.2 0 1,0 6.4,0a3.2,3.2 0 1,0 -6.4,0M313.8,550.3a3.2,3.2 0 1,0 6.4,0a3.2,3.2 0 1,0 -6.4,0M327.6,540.2a3.2,3.2 0 1,0 6.4,0a3.2,3.2 0 1,0 -6.4,0M327.6,544.3a3.2,3.2 0 1,0 6.4,0a3.2,3.2 0 1,0 -6.4,0M341.5,538.4a3.2,3.2 0 1,0 6.4,0a3.2,3.2 0 1,0 -6.4,0M341.5,546.7a3.2,3.2 0 1,0 6.4,0a3.2,3.2 0 1,0 -6.4,0" fill="#5f5f5f"/>
<path d="M201.6,600.4L215.4,597.4M201.6,600.4L201.6,605.5M201.6,605.5L215.4,607.7M201.6,615.8L215.4,612.8M201.6,615.8L201.6,620.9M201.6,620.9L215.4,623.0M215.4,592.3L229.3,589.3M215.4,592.3L215.4,597.4M215.4,597.4L229.3,599.6M215.4,607.7L229.3,604.7M215.4,607.7L215.4,612.8M215.4,612.8L229.3,614.9M215.4,623.0L229.3,620.0M229.3,589.3L243.1,591.5M229.3,599.6L243.1,596.6M229.3,599.6L229.3,604.7M229.3,604.7L243.1,606.8M229.3,614.9L243.1,611.9M229.3,614.9L229.3,620.0M229.3,620.0L243.1,622.2M243.1,591.5L257.0,588.5M243.1,591.5L243.1,596.6M243.1,596.6L257.0,598.7M243.1,606.8L257.0,603.9M243.1,606.8L243.1,611.9M243.1,611.9L257.0,614.1M243.1,622.2L257.0,619.2M257.0,588.5L270.9,590.6M257.0,598.7L270.9,595.8M257.0,598.7L257.0,603.9M257.0,603.9L270.9,606.0M257.0,614.1L270.9,611.1M257.0,614.1L257.0,619.2M257.0,619.2L270.9,621.4M270.9,590.6L284.7,587.7M270.9,590.6L270.9,595.8M270.9,595.8L284.7,597.9M270.9,606.0L284.7,603.0M270.9,606.0L270.9,611.1M270.9,611.1L284.7,613.3M270.9,621.4L284.7,618.4M284.7,587.7L298.6,589.8M284.7,597.9L298.6,594.9M284.7,597.9L284.7,603.0M284.7,603.0L298.6,605.2M284.7,613.3L298.6,610.3M284.7,613.3L284.7,618.4M298.6,589.8L298.6,594.9M298.6,594.9L312.4,597.1M298.6,605.2L312.4,602.2M298.6,605.2L298.6,610.3M298.6,610.3L312.4,612.4M312.4,597.1L312.4,602.2M312.4,602.2L326.3,604.3M312.4,612.4L326.3,609.5M326.3,604.3L326.3,609.5" stroke="#666" stroke-width="2.8" fill="none" stroke-linecap="round"/>
<path d="M198.4,600.4a3.2,3.2 0 1,0 6.4,0a3.2,3.2 0 1,0 -6.4,0M198.4,605.5a3.2,3.2 0 1,0 6.4,0a3.2,3.2 0 1,0 -6.4,0M198.4,615.8a3.2,3.2 0 1,0 6.4,0a3.2,3.2 0 1,0 -6.4,0M198.4,620.9a3.2,3.2 0 1,0 6.4,0a3.2,3.2 0 1,0 -6.4,0M212.2,592.3a3.2,3.2 0 1,0 6.4,0a3.2,3.2 0 1,0 -6.4,0M212.2,597.4a3.2,3.2 0 1,0 6.4,0a3.2,3.2 0 1,0 -6.4,0M212.2,607.7a3.2,3.2 0 1,0 6.4,0a3.2,3.2 0 1,0 -6.4,0M212.2,612.8a3.2,3.2 0 1,0 6.4,0a3.2,3.2 0 1,0 -6.4,0M212.2,623.0a3.2,3.2 0 1,0 6.4,0a3.2,3.2 0 1,0 -6.4,0M226.1,589.3a3.2,3.2 0 1,0 6.4,0a3.2,3.2 0 1,0 -6.4,0M226.1,599.6a3.2,3.2 0 1,0 6.4,0a3.2,3.2 0 1,0 -6.4,0M226.1,604.7a3.2,3.2 0 1,0 6.4,0a3.2,3.2 0 1,0 -6.4,0M226.1,614.9a3.2,3.2 0 1,0 6.4,0a3.2,3.2 0 1,0 -6.4,0M226.1,620.0a3.2,3.2 0 1,0 6.4,0a3.2,3.2 0 1,0 -6.4,0M239.9,591.5a3.2,3.2 0 1,0 6.4,0a3.2,3.2 0 1,0 -6.4,0M239.9,596.6a3.2,3.2 0 1,0 6.4,0a3.2,3.2 0 1,0 -6.4,0M239.9,606.8a3.2,3.2 0 1,0 6.4,0a3.2,3.2 0 1,0 -6.4,0M239.9,611.9a3.2,3.2 0 1,0 6.4,0a3.2,3.2 0 1,0 -6.4,0M239.9,622.2a3.2,3.2 0 1,0 6.4,0a3.2,3.2 0 1,0 -6.4,0M253.8,588.5a3.2,3.2 0 1,0 6.4,0a3.2,3.2 0 1,0 -6.4,0M253.8,598.7a3.2,3.2 0 1,0 6.4,0a3.2,3.2 0 1,0 -6.4,0M253.8,603.9a3.2,3.2 0 1,0 6.4,0a3.2,3.2 0 1,0 -6.4,0M253.8,614.1a3.2,3.2 0 1,0 6.4,0a3.2,3.2 0 1,0 -6.4,0M253.8,619.2a3.2,3.2 0 1,0 6.4,0a3.2,3.2 0 1,0 -6.4,0M267.7,590.6a3.2,3.2 0 1,0 6.4,0a3.2,3.2 0 1,0 -6.4,0M267.7,595.8a3.2,3.2 0 1,0 6.4,0a3.2,3.2 0 1,0 -6.4,0M267.7,606.0a3.2,3.2 0 1,0 6.4,0a3.2,3.2 0 1,0 -6.4,0M267.7,611.1a3.2,3.2 0 1,0 6.4,0a3.2,3.2 0 1,0 -6.4,0M267.7,621.4a3.2,3.2 0 1,0 6.4,0a3.2,3.2 0 1,0 -6.4,0M281.5,587.7a3.2,3.2 0 1,0 6.4,0a3.2,3.2 0 1,0 -6.4,0M281.5,597.9a3.2,3.2 0 1,0 6.4,0a3.2,3.2 0 1,0 -6.4,0M281.5,603.0a3.2,3.2 0 1,0 6.4,0a3.2,3.2 0 1,0 -6.4,0M281.5,613.3a3.2,3.2 0 1,0 6.4,0a3.2,3.2 0 1,0 -6.4,0M281.5,618.4a3.2,3.2 0 1,0 6.4,0a3.2,3.2 0 1,0 -6.4,0M295.4,589.8a3.2,3.2 0 1,0 6.4,0a3.2,3.2 0 1,0 -6.4,0M295.4,594.9a3.2,3.2 0 1,0 6.4,0a3.2,3.2 0 1,0 -6.4,0M295.4,605.2a3.2,3.2 0 1,0 6.4,0a3.2,3.2 0 1,0 -6.4,0M295.4,610.3a3.2,3.2 0 1,0 6.4,0a3.2,3.2 0 1,0 -6.4,0M309.2,597.1a3.2,3.2 0 1,0 6.4,0a3.2,3.2 0 1,0 -6.4,0M309.2,602.2a3.2,3.2 0 1,0 6.4,0a3.2,3.2 0 1,0 -6.4,0M309.2,612.4a3.2,3.2 0 1,0 6.4,0a3.2,3.2 0 1,0 -6.4,0M323.1,604.3a3.2,3.2 0 1,0 6.4,0a3.2,3.2 0 1,0 -6.4,0M323.1,609.5a3.2,3.2 0 1,0 6.4,0a3.2,3.2 0 1,0 -6.4,0" fill="#5f5f5f"/>
<path d="M152.6,676.4L166.4,672.8M152.6,676.4L152.6,683.6M152.6,683.6L166.4,687.2M166.4,665.6L180.3,662.0M166.4,665.6L166.4,672.8M166.4,672.8L180.3,676.4M166.4,687.2L180.3,683.6M180.3,654.8L194.1,651.2M180.3,654.8L180.3,662.0M180.3,662.0L194.1,665.6M180.3,676.4L194.1,672.8M180.3,676.4L180.3,683.6M180.3,683.6L194.1,687.2M194.1,651.2L208.0,654.8M194.1,665.6L208.0,662.0M194.1,665.6L194.1,672.8M194.1,672.8L208.0,676.4M194.1,687.2L208.0,683.6M208.0,654.8L221.9,651.2M208.0,654.8L208.0,662.0M208.0,662.0L221.9,665.6M208.0,676.4L221.9,672.8M208.0,676.4L208.0,683.6M208.0,683.6L221.9,687.2M221.9,651.2L235.7,654.8M221.9,665.6L235.7,662.0M221.9,665.6L221.9,672.8M221.9,672.8L235.7,676.4M221.9,687.2L235.7,683.6M235.7,654.8L249.6,651.2M235.7,654.8L235.7,662.0M235.7,662.0L249.6,665.6M235.7,676.4L249.6,672.8M235.7,676.4L235.7,683.6M235.7,683.6L249.6,687.2M249.6,651.2L263.4,655.4M249.6,665.6L263.4,662.5M249.6,665.6L249.6,672.8M249.6,672.8L263.4,676.7M249.6,687.2L263.4,683.8M263.4,655.4L277.3,658.8M263.4,655.4L263.4,662.5M263.4,662.5L277.3,670.6M263.4,676.7L277.3,676.6M263.4,676.7L263.4,683.8M263.4,683.8L277.3,688.4M277.3,658.8L291.1,668.0M277.3,670.6L291.1,672.8M277.3,670.6L277.3,676.6M277.3,676.6L291.1,682.3M277.3,688.4L291.1,687.1M291.1,668.0L305.0,672.5M291.1,668.0L291.1,672.8M291.1,672.8L305.0,679.8M291.1,682.3L305.0,683.4M291.1,682.3L291.1,687.1M305.0,672.5L318.8,680.6M305.0,679.8L318.8,683.1M305.0,679.8L305.0,683.4M305.0,683.4L318.8,688.0M318.8,680.6L318.8,683.1M318.8,683.1L332.7,688.9M318.8,688.0L332.7,690.2M332.7,688.9L332.7,690.2" stroke="#666" stroke-width="2.8" fill="none" stroke-linecap="round"/>
<path d="M149.4,676.4a3.2,3.2 0 1,0 6.4,0a3.2,3.2 0 1,0 -6.4,0M149.4,683.6a3.2,3.2 0 1,0 6.4,0a3.2,3.2 0 1,0 -6.4,0M163.2,665.6a3.2,3.2 0 1,0 6.4,0a3.2,3.2 0 1,0 -6.4,0M163.2,672.8a3.2,3.2 0 1,0 6.4,0a3.2,3.2 0 1,0 -6.4,0M163.2,687.2a3.2,3.2 0 1,0 6.4,0a3.2,3.2 0 1,0 -6.4,0M177.1,654.8a3.2,3.2 0 1,0 6.4,0a3.2,3.2 0 1,0 -6.4,0M177.1,662.0a3.2,3.2 0 1,0 6.4,0a3.2,3.2 0 1,0 -6.4,0M177.1,676.4a3.2,3.2 0 1,0 6.4,0a3.2,3.2 0 1,0 -6.4,0M177.1,683.6a3.2,3.2 0 1,0 6.4,0a3.2,3.2 0 1,0 -6.4,0M190.9,651.2a3.2,3.2 0 1,0 6.4,0a3.2,3.2 0 1,0 -6.4,0M190.9,665.6a3.2,3.2 0 1,0 6.4,0a3.2,3.2 0 1,0 -6.4,0M190.9,672.8a3.2,3.2 0 1,0 6.4,0a3.2,3.2 0 1,0 -6.4,0M190.9,687.2a3.2,3.2 0 1,0 6.4,0a3.2,3.2 0 1,0 -6.4,0M204.8,654.8a3.2,3.2 0 1,0 6.4,0a3.2,3.2 0 1,0 -6.4,0M204.8,662.0a3.2,3.2 0 1,0 6.4,0a3.2,3.2 0 1,0 -6.4,0M204.8,676.4a3.2,3.2 0 1,0 6.4,0a3.2,3.2 0 1,0 -6.4,0M204.8,683.6a3.2,3.2 0 1,0 6.4,0a3.2,3.2 0 1,0 -6.4,0M218.7,651.2a3.2,3.2 0 1,0 6.4,0a3.2,3.2 0 1,0 -6.4,0M218.7,665.6a3.2,3.2 0 1,0 6.4,0a3.2,3.2 0 1,0 -6.4,0M218.7,672.8a3.2,3.2 0 1,0 6.4,0a3.2,3.2 0 1,0 -6.4,0M218.7,687.2a3.2,3.2 0 1,0 6.4,0a3.2,3.2 0 1,0 -6.4,0M232.5,654.8a3.2,3.2 0 1,0 6.4,0a3.2,3.2 0 1,0 -6.4,0M232.5,662.0a3.2,3.2 0 1,0 6.4,0a3.2,3.2 0 1,0 -6.4,0M232.5,676.4a3.2,3.2 0 1,0 6.4,0a3.2,3.2 0 1,0 -6.4,0M232.5,683.6a3.2,3.2 0 1,0 6.4,0a3.2,3.2 0 1,0 -6.4,0M246.4,651.2a3.2,3.2 0 1,0 6.4,0a3.2,3.2 0 1,0 -6.4,0M246.4,665.6a3.2,3.2 0 1,0 6.4,0a3.2,3.2 0 1,0 -6.4,0M246.4,672.8a3.2,3.2 0 1,0 6.4,0a3.2,3.2 0 1,0 -6.4,0M246.4,687.2a3.2,3.2 0 1,0 6.4,0a3.2,3.2 0 1,0 -6.4,0M260.2,655.4a3.2,3.2 0 1,0 6.4,0a3.2,3.2 0 1,0 -6.4,0M260.2,662.5a3.2,3.2 0 1,0 6.4,0a3.2,3.2 0 1,0 -6.4,0M260.2,676.7a3.2,3.2 0 1,0 6.4,0a3.2,3.2 0 1,0 -6.4,0M260.2,683.8a3.2,3.2 0 1,0 6.4,0a3.2,3.2 0 1,0 -6.4,0M274.1,658.8a3.2,3.2 0 1,0 6.4,0a3.2,3.2 0 1,0 -6.4,0M274.1,670.6a3.2,3.2 0 1,0 6.4,0a3.2,3.2 0 1,0 -6.4,0M274.1,676.6a3.2,3.2 0 1,0 6.4,0a3.2,3.2 0 1,0 -6.4,0M274.1,688.4a3.2,3.2 0 1,0 6.4,0a3.2,3.2 0 1,0 -6.4,0M287.9,668.0a3.2,3.2 0 1,0 6.4,0a3.2,3.2 0 1,0 -6.4,0M287.9,672.8a3.2,3.2 0 1,0 6.4,0a3.2,3.2 0 1,0 -6.4,0M287.9,682.3a3.2,3.2 0 1,0 6.4,0a3.2,3.2 0 1,0 -6.4,0M287.9,687.1a3.2,3.2 0 1,0 6.4,0a3.2,3.2 0 1,0 -6.4,0M301.8,672.5a3.2,3.2 0 1,0 6.4,0a3.2,3.2 0 1,0 -6.4,0M301.8,679.8a3.2,3.2 0 1,0 6.4,0a3.2,3.2 0 1,0 -6.4,0M301.8,683.4a3.2,3.2 0 1,0 6.4,0a3.2,3.2 0 1,0 -6.4,0M315.6,680.6a3.2,3.2 0 1,0 6.4,0a3.2,3.2 0 1,0 -6.4,0M315.6,683.1a3.2,3.2 0 1,0 6.4,0a3.2,3.2 0 1,0 -6.4,0M315.6,688.0a3.2,3.2 0 1,0 6.4,0a3.2,3.2 0 1,0 -6.4,0M329.5,688.9a3.2,3.2 0 1,0 6.4,0a3.2,3.2 0 1,0 -6.4,0M329.5,690.2a3.2,3.2 0 1,0 6.4,0a3.2,3.2 0 1,0 -6.4,0" fill="#5f5f5f"/>
<path d="M196.0,552.0L188.5,547.1M196.0,552.0L214.0,559.0M214.0,559.0L207.8,565.6M214.0,559.0L231.0,568.0M231.0,568.0L224.7,561.6M231.0,568.0L239.2,571.6M231.0,568.0L245.0,557.0M245.0,557.0L259.0,568.0M259.0,568.0L258.5,577.0M259.0,568.0L259.9,577.0M259.0,568.0L270.0,556.0M270.0,556.0L261.3,553.7M270.0,556.0L261.4,553.2M270.0,556.0L259.0,550.0M259.0,550.0L253.2,543.1M259.0,550.0L264.3,557.3M270.0,556.0L276.1,549.4M270.0,556.0L267.0,542.0M267.0,542.0L266.5,533.0M267.0,542.0L262.7,534.1M214.0,591.0L231.0,587.0M231.0,587.0L231.5,578.0M231.0,587.0L233.0,592.0M233.0,592.0L252.0,587.0M252.0,587.0L253.7,578.2M252.0,587.0L262.0,594.0M262.0,594.0L253.1,595.5M262.0,594.0L274.0,579.0M274.0,579.0L272.0,570.2M274.0,579.0L281.9,574.7M274.0,579.0L279.0,586.0M279.0,586.0L277.8,577.1M279.0,586.0L271.0,581.8M279.0,586.0L285.0,589.0M285.0,589.0L291.5,582.8M197.0,637.0L213.0,646.0M213.0,646.0L224.0,634.0M224.0,634.0L215.0,634.3M224.0,634.0L214.0,630.0M214.0,630.0L222.8,628.1M214.0,630.0L223.0,622.0M223.0,622.0L224.6,613.1M223.0,622.0L228.5,614.9M250.0,624.0L241.0,623.6M250.0,624.0L243.2,629.9M250.0,624.0L269.0,628.0M269.0,628.0L260.2,626.1M269.0,628.0L285.0,634.0M285.0,634.0L277.2,629.5M285.0,634.0L292.4,628.9M285.0,634.0L296.0,625.0M296.0,625.0L311.0,633.0M311.0,633.0L320.0,632.5M311.0,633.0L318.0,622.0M318.0,622.0L315.1,613.5M318.0,622.0L306.0,619.0M306.0,619.0L314.8,617.0M306.0,619.0L313.0,611.0M285.0,651.0L279.0,644.3M285.0,651.0L301.0,650.0M301.0,650.0L299.0,658.8M301.0,650.0L306.0,656.0M306.0,656.0L322.0,651.0M322.0,651.0L327.5,643.9M322.0,651.0L331.0,650.4M322.0,651.0L330.0,656.0M330.0,656.0L345.0,650.0M345.0,650.0L347.8,641.5M322.0,651.0L329.2,645.6M322.0,651.0L330.9,652.1M322.0,651.0L336.0,641.0M336.0,641.0L337.1,632.1M336.0,641.0L342.3,634.5M336.0,641.0L338.0,635.0" stroke="#d98883" stroke-width="1.5" fill="none"/>
<circle cx="235.0" cy="546.0" r="6.5" fill="#e3c980" opacity="0.8"/>
<circle cx="250.0" cy="588.0" r="6.5" fill="#e3c980" opacity="0.8"/>
<circle cx="284.0" cy="615.0" r="6.5" fill="#e3c980" opacity="0.8"/>
<circle cx="315.0" cy="648.0" r="6.5" fill="#e3c980" opacity="0.8"/>
<circle cx="192.0" cy="628.0" r="6.5" fill="#e3c980" opacity="0.8"/>
<path d="M191.7,552.0a4.3,4.3 0 1,0 8.6,0a4.3,4.3 0 1,0 -8.6,0M209.7,559.0a4.3,4.3 0 1,0 8.6,0a4.3,4.3 0 1,0 -8.6,0M226.7,568.0a4.3,4.3 0 1,0 8.6,0a4.3,4.3 0 1,0 -8.6,0M240.7,557.0a4.3,4.3 0 1,0 8.6,0a4.3,4.3 0 1,0 -8.6,0M254.7,568.0a4.3,4.3 0 1,0 8.6,0a4.3,4.3 0 1,0 -8.6,0M265.7,556.0a4.3,4.3 0 1,0 8.6,0a4.3,4.3 0 1,0 -8.6,0M254.7,550.0a4.3,4.3 0 1,0 8.6,0a4.3,4.3 0 1,0 -8.6,0M265.7,556.0a4.3,4.3 0 1,0 8.6,0a4.3,4.3 0 1,0 -8.6,0M262.7,542.0a4.3,4.3 0 1,0 8.6,0a4.3,4.3 0 1,0 -8.6,0M209.7,591.0a4.3,4.3 0 1,0 8.6,0a4.3,4.3 0 1,0 -8.6,0M226.7,587.0a4.3,4.3 0 1,0 8.6,0a4.3,4.3 0 1,0 -8.6,0M228.7,592.0a4.3,4.3 0 1,0 8.6,0a4.3,4.3 0 1,0 -8.6,0M247.7,587.0a4.3,4.3 0 1,0 8.6,0a4.3,4.3 0 1,0 -8.6,0M257.7,594.0a4.3,4.3 0 1,0 8.6,0a4.3,4.3 0 1,0 -8.6,0M269.7,579.0a4.3,4.3 0 1,0 8.6,0a4.3,4.3 0 1,0 -8.6,0M274.7,586.0a4.3,4.3 0 1,0 8.6,0a4.3,4.3 0 1,0 -8.6,0M280.7,589.0a4.3,4.3 0 1,0 8.6,0a4.3,4.3 0 1,0 -8.6,0M192.7,637.0a4.3,4.3 0 1,0 8.6,0a4.3,4.3 0 1,0 -8.6,0M208.7,646.0a4.3,4.3 0 1,0 8.6,0a4.3,4.3 0 1,0 -8.6,0M219.7,634.0a4.3,4.3 0 1,0 8.6,0a4.3,4.3 0 1,0 -8.6,0M209.7,630.0a4.3,4.3 0 1,0 8.6,0a4.3,4.3 0 1,0 -8.6,0M218.7,622.0a4.3,4.3 0 1,0 8.6,0a4.3,4.3 0 1,0 -8.6,0M245.7,624.0a4.3,4.3 0 1,0 8.6,0a4.3,4.3 0 1,0 -8.6,0M264.7,628.0a4.3,4.3 0 1,0 8.6,0a4.3,4.3 0 1,0 -8.6,0M280.7,634.0a4.3,4.3 0 1,0 8.6,0a4.3,4.3 0 1,0 -8.6,0M291.7,625.0a4.3,4.3 0 1,0 8.6,0a4.3,4.3 0 1,0 -8.6,0M306.7,633.0a4.3,4.3 0 1,0 8.6,0a4.3,4.3 0 1,0 -8.6,0M313.7,622.0a4.3,4.3 0 1,0 8.6,0a4.3,4.3 0 1,0 -8.6,0M301.7,619.0a4.3,4.3 0 1,0 8.6,0a4.3,4.3 0 1,0 -8.6,0M308.7,611.0a4.3,4.3 0 1,0 8.6,0a4.3,4.3 0 1,0 -8.6,0M280.7,651.0a4.3,4.3 0 1,0 8.6,0a4.3,4.3 0 1,0 -8.6,0M296.7,650.0a4.3,4.3 0 1,0 8.6,0a4.3,4.3 0 1,0 -8.6,0M301.7,656.0a4.3,4.3 0 1,0 8.6,0a4.3,4.3 0 1,0 -8.6,0M317.7,651.0a4.3,4.3 0 1,0 8.6,0a4.3,4.3 0 1,0 -8.6,0M325.7,656.0a4.3,4.3 0 1,0 8.6,0a4.3,4.3 0 1,0 -8.6,0M340.7,650.0a4.3,4.3 0 1,0 8.6,0a4.3,4.3 0 1,0 -8.6,0M317.7,651.0a4.3,4.3 0 1,0 8.6,0a4.3,4.3 0 1,0 -8.6,0M331.7,641.0a4.3,4.3 0 1,0 8.6,0a4.3,4.3 0 1,0 -8.6,0M333.7,635.0a4.3,4.3 0 1,0 8.6,0a4.3,4.3 0 1,0 -8.6,0" fill="#cf5f5c"/>
<path d="M186.5,547.1a2,2 0 1,0 4,0a2,2 0 1,0 -4,0M205.8,565.6a2,2 0 1,0 4,0a2,2 0 1,0 -4,0M222.7,561.6a2,2 0 1,0 4,0a2,2 0 1,0 -4,0M237.2,571.6a2,2 0 1,0 4,0a2,2 0 1,0 -4,0M256.5,577.0a2,2 0 1,0 4,0a2,2 0 1,0 -4,0M257.9,577.0a2,2 0 1,0 4,0a2,2 0 1,0 -4,0M259.3,553.7a2,2 0 1,0 4,0a2,2 0 1,0 -4,0M259.4,553.2a2,2 0 1,0 4,0a2,2 0 1,0 -4,0M251.2,543.1a2,2 0 1,0 4,0a2,2 0 1,0 -4,0M262.3,557.3a2,2 0 1,0 4,0a2,2 0 1,0 -4,0M274.1,549.4a2,2 0 1,0 4,0a2,2 0 1,0 -4,0M264.5,533.0a2,2 0 1,0 4,0a2,2 0 1,0 -4,0M260.7,534.1a2,2 0 1,0 4,0a2,2 0 1,0 -4,0M229.5,578.0a2,2 0 1,0 4,0a2,2 0 1,0 -4,0M251.7,578.2a2,2 0 1,0 4,0a2,2 0 1,0 -4,0M251.1,595.5a2,2 0 1,0 4,0a2,2 0 1,0 -4,0M270.0,570.2a2,2 0 1,0 4,0a2,2 0 1,0 -4,0M279.9,574.7a2,2 0 1,0 4,0a2,2 0 1,0 -4,0M275.8,577.1a2,2 0 1,0 4,0a2,2 0 1,0 -4,0M269.0,581.8a2,2 0 1,0 4,0a2,2 0 1,0 -4,0M289.5,582.8a2,2 0 1,0 4,0a2,2 0 1,0 -4,0M213.0,634.3a2,2 0 1,0 4,0a2,2 0 1,0 -4,0M220.8,628.1a2,2 0 1,0 4,0a2,2 0 1,0 -4,0M222.6,613.1a2,2 0 1,0 4,0a2,2 0 1,0 -4,0M226.5,614.9a2,2 0 1,0 4,0a2,2 0 1,0 -4,0M239.0,623.6a2,2 0 1,0 4,0a2,2 0 1,0 -4,0M241.2,629.9a2,2 0 1,0 4,0a2,2 0 1,0 -4,0M258.2,626.1a2,2 0 1,0 4,0a2,2 0 1,0 -4,0M275.2,629.5a2,2 0 1,0 4,0a2,2 0 1,0 -4,0M290.4,628.9a2,2 0 1,0 4,0a2,2 0 1,0 -4,0M318.0,632.5a2,2 0 1,0 4,0a2,2 0 1,0 -4,0M313.1,613.5a2,2 0 1,0 4,0a2,2 0 1,0 -4,0M312.8,617.0a2,2 0 1,0 4,0a2,2 0 1,0 -4,0M277.0,644.3a2,2 0 1,0 4,0a2,2 0 1,0 -4,0M297.0,658.8a2,2 0 1,0 4,0a2,2 0 1,0 -4,0M325.5,643.9a2,2 0 1,0 4,0a2,2 0 1,0 -4,0M329.0,650.4a2,2 0 1,0 4,0a2,2 0 1,0 -4,0M345.8,641.5a2,2 0 1,0 4,0a2,2 0 1,0 -4,0M327.2,645.6a2,2 0 1,0 4,0a2,2 0 1,0 -4,0M328.9,652.1a2,2 0 1,0 4,0a2,2 0 1,0 -4,0M335.1,632.1a2,2 0 1,0 4,0a2,2 0 1,0 -4,0M340.3,634.5a2,2 0 1,0 4,0a2,2 0 1,0 -4,0" fill="#f4f0f0"/>
<path d="M12.6,566.6C16.7,558.1 22.6,548.9 30.8,541.4C39.0,533.9 50.4,526.2 61.6,521.8C72.8,517.4 85.9,515.0 98.0,514.8C110.1,514.6 123.2,516.0 134.4,520.4C145.6,524.8 156.8,533.2 165.2,541.4C173.6,549.6 179.9,559.1 184.8,569.4C189.7,579.7 193.3,593.8 194.5,603.4C195.7,613.0 194.2,619.4 192.0,627.0C189.8,634.6 185.7,642.0 181.0,648.8C176.3,655.5 170.7,662.0 164.0,667.5C157.3,673.0 148.7,678.2 140.6,681.6C132.5,685.0 124.4,687.1 115.6,687.8C106.8,688.5 95.8,687.0 87.5,686.0C79.2,685.0 72.4,683.9 65.6,681.6C58.8,679.3 53.2,676.4 46.9,672.0C40.6,667.6 33.2,660.4 28.0,655.0C22.8,649.6 19.0,645.4 15.6,639.4C12.2,633.4 9.4,626.8 7.8,619.0C6.2,611.2 5.5,601.2 6.2,592.5C7.0,583.8 8.5,575.1 12.6,566.6Z" fill="url(#gBlue)" stroke="#2f5a8c" stroke-opacity="0.35" stroke-width="1.6"/>
<path d="M99.9,524.3C95.2,524.3 77.4,538.2 73.2,542.1C69.0,546.1 52.7,566.9 49.5,571.8C46.3,576.7 36.3,596.8 34.6,601.5C33.0,606.2 28.3,624.9 29.2,628.4C30.1,631.9 40.3,641.8 45.8,643.4C51.3,644.9 85.8,646.9 95.4,646.6C105.1,646.4 154.8,641.4 161.4,640.1C168.0,638.7 174.4,633.3 174.9,630.1C175.5,626.9 169.6,606.3 168.3,601.9C167.1,597.5 163.3,582.1 160.0,577.1C156.8,572.1 134.6,546.5 129.6,542.1C124.6,537.7 104.6,524.3 99.9,524.3Z" fill="#4a86c6"/>
<clipPath id="cc4"><path d="M98.0,530.2C93.6,530.2 76.8,543.3 72.8,547.0C68.8,550.7 53.4,570.3 50.4,575.0C47.4,579.7 38.0,598.5 36.4,603.0C34.8,607.5 30.4,625.1 31.2,628.4C32.1,631.7 41.7,641.1 46.9,642.5C52.1,643.9 84.7,645.9 93.8,645.6C102.8,645.3 149.8,640.7 156.0,639.4C162.2,638.1 168.2,633.0 168.8,630.0C169.3,627.0 163.7,607.6 162.5,603.4C161.3,599.2 157.7,584.7 154.7,580.0C151.7,575.3 130.7,551.1 126.0,547.0C121.3,542.9 102.4,530.2 98.0,530.2Z"/></clipPath>
<path d="M98.0,530.2C93.6,530.2 76.8,543.3 72.8,547.0C68.8,550.7 53.4,570.3 50.4,575.0C47.4,579.7 38.0,598.5 36.4,603.0C34.8,607.5 30.4,625.1 31.2,628.4C32.1,631.7 41.7,641.1 46.9,642.5C52.1,643.9 84.7,645.9 93.8,645.6C102.8,645.3 149.8,640.7 156.0,639.4C162.2,638.1 168.2,633.0 168.8,630.0C169.3,627.0 163.7,607.6 162.5,603.4C161.3,599.2 157.7,584.7 154.7,580.0C151.7,575.3 130.7,551.1 126.0,547.0C121.3,542.9 102.4,530.2 98.0,530.2Z" fill="url(#gCore)"/>
<g clip-path="url(#cc4)" filter="url(#blur4)">
<ellipse cx="120" cy="625" rx="20" ry="10" fill="#6a6266" opacity="0.5"/>
<ellipse cx="70" cy="610" rx="18" ry="10" fill="#3a3d4c" opacity="0.4"/>
</g>
<path d="M935.8,532.1L951.4,528.4M935.8,532.1L935.8,539.7M935.8,539.7L951.4,543.5M951.4,528.4L966.9,532.1M951.4,543.5L966.9,539.7M951.4,543.5L951.4,551.0M951.4,551.0L966.9,554.8M966.9,532.1L982.5,528.4M966.9,532.1L966.9,539.7M966.9,539.7L982.5,543.5M966.9,554.8L982.5,551.0M966.9,554.8L966.9,562.4M966.9,562.4L982.5,566.2M982.5,528.4L998.1,532.1M982.5,543.5L998.1,539.7M982.5,543.5L982.5,551.0M982.5,551.0L998.1,554.8M982.5,566.2L998.1,562.4M982.5,566.2L982.5,573.7M982.5,573.7L998.1,577.5M998.1,532.1L1013.7,528.4M998.1,532.1L998.1,539.7M998.1,539.7L1013.7,543.5M998.1,554.8L1013.7,551.0M998.1,554.8L998.1,562.4M998.1,562.4L1013.7,566.2M998.1,577.5L1013.7,573.7M1013.7,528.4L1029.3,532.1M1013.7,543.5L1029.3,539.7M1013.7,543.5L1013.7,551.0M1013.7,551.0L1029.3,554.8M1013.7,566.2L1029.3,562.4M1013.7,566.2L1013.7,573.7M1013.7,573.7L1029.3,577.5M1029.3,532.1L1044.9,528.4M1029.3,532.1L1029.3,539.7M1029.3,539.7L1044.9,543.5M1029.3,554.8L1044.9,551.0M1029.3,554.8L1029.3,562.4M1029.3,562.4L1044.9,566.2M1029.3,577.5L1044.9,573.7M1044.9,528.4L1060.5,532.1M1044.9,543.5L1060.5,539.7M1044.9,543.5L1044.9,551.0M1044.9,551.0L1060.5,554.8M1044.9,566.2L1060.5,562.4M1044.9,566.2L1044.9,573.7M1044.9,573.7L1060.5,577.5M1060.5,532.1L1076.1,528.4M1060.5,532.1L1060.5,539.7M1060.5,539.7L1076.1,543.5M1060.5,554.8L1076.1,551.0M1060.5,554.8L1060.5,562.4M1060.5,562.4L1076.1,566.2M1060.5,577.5L1076.1,573.7M1076.1,528.4L1091.6,532.1M1076.1,543.5L1091.6,539.7M1076.1,543.5L1076.1,551.0M1076.1,551.0L1091.6,554.8M1076.1,566.2L1091.6,562.4M1076.1,566.2L1076.1,573.7M1076.1,573.7L1091.6,577.5M1091.6,532.1L1107.2,528.4M1091.6,532.1L1091.6,539.7M1091.6,539.7L1107.2,543.5M1091.6,554.8L1107.2,551.0M1091.6,554.8L1091.6,562.4M1091.6,562.4L1107.2,566.2M1091.6,577.5L1107.2,573.7M1107.2,528.4L1122.8,532.1M1107.2,543.5L1122.8,539.7M1107.2,543.5L1107.2,551.0M1107.2,551.0L1122.8,554.8M1107.2,566.2L1122.8,562.4M1107.2,566.2L1107.2,573.7M1107.2,573.7L1122.8,577.5M1122.8,532.1L1122.8,539.7M1122.8,539.7L1138.4,543.5M1122.8,554.8L1138.4,551.0M1122.8,554.8L1122.8,562.4M1122.8,562.4L1138.4,566.2M1122.8,577.5L1138.4,573.7M1138.4,543.5L1138.4,551.0M1138.4,566.2L1138.4,573.7" stroke="#666" stroke-width="2.5" fill="none" stroke-linecap="round"/>
<path d="M932.8,532.1a3,3 0 1,0 6,0a3,3 0 1,0 -6,0M932.8,539.7a3,3 0 1,0 6,0a3,3 0 1,0 -6,0M948.4,528.4a3,3 0 1,0 6,0a3,3 0 1,0 -6,0M948.4,543.5a3,3 0 1,0 6,0a3,3 0 1,0 -6,0M948.4,551.0a3,3 0 1,0 6,0a3,3 0 1,0 -6,0M963.9,532.1a3,3 0 1,0 6,0a3,3 0 1,0 -6,0M963.9,539.7a3,3 0 1,0 6,0a3,3 0 1,0 -6,0M963.9,554.8a3,3 0 1,0 6,0a3,3 0 1,0 -6,0M963.9,562.4a3,3 0 1,0 6,0a3,3 0 1,0 -6,0M979.5,528.4a3,3 0 1,0 6,0a3,3 0 1,0 -6,0M979.5,543.5a3,3 0 1,0 6,0a3,3 0 1,0 -6,0M979.5,551.0a3,3 0 1,0 6,0a3,3 0 1,0 -6,0M979.5,566.2a3,3 0 1,0 6,0a3,3 0 1,0 -6,0M979.5,573.7a3,3 0 1,0 6,0a3,3 0 1,0 -6,0M995.1,532.1a3,3 0 1,0 6,0a3,3 0 1,0 -6,0M995.1,539.7a3,3 0 1,0 6,0a3,3 0 1,0 -6,0M995.1,554.8a3,3 0 1,0 6,0a3,3 0 1,0 -6,0M995.1,562.4a3,3 0 1,0 6,0a3,3 0 1,0 -6,0M995.1,577.5a3,3 0 1,0 6,0a3,3 0 1,0 -6,0M1010.7,528.4a3,3 0 1,0 6,0a3,3 0 1,0 -6,0M1010.7,543.5a3,3 0 1,0 6,0a3,3 0 1,0 -6,0M1010.7,551.0a3,3 0 1,0 6,0a3,3 0 1,0 -6,0M1010.7,566.2a3,3 0 1,0 6,0a3,3 0 1,0 -6,0M1010.7,573.7a3,3 0 1,0 6,0a3,3 0 1,0 -6,0M1026.3,532.1a3,3 0 1,0 6,0a3,3 0 1,0 -6,0M1026.3,539.7a3,3 0 1,0 6,0a3,3 0 1,0 -6,0M1026.3,554.8a3,3 0 1,0 6,0a3,3 0 1,0 -6,0M1026.3,562.4a3,3 0 1,0 6,0a3,3 0 1,0 -6,0M1026.3,577.5a3,3 0 1,0 6,0a3,3 0 1,0 -6,0M1041.9,528.4a3,3 0 1,0 6,0a3,3 0 1,0 -6,0M1041.9,543.5a3,3 0 1,0 6,0a3,3 0 1,0 -6,0M1041.9,551.0a3,3 0 1,0 6,0a3,3 0 1,0 -6,0M1041.9,566.2a3,3 0 1,0 6,0a3,3 0 1,0 -6,0M1041.9,573.7a3,3 0 1,0 6,0a3,3 0 1,0 -6,0M1057.5,532.1a3,3 0 1,0 6,0a3,3 0 1,0 -6,0M1057.5,539.7a3,3 0 1,0 6,0a3,3 0 1,0 -6,0M1057.5,554.8a3,3 0 1,0 6,0a3,3 0 1,0 -6,0M1057.5,562.4a3,3 0 1,0 6,0a3,3 0 1,0 -6,0M1057.5,577.5a3,3 0 1,0 6,0a3,3 0 1,0 -6,0M1073.1,528.4a3,3 0 1,0 6,0a3,3 0 1,0 -6,0M1073.1,543.5a3,3 0 1,0 6,0a3,3 0 1,0 -6,0M1073.1,551.0a3,3 0 1,0 6,0a3,3 0 1,0 -6,0M1073.1,566.2a3,3 0 1,0 6,0a3,3 0 1,0 -6,0M1073.1,573.7a3,3 0 1,0 6,0a3,3 0 1,0 -6,0M1088.6,532.1a3,3 0 1,0 6,0a3,3 0 1,0 -6,0M1088.6,539.7a3,3 0 1,0 6,0a3,3 0 1,0 -6,0M1088.6,554.8a3,3 0 1,0 6,0a3,3 0 1,0 -6,0M1088.6,562.4a3,3 0 1,0 6,0a3,3 0 1,0 -6,0M1088.6,577.5a3,3 0 1,0 6,0a3,3 0 1,0 -6,0M1104.2,528.4a3,3 0 1,0 6,0a3,3 0 1,0 -6,0M1104.2,543.5a3,3 0 1,0 6,0a3,3 0 1,0 -6,0M1104.2,551.0a3,3 0 1,0 6,0a3,3 0 1,0 -6,0M1104.2,566.2a3,3 0 1,0 6,0a3,3 0 1,0 -6,0M1104.2,573.7a3,3 0 1,0 6,0a3,3 0 1,0 -6,0M1119.8,532.1a3,3 0 1,0 6,0a3,3 0 1,0 -6,0M1119.8,539.7a3,3 0 1,0 6,0a3,3 0 1,0 -6,0M1119.8,554.8a3,3 0 1,0 6,0a3,3 0 1,0 -6,0M1119.8,562.4a3,3 0 1,0 6,0a3,3 0 1,0 -6,0M1119.8,577.5a3,3 0 1,0 6,0a3,3 0 1,0 -6,0M1135.4,543.5a3,3 0 1,0 6,0a3,3 0 1,0 -6,0M1135.4,551.0a3,3 0 1,0 6,0a3,3 0 1,0 -6,0M1135.4,566.2a3,3 0 1,0 6,0a3,3 0 1,0 -6,0M1135.4,573.7a3,3 0 1,0 6,0a3,3 0 1,0 -6,0" fill="#5f5f5f"/>
<path d="M988.2,590.6L1002.9,587.2M988.2,590.6L988.2,597.4M988.2,597.4L1002.9,600.8M1002.9,580.4L1017.6,577.0M1002.9,580.4L1002.9,587.2M1002.9,587.2L1017.6,590.6M1002.9,600.8L1017.6,597.4M1002.9,600.8L1002.9,607.6M1002.9,607.6L1017.6,611.0M1017.6,570.2L1032.3,566.8M1017.6,570.2L1017.6,577.0M1017.6,577.0L1032.3,580.4M1017.6,590.6L1032.3,587.2M1017.6,590.6L1017.6,597.4M1017.6,597.4L1032.3,600.8M1017.6,611.0L1032.3,607.6M1032.3,566.8L1047.1,570.2M1032.3,580.4L1047.1,577.0M1032.3,580.4L1032.3,587.2M1032.3,587.2L1047.1,590.6M1032.3,600.8L1047.1,597.4M1032.3,600.8L1032.3,607.6M1032.3,607.6L1047.1,611.0M1047.1,570.2L1061.8,566.8M1047.1,570.2L1047.1,577.0M1047.1,577.0L1061.8,580.4M1047.1,590.6L1061.8,587.2M1047.1,590.6L1047.1,597.4M1047.1,597.4L1061.8,600.8M1047.1,611.0L1061.8,607.6M1061.8,566.8L1076.5,570.2M1061.8,580.4L1076.5,577.0M1061.8,580.4L1061.8,587.2M1061.8,587.2L1076.5,590.6M1061.8,600.8L1076.5,597.4M1061.8,600.8L1061.8,607.6M1061.8,607.6L1076.5,611.0M1076.5,570.2L1076.5,577.0M1076.5,577.0L1091.2,580.4M1076.5,590.6L1091.2,587.2M1076.5,590.6L1076.5,597.4M1076.5,597.4L1091.2,600.8M1076.5,611.0L1091.2,607.6M1091.2,580.4L1105.9,577.0M1091.2,580.4L1091.2,587.2M1091.2,587.2L1105.9,590.6M1091.2,600.8L1105.9,597.4M1091.2,600.8L1091.2,607.6M1091.2,607.6L1105.9,611.0M1105.9,577.0L1120.7,580.4M1105.9,590.6L1120.7,587.2M1105.9,590.6L1105.9,597.4M1105.9,597.4L1120.7,600.8M1105.9,611.0L1120.7,607.6M1120.7,580.4L1120.7,587.2M1120.7,587.2L1135.4,590.6M1120.7,600.8L1135.4,597.4M1120.7,600.8L1120.7,607.6M1135.4,590.6L1135.4,597.4" stroke="#666" stroke-width="2.5" fill="none" stroke-linecap="round"/>
<path d="M985.2,590.6a3,3 0 1,0 6,0a3,3 0 1,0 -6,0M985.2,597.4a3,3 0 1,0 6,0a3,3 0 1,0 -6,0M999.9,580.4a3,3 0 1,0 6,0a3,3 0 1,0 -6,0M999.9,587.2a3,3 0 1,0 6,0a3,3 0 1,0 -6,0M999.9,600.8a3,3 0 1,0 6,0a3,3 0 1,0 -6,0M999.9,607.6a3,3 0 1,0 6,0a3,3 0 1,0 -6,0M1014.6,570.2a3,3 0 1,0 6,0a3,3 0 1,0 -6,0M1014.6,577.0a3,3 0 1,0 6,0a3,3 0 1,0 -6,0M1014.6,590.6a3,3 0 1,0 6,0a3,3 0 1,0 -6,0M1014.6,597.4a3,3 0 1,0 6,0a3,3 0 1,0 -6,0M1014.6,611.0a3,3 0 1,0 6,0a3,3 0 1,0 -6,0M1029.3,566.8a3,3 0 1,0 6,0a3,3 0 1,0 -6,0M1029.3,580.4a3,3 0 1,0 6,0a3,3 0 1,0 -6,0M1029.3,587.2a3,3 0 1,0 6,0a3,3 0 1,0 -6,0M1029.3,600.8a3,3 0 1,0 6,0a3,3 0 1,0 -6,0M1029.3,607.6a3,3 0 1,0 6,0a3,3 0 1,0 -6,0M1044.1,570.2a3,3 0 1,0 6,0a3,3 0 1,0 -6,0M1044.1,577.0a3,3 0 1,0 6,0a3,3 0 1,0 -6,0M1044.1,590.6a3,3 0 1,0 6,0a3,3 0 1,0 -6,0M1044.1,597.4a3,3 0 1,0 6,0a3,3 0 1,0 -6,0M1044.1,611.0a3,3 0 1,0 6,0a3,3 0 1,0 -6,0M1058.8,566.8a3,3 0 1,0 6,0a3,3 0 1,0 -6,0M1058.8,580.4a3,3 0 1,0 6,0a3,3 0 1,0 -6,0M1058.8,587.2a3,3 0 1,0 6,0a3,3 0 1,0 -6,0M1058.8,600.8a3,3 0 1,0 6,0a3,3 0 1,0 -6,0M1058.8,607.6a3,3 0 1,0 6,0a3,3 0 1,0 -6,0M1073.5,570.2a3,3 0 1,0 6,0a3,3 0 1,0 -6,0M1073.5,577.0a3,3 0 1,0 6,0a3,3 0 1,0 -6,0M1073.5,590.6a3,3 0 1,0 6,0a3,3 0 1,0 -6,0M1073.5,597.4a3,3 0 1,0 6,0a3,3 0 1,0 -6,0M1073.5,611.0a3,3 0 1,0 6,0a3,3 0 1,0 -6,0M1088.2,580.4a3,3 0 1,0 6,0a3,3 0 1,0 -6,0M1088.2,587.2a3,3 0 1,0 6,0a3,3 0 1,0 -6,0M1088.2,600.8a3,3 0 1,0 6,0a3,3 0 1,0 -6,0M1088.2,607.6a3,3 0 1,0 6,0a3,3 0 1,0 -6,0M1102.9,577.0a3,3 0 1,0 6,0a3,3 0 1,0 -6,0M1102.9,590.6a3,3 0 1,0 6,0a3,3 0 1,0 -6,0M1102.9,597.4a3,3 0 1,0 6,0a3,3 0 1,0 -6,0M1102.9,611.0a3,3 0 1,0 6,0a3,3 0 1,0 -6,0M1117.7,580.4a3,3 0 1,0 6,0a3,3 0 1,0 -6,0M1117.7,587.2a3,3 0 1,0 6,0a3,3 0 1,0 -6,0M1117.7,600.8a3,3 0 1,0 6,0a3,3 0 1,0 -6,0M1117.7,607.6a3,3 0 1,0 6,0a3,3 0 1,0 -6,0M1132.4,590.6a3,3 0 1,0 6,0a3,3 0 1,0 -6,0M1132.4,597.4a3,3 0 1,0 6,0a3,3 0 1,0 -6,0" fill="#5f5f5f"/>
<path d="M987.3,610.3L1000.7,607.2M987.3,610.3L987.3,616.5M987.3,616.5L1000.7,619.6M987.3,628.9L1000.7,625.8M987.3,628.9L987.3,635.1M987.3,635.1L1000.7,638.2M987.3,647.5L1000.7,644.4M987.3,647.5L987.3,653.7M987.3,653.7L1000.7,656.8M1000.7,607.2L1014.1,610.3M1000.7,619.6L1014.1,616.5M1000.7,619.6L1000.7,625.8M1000.7,625.8L1014.1,628.9M1000.7,638.2L1014.1,635.1M1000.7,638.2L1000.7,644.4M1000.7,644.4L1014.1,647.5M1000.7,656.8L1014.1,653.7M1014.1,610.3L1027.5,607.2M1014.1,610.3L1014.1,616.5M1014.1,616.5L1027.5,619.6M1014.1,628.9L1027.5,625.8M1014.1,628.9L1014.1,635.1M1014.1,635.1L1027.5,638.2M1014.1,647.5L1027.5,644.4M1014.1,647.5L1014.1,653.7M1014.1,653.7L1027.5,656.8M1027.5,607.2L1041.0,610.3M1027.5,619.6L1041.0,616.5M1027.5,619.6L1027.5,625.8M1027.5,625.8L1041.0,628.9M1027.5,638.2L1041.0,635.1M1027.5,638.2L1027.5,644.4M1027.5,644.4L1041.0,647.5M1027.5,656.8L1041.0,653.7M1041.0,610.3L1054.4,607.2M1041.0,610.3L1041.0,616.5M1041.0,616.5L1054.4,619.6M1041.0,628.9L1054.4,625.8M1041.0,628.9L1041.0,635.1M1041.0,635.1L1054.4,638.2M1041.0,647.5L1054.4,644.4M1041.0,647.5L1041.0,653.7M1054.4,607.2L1067.8,610.3M1054.4,619.6L1067.8,616.5M1054.4,619.6L1054.4,625.8M1054.4,625.8L1067.8,628.9M1054.4,638.2L1067.8,635.1M1054.4,638.2L1054.4,644.4M1054.4,644.4L1067.8,647.5M1067.8,610.3L1081.2,607.2M1067.8,610.3L1067.8,616.5M1067.8,616.5L1081.2,619.6M1067.8,628.9L1081.2,625.8M1067.8,628.9L1067.8,635.1M1067.8,635.1L1081.2,638.2M1067.8,647.5L1081.2,644.4M1081.2,607.2L1094.7,610.3M1081.2,619.6L1094.7,616.5M1081.2,619.6L1081.2,625.8M1081.2,625.8L1094.7,628.9M1081.2,638.2L1094.7,635.1M1081.2,638.2L1081.2,644.4M1081.2,644.4L1094.7,647.5M1094.7,610.3L1108.1,607.2M1094.7,610.3L1094.7,616.5M1094.7,616.5L1108.1,619.6M1094.7,628.9L1108.1,625.8M1094.7,628.9L1094.7,635.1M1094.7,635.1L1108.1,638.2M1094.7,647.5L1108.1,644.4M1108.1,607.2L1121.5,610.3M1108.1,619.6L1121.5,616.5M1108.1,619.6L1108.1,625.8M1108.1,625.8L1121.5,628.9M1108.1,638.2L1121.5,635.1M1108.1,638.2L1108.1,644.4M1121.5,610.3L1121.5,616.5M1121.5,616.5L1134.9,619.6M1121.5,628.9L1134.9,625.8M1121.5,628.9L1121.5,635.1M1134.9,619.6L1134.9,625.8" stroke="#666" stroke-width="2.5" fill="none" stroke-linecap="round"/>
<path d="M984.3,610.3a3,3 0 1,0 6,0a3,3 0 1,0 -6,0M984.3,616.5a3,3 0 1,0 6,0a3,3 0 1,0 -6,0M984.3,628.9a3,3 0 1,0 6,0a3,3 0 1,0 -6,0M984.3,635.1a3,3 0 1,0 6,0a3,3 0 1,0 -6,0M984.3,647.5a3,3 0 1,0 6,0a3,3 0 1,0 -6,0M984.3,653.7a3,3 0 1,0 6,0a3,3 0 1,0 -6,0M997.7,607.2a3,3 0 1,0 6,0a3,3 0 1,0 -6,0M997.7,619.6a3,3 0 1,0 6,0a3,3 0 1,0 -6,0M997.7,625.8a3,3 0 1,0 6,0a3,3 0 1,0 -6,0M997.7,638.2a3,3 0 1,0 6,0a3,3 0 1,0 -6,0M997.7,644.4a3,3 0 1,0 6,0a3,3 0 1,0 -6,0M997.7,656.8a3,3 0 1,0 6,0a3,3 0 1,0 -6,0M1011.1,610.3a3,3 0 1,0 6,0a3,3 0 1,0 -6,0M1011.1,616.5a3,3 0 1,0 6,0a3,3 0 1,0 -6,0M1011.1,628.9a3,3 0 1,0 6,0a3,3 0 1,0 -6,0M1011.1,635.1a3,3 0 1,0 6,0a3,3 0 1,0 -6,0M1011.1,647.5a3,3 0 1,0 6,0a3,3 0 1,0 -6,0M1011.1,653.7a3,3 0 1,0 6,0a3,3 0 1,0 -6,0M1024.5,607.2a3,3 0 1,0 6,0a3,3 0 1,0 -6,0M1024.5,619.6a3,3 0 1,0 6,0a3,3 0 1,0 -6,0M1024.5,625.8a3,3 0 1,0 6,0a3,3 0 1,0 -6,0M1024.5,638.2a3,3 0 1,0 6,0a3,3 0 1,0 -6,0M1024.5,644.4a3,3 0 1,0 6,0a3,3 0 1,0 -6,0M1024.5,656.8a3,3 0 1,0 6,0a3,3 0 1,0 -6,0M1038.0,610.3a3,3 0 1,0 6,0a3,3 0 1,0 -6,0M1038.0,616.5a3,3 0 1,0 6,0a3,3 0 1,0 -6,0M1038.0,628.9a3,3 0 1,0 6,0a3,3 0 1,0 -6,0M1038.0,635.1a3,3 0 1,0 6,0a3,3 0 1,0 -6,0M1038.0,647.5a3,3 0 1,0 6,0a3,3 0 1,0 -6,0M1038.0,653.7a3,3 0 1,0 6,0a3,3 0 1,0 -6,0M1051.4,607.2a3,3 0 1,0 6,0a3,3 0 1,0 -6,0M1051.4,619.6a3,3 0 1,0 6,0a3,3 0 1,0 -6,0M1051.4,625.8a3,3 0 1,0 6,0a3,3 0 1,0 -6,0M1051.4,638.2a3,3 0 1,0 6,0a3,3 0 1,0 -6,0M1051.4,644.4a3,3 0 1,0 6,0a3,3 0 1,0 -6,0M1064.8,610.3a3,3 0 1,0 6,0a3,3 0 1,0 -6,0M1064.8,616.5a3,3 0 1,0 6,0a3,3 0 1,0 -6,0M1064.8,628.9a3,3 0 1,0 6,0a3,3 0 1,0 -6,0M1064.8,635.1a3,3 0 1,0 6,0a3,3 0 1,0 -6,0M1064.8,647.5a3,3 0 1,0 6,0a3,3 0 1,0 -6,0M1078.2,607.2a3,3 0 1,0 6,0a3,3 0 1,0 -6,0M1078.2,619.6a3,3 0 1,0 6,0a3,3 0 1,0 -6,0M1078.2,625.8a3,3 0 1,0 6,0a3,3 0 1,0 -6,0M1078.2,638.2a3,3 0 1,0 6,0a3,3 0 1,0 -6,0M1078.2,644.4a3,3 0 1,0 6,0a3,3 0 1,0 -6,0M1091.7,610.3a3,3 0 1,0 6,0a3,3 0 1,0 -6,0M1091.7,616.5a3,3 0 1,0 6,0a3,3 0 1,0 -6,0M1091.7,628.9a3,3 0 1,0 6,0a3,3 0 1,0 -6,0M1091.7,635.1a3,3 0 1,0 6,0a3,3 0 1,0 -6,0M1091.7,647.5a3,3 0 1,0 6,0a3,3 0 1,0 -6,0M1105.1,607.2a3,3 0 1,0 6,0a3,3 0 1,0 -6,0M1105.1,619.6a3,3 0 1,0 6,0a3,3 0 1,0 -6,0M1105.1,625.8a3,3 0 1,0 6,0a3,3 0 1,0 -6,0M1105.1,638.2a3,3 0 1,0 6,0a3,3 0 1,0 -6,0M1105.1,644.4a3,3 0 1,0 6,0a3,3 0 1,0 -6,0M1118.5,610.3a3,3 0 1,0 6,0a3,3 0 1,0 -6,0M1118.5,616.5a3,3 0 1,0 6,0a3,3 0 1,0 -6,0M1118.5,628.9a3,3 0 1,0 6,0a3,3 0 1,0 -6,0M1118.5,635.1a3,3 0 1,0 6,0a3,3 0 1,0 -6,0M1131.9,619.6a3,3 0 1,0 6,0a3,3 0 1,0 -6,0M1131.9,625.8a3,3 0 1,0 6,0a3,3 0 1,0 -6,0" fill="#5f5f5f"/>
<path d="M979.0,563.0L976.0,571.5M979.0,563.0L983.0,576.0M983.0,576.0L974.1,577.2M983.0,576.0L990.6,580.8M1111.0,562.0L1127.0,559.0M1127.0,559.0L1118.4,556.3M1127.0,559.0L1124.8,567.7M1127.0,559.0L1134.0,566.0M1134.0,566.0L1152.0,562.0M1152.0,562.0L1143.1,560.9M1152.0,562.0L1167.0,547.0M1167.0,547.0L1165.5,555.9M1152.0,562.0L1156.2,554.0M1152.0,562.0L1178.0,560.0M1178.0,560.0L1180.0,568.8M1055.0,607.0L1060.0,614.0M1060.0,614.0L1062.8,605.4M1060.0,614.0L1078.0,612.0M1078.0,612.0L1082.6,619.7M1078.0,612.0L1087.0,613.0M1087.0,613.0L1080.7,606.6M1087.0,613.0L1104.0,607.0M1104.0,607.0L1111.7,611.7M1104.0,607.0L1108.0,605.0M1108.0,605.0L1103.7,597.1M1108.0,605.0L1097.0,594.0M1097.0,594.0L1100.9,602.1" stroke="#d98883" stroke-width="1.5" fill="none"/>
<circle cx="1143.0" cy="557.0" r="6.5" fill="#e3c980" opacity="0.8"/>
<circle cx="1073.0" cy="603.0" r="6.5" fill="#e3c980" opacity="0.8"/>
<path d="M974.7,563.0a4.3,4.3 0 1,0 8.6,0a4.3,4.3 0 1,0 -8.6,0M978.7,576.0a4.3,4.3 0 1,0 8.6,0a4.3,4.3 0 1,0 -8.6,0M1106.7,562.0a4.3,4.3 0 1,0 8.6,0a4.3,4.3 0 1,0 -8.6,0M1122.7,559.0a4.3,4.3 0 1,0 8.6,0a4.3,4.3 0 1,0 -8.6,0M1129.7,566.0a4.3,4.3 0 1,0 8.6,0a4.3,4.3 0 1,0 -8.6,0M1147.7,562.0a4.3,4.3 0 1,0 8.6,0a4.3,4.3 0 1,0 -8.6,0M1162.7,547.0a4.3,4.3 0 1,0 8.6,0a4.3,4.3 0 1,0 -8.6,0M1147.7,562.0a4.3,4.3 0 1,0 8.6,0a4.3,4.3 0 1,0 -8.6,0M1173.7,560.0a4.3,4.3 0 1,0 8.6,0a4.3,4.3 0 1,0 -8.6,0M1050.7,607.0a4.3,4.3 0 1,0 8.6,0a4.3,4.3 0 1,0 -8.6,0M1055.7,614.0a4.3,4.3 0 1,0 8.6,0a4.3,4.3 0 1,0 -8.6,0M1073.7,612.0a4.3,4.3 0 1,0 8.6,0a4.3,4.3 0 1,0 -8.6,0M1082.7,613.0a4.3,4.3 0 1,0 8.6,0a4.3,4.3 0 1,0 -8.6,0M1099.7,607.0a4.3,4.3 0 1,0 8.6,0a4.3,4.3 0 1,0 -8.6,0M1103.7,605.0a4.3,4.3 0 1,0 8.6,0a4.3,4.3 0 1,0 -8.6,0M1092.7,594.0a4.3,4.3 0 1,0 8.6,0a4.3,4.3 0 1,0 -8.6,0" fill="#cf5f5c"/>
<path d="M974.0,571.5a2,2 0 1,0 4,0a2,2 0 1,0 -4,0M972.1,577.2a2,2 0 1,0 4,0a2,2 0 1,0 -4,0M988.6,580.8a2,2 0 1,0 4,0a2,2 0 1,0 -4,0M1116.4,556.3a2,2 0 1,0 4,0a2,2 0 1,0 -4,0M1122.8,567.7a2,2 0 1,0 4,0a2,2 0 1,0 -4,0M1141.1,560.9a2,2 0 1,0 4,0a2,2 0 1,0 -4,0M1163.5,555.9a2,2 0 1,0 4,0a2,2 0 1,0 -4,0M1154.2,554.0a2,2 0 1,0 4,0a2,2 0 1,0 -4,0M1178.0,568.8a2,2 0 1,0 4,0a2,2 0 1,0 -4,0M1060.8,605.4a2,2 0 1,0 4,0a2,2 0 1,0 -4,0M1080.6,619.7a2,2 0 1,0 4,0a2,2 0 1,0 -4,0M1078.7,606.6a2,2 0 1,0 4,0a2,2 0 1,0 -4,0M1109.7,611.7a2,2 0 1,0 4,0a2,2 0 1,0 -4,0M1101.7,597.1a2,2 0 1,0 4,0a2,2 0 1,0 -4,0M1098.9,602.1a2,2 0 1,0 4,0a2,2 0 1,0 -4,0" fill="#f4f0f0"/>
<path d="M831.8,623.0C831.8,615.0 832.1,602.9 834.0,593.4C835.9,583.9 838.6,573.6 843.2,566.0C847.8,558.4 853.5,552.7 861.5,547.8C869.5,542.9 881.1,538.9 891.0,536.4C900.9,533.9 911.6,532.2 920.7,533.0C929.8,533.8 937.4,536.2 945.8,541.0C954.1,545.8 963.6,553.9 970.8,561.5C978.0,569.1 985.2,580.0 989.0,586.5C992.8,593.0 993.6,593.0 993.6,600.2C993.6,607.4 991.3,621.1 989.0,629.8C986.7,638.5 984.5,645.8 980.0,652.6C975.5,659.4 969.7,665.1 961.7,670.8C953.7,676.5 942.2,683.6 932.0,686.8C921.8,690.0 910.4,691.0 900.2,690.2C890.0,689.4 879.3,687.0 870.6,682.2C861.9,677.5 853.9,668.5 847.8,661.7C841.7,654.9 836.7,647.7 834.0,641.2C831.3,634.8 831.8,631.0 831.8,623.0Z" fill="#4686c6"/>
<path d="M916.0,547.8C916.4,547.1 929.9,538.8 932.0,538.7C934.1,538.6 950.3,544.2 952.6,545.5C954.9,546.8 968.7,559.1 970.8,561.5C972.9,563.9 987.7,584.2 989.0,586.5C990.3,588.8 993.6,597.7 993.6,600.2C993.6,602.7 989.7,627.0 989.0,629.8C988.3,632.6 983.1,646.7 982.2,648.0C981.3,649.3 973.7,653.5 973.0,652.6C972.3,651.7 971.5,635.5 970.8,632.0C970.1,628.5 963.3,597.0 961.7,593.4C960.1,589.8 945.6,573.1 943.5,570.6C941.4,568.1 926.9,551.3 925.3,550.0C923.7,548.7 915.6,548.5 916.0,547.8Z" fill="#b587bf"/>
<path d="M875.0,572.8C874.7,571.9 878.6,558.7 879.7,557.0C880.8,555.3 891.3,544.4 893.4,543.2C895.5,542.0 914.4,536.1 916.0,536.4C917.6,536.7 921.6,546.3 920.7,547.8C919.8,549.3 902.1,560.0 900.0,561.5C897.9,563.0 885.5,572.1 884.0,572.8C882.5,573.5 875.3,573.7 875.0,572.8Z" fill="#b587bf"/>
<path d="M834.0,616.0C833.9,614.4 835.7,596.0 836.4,593.4C837.1,590.8 844.4,572.3 845.5,570.6C846.6,568.9 853.9,563.0 854.6,563.7C855.3,564.4 857.1,579.9 857.0,582.0C856.9,584.1 853.4,597.9 852.3,600.2C851.2,602.5 839.8,619.8 838.7,620.7C837.6,621.6 834.1,617.6 834.0,616.0Z" fill="#b587bf"/>
<path d="M882.0,670.8C882.0,669.3 891.1,655.4 893.4,654.9C895.7,654.4 917.5,661.6 920.7,661.7C923.9,661.8 945.6,657.0 948.0,657.0C950.4,657.0 961.4,660.4 961.7,661.7C962.0,663.0 954.7,678.7 952.6,680.0C950.5,681.3 928.8,684.5 925.3,684.5C921.8,684.5 895.9,680.8 893.4,680.0C890.9,679.2 882.0,672.3 882.0,670.8Z" fill="#b587bf"/>
<path d="M847.8,636.6C848.6,636.2 862.4,640.3 863.7,641.2C865.0,642.1 870.9,651.7 870.6,652.6C870.3,653.5 860.4,657.3 859.2,657.0C858.0,656.7 850.7,649.2 850.0,648.0C849.3,646.8 847.0,637.0 847.8,636.6Z" fill="#b587bf"/>
<path d="M916.2,556.1C908.1,557.8 882.1,582.5 875.3,589.8C868.6,597.1 860.7,613.6 858.5,618.7C856.2,623.7 849.3,630.2 856.0,633.3C862.8,636.4 903.6,645.1 916.2,645.4C928.9,645.6 959.0,639.8 964.7,635.6C970.3,631.4 966.9,616.2 964.7,609.1C962.4,602.1 951.0,581.4 945.4,575.2C939.7,569.0 924.4,554.4 916.2,556.1Z" fill="#5896d2"/>
<clipPath id="cc5"><path d="M916.0,557.0C908.3,558.6 883.8,581.9 877.4,588.8C871.0,595.7 863.6,611.2 861.5,616.0C859.4,620.8 852.8,626.9 859.2,629.8C865.6,632.7 904.0,640.9 916.0,641.2C928.0,641.5 956.4,636.0 961.7,632.0C967.0,628.0 963.8,613.6 961.7,607.0C959.6,600.4 948.8,580.8 943.5,575.0C938.2,569.2 923.7,555.4 916.0,557.0Z"/></clipPath>
<path d="M916.0,557.0C908.3,558.6 883.8,581.9 877.4,588.8C871.0,595.7 863.6,611.2 861.5,616.0C859.4,620.8 852.8,626.9 859.2,629.8C865.6,632.7 904.0,640.9 916.0,641.2C928.0,641.5 956.4,636.0 961.7,632.0C967.0,628.0 963.8,613.6 961.7,607.0C959.6,600.4 948.8,580.8 943.5,575.0C938.2,569.2 923.7,555.4 916.0,557.0Z" fill="url(#gCore)"/>
<g clip-path="url(#cc5)" filter="url(#blur4)">
<ellipse cx="885" cy="630" rx="28" ry="14" fill="#7a6c68" opacity="0.7"/>
<ellipse cx="930" cy="600" rx="20" ry="12" fill="#505260" opacity="0.4"/>
</g>
<path d="M1769.0,603.6L1782.0,601.8M1769.0,603.6L1769.0,607.4M1769.0,607.4L1782.0,609.2M1769.0,614.9L1782.0,613.0M1782.0,598.0L1782.0,601.8M1782.0,601.8L1795.0,603.6M1782.0,609.2L1795.0,607.4M1782.0,609.2L1782.0,613.0M1782.0,613.0L1795.0,614.9M1795.0,603.6L1807.9,601.8M1795.0,603.6L1795.0,607.4M1795.0,607.4L1807.9,609.2M1795.0,614.9L1807.9,613.0M1807.9,598.0L1807.9,601.8M1807.9,601.8L1820.9,603.6M1807.9,609.2L1820.9,607.4M1807.9,609.2L1807.9,613.0M1807.9,613.0L1820.9,614.9M1820.9,603.6L1833.9,601.8M1820.9,603.6L1820.9,607.4M1820.9,607.4L1833.9,609.2M1820.9,614.9L1833.9,613.0M1833.9,598.0L1833.9,601.8M1833.9,601.8L1846.9,603.6M1833.9,609.2L1846.9,607.4M1833.9,609.2L1833.9,613.0M1833.9,613.0L1846.9,614.9M1846.9,603.6L1859.9,601.8M1846.9,603.6L1846.9,607.4M1846.9,607.4L1859.9,609.2M1846.9,614.9L1859.9,613.0M1859.9,598.0L1859.9,601.8M1859.9,601.8L1872.9,603.6M1859.9,609.2L1872.9,607.4M1859.9,609.2L1859.9,613.0M1872.9,603.6L1872.9,607.4" stroke="#666" stroke-width="2.4" fill="none" stroke-linecap="round"/>
<path d="M1766.1,603.6a2.9,2.9 0 1,0 5.8,0a2.9,2.9 0 1,0 -5.8,0M1766.1,607.4a2.9,2.9 0 1,0 5.8,0a2.9,2.9 0 1,0 -5.8,0M1766.1,614.9a2.9,2.9 0 1,0 5.8,0a2.9,2.9 0 1,0 -5.8,0M1779.1,598.0a2.9,2.9 0 1,0 5.8,0a2.9,2.9 0 1,0 -5.8,0M1779.1,601.8a2.9,2.9 0 1,0 5.8,0a2.9,2.9 0 1,0 -5.8,0M1779.1,609.2a2.9,2.9 0 1,0 5.8,0a2.9,2.9 0 1,0 -5.8,0M1779.1,613.0a2.9,2.9 0 1,0 5.8,0a2.9,2.9 0 1,0 -5.8,0M1792.1,603.6a2.9,2.9 0 1,0 5.8,0a2.9,2.9 0 1,0 -5.8,0M1792.1,607.4a2.9,2.9 0 1,0 5.8,0a2.9,2.9 0 1,0 -5.8,0M1792.1,614.9a2.9,2.9 0 1,0 5.8,0a2.9,2.9 0 1,0 -5.8,0M1805.0,598.0a2.9,2.9 0 1,0 5.8,0a2.9,2.9 0 1,0 -5.8,0M1805.0,601.8a2.9,2.9 0 1,0 5.8,0a2.9,2.9 0 1,0 -5.8,0M1805.0,609.2a2.9,2.9 0 1,0 5.8,0a2.9,2.9 0 1,0 -5.8,0M1805.0,613.0a2.9,2.9 0 1,0 5.8,0a2.9,2.9 0 1,0 -5.8,0M1818.0,603.6a2.9,2.9 0 1,0 5.8,0a2.9,2.9 0 1,0 -5.8,0M1818.0,607.4a2.9,2.9 0 1,0 5.8,0a2.9,2.9 0 1,0 -5.8,0M1818.0,614.9a2.9,2.9 0 1,0 5.8,0a2.9,2.9 0 1,0 -5.8,0M1831.0,598.0a2.9,2.9 0 1,0 5.8,0a2.9,2.9 0 1,0 -5.8,0M1831.0,601.8a2.9,2.9 0 1,0 5.8,0a2.9,2.9 0 1,0 -5.8,0M1831.0,609.2a2.9,2.9 0 1,0 5.8,0a2.9,2.9 0 1,0 -5.8,0M1831.0,613.0a2.9,2.9 0 1,0 5.8,0a2.9,2.9 0 1,0 -5.8,0M1844.0,603.6a2.9,2.9 0 1,0 5.8,0a2.9,2.9 0 1,0 -5.8,0M1844.0,607.4a2.9,2.9 0 1,0 5.8,0a2.9,2.9 0 1,0 -5.8,0M1844.0,614.9a2.9,2.9 0 1,0 5.8,0a2.9,2.9 0 1,0 -5.8,0M1857.0,598.0a2.9,2.9 0 1,0 5.8,0a2.9,2.9 0 1,0 -5.8,0M1857.0,601.8a2.9,2.9 0 1,0 5.8,0a2.9,2.9 0 1,0 -5.8,0M1857.0,609.2a2.9,2.9 0 1,0 5.8,0a2.9,2.9 0 1,0 -5.8,0M1857.0,613.0a2.9,2.9 0 1,0 5.8,0a2.9,2.9 0 1,0 -5.8,0M1870.0,603.6a2.9,2.9 0 1,0 5.8,0a2.9,2.9 0 1,0 -5.8,0M1870.0,607.4a2.9,2.9 0 1,0 5.8,0a2.9,2.9 0 1,0 -5.8,0" fill="#5f5f5f"/>
<path d="M1769.0,626.4L1782.0,628.4M1769.0,634.5L1782.0,632.5M1769.0,634.5L1769.0,638.5M1769.0,638.5L1782.0,640.5M1782.0,628.4L1795.0,626.4M1782.0,628.4L1782.0,632.5M1782.0,632.5L1795.0,634.5M1782.0,640.5L1795.0,638.5M1795.0,626.4L1807.9,628.4M1795.0,634.5L1807.9,632.5M1795.0,634.5L1795.0,638.5M1795.0,638.5L1807.9,640.5M1807.9,628.4L1820.9,626.4M1807.9,628.4L1807.9,632.5M1807.9,632.5L1820.9,634.5M1807.9,640.5L1820.9,638.5M1820.9,626.4L1833.9,628.4M1820.9,634.5L1833.9,632.5M1820.9,634.5L1820.9,638.5M1820.9,638.5L1833.9,640.5M1833.9,628.4L1846.9,626.4M1833.9,628.4L1833.9,632.5M1833.9,632.5L1846.9,634.5M1833.9,640.5L1846.9,638.5M1846.9,626.4L1859.9,628.4M1846.9,634.5L1859.9,632.5M1846.9,634.5L1846.9,638.5M1846.9,638.5L1859.9,640.5M1859.9,628.4L1859.9,632.5M1859.9,632.5L1872.9,634.5M1859.9,640.5L1872.9,638.5M1872.9,634.5L1872.9,638.5" stroke="#666" stroke-width="2.4" fill="none" stroke-linecap="round"/>
<path d="M1766.1,626.4a2.9,2.9 0 1,0 5.8,0a2.9,2.9 0 1,0 -5.8,0M1766.1,634.5a2.9,2.9 0 1,0 5.8,0a2.9,2.9 0 1,0 -5.8,0M1766.1,638.5a2.9,2.9 0 1,0 5.8,0a2.9,2.9 0 1,0 -5.8,0M1779.1,628.4a2.9,2.9 0 1,0 5.8,0a2.9,2.9 0 1,0 -5.8,0M1779.1,632.5a2.9,2.9 0 1,0 5.8,0a2.9,2.9 0 1,0 -5.8,0M1779.1,640.5a2.9,2.9 0 1,0 5.8,0a2.9,2.9 0 1,0 -5.8,0M1792.1,626.4a2.9,2.9 0 1,0 5.8,0a2.9,2.9 0 1,0 -5.8,0M1792.1,634.5a2.9,2.9 0 1,0 5.8,0a2.9,2.9 0 1,0 -5.8,0M1792.1,638.5a2.9,2.9 0 1,0 5.8,0a2.9,2.9 0 1,0 -5.8,0M1805.0,628.4a2.9,2.9 0 1,0 5.8,0a2.9,2.9 0 1,0 -5.8,0M1805.0,632.5a2.9,2.9 0 1,0 5.8,0a2.9,2.9 0 1,0 -5.8,0M1805.0,640.5a2.9,2.9 0 1,0 5.8,0a2.9,2.9 0 1,0 -5.8,0M1818.0,626.4a2.9,2.9 0 1,0 5.8,0a2.9,2.9 0 1,0 -5.8,0M1818.0,634.5a2.9,2.9 0 1,0 5.8,0a2.9,2.9 0 1,0 -5.8,0M1818.0,638.5a2.9,2.9 0 1,0 5.8,0a2.9,2.9 0 1,0 -5.8,0M1831.0,628.4a2.9,2.9 0 1,0 5.8,0a2.9,2.9 0 1,0 -5.8,0M1831.0,632.5a2.9,2.9 0 1,0 5.8,0a2.9,2.9 0 1,0 -5.8,0M1831.0,640.5a2.9,2.9 0 1,0 5.8,0a2.9,2.9 0 1,0 -5.8,0M1844.0,626.4a2.9,2.9 0 1,0 5.8,0a2.9,2.9 0 1,0 -5.8,0M1844.0,634.5a2.9,2.9 0 1,0 5.8,0a2.9,2.9 0 1,0 -5.8,0M1844.0,638.5a2.9,2.9 0 1,0 5.8,0a2.9,2.9 0 1,0 -5.8,0M1857.0,628.4a2.9,2.9 0 1,0 5.8,0a2.9,2.9 0 1,0 -5.8,0M1857.0,632.5a2.9,2.9 0 1,0 5.8,0a2.9,2.9 0 1,0 -5.8,0M1857.0,640.5a2.9,2.9 0 1,0 5.8,0a2.9,2.9 0 1,0 -5.8,0M1870.0,634.5a2.9,2.9 0 1,0 5.8,0a2.9,2.9 0 1,0 -5.8,0M1870.0,638.5a2.9,2.9 0 1,0 5.8,0a2.9,2.9 0 1,0 -5.8,0" fill="#5f5f5f"/>
<path d="M1638.0,670.2L1651.0,672.5M1651.0,672.5L1664.0,670.2M1651.0,672.5L1651.0,677.0M1651.0,677.0L1664.0,679.2M1651.0,686.0L1664.0,683.8M1664.0,665.8L1676.9,663.5M1664.0,665.8L1664.0,670.2M1664.0,670.2L1676.9,672.5M1664.0,679.2L1676.9,677.0M1664.0,679.2L1664.0,683.8M1664.0,683.8L1676.9,686.0M1676.9,659.0L1689.9,656.8M1676.9,659.0L1676.9,663.5M1676.9,663.5L1689.9,665.8M1676.9,672.5L1689.9,670.2M1676.9,672.5L1676.9,677.0M1676.9,677.0L1689.9,679.2M1676.9,686.0L1689.9,683.8M1676.9,686.0L1676.9,690.5M1689.9,656.8L1702.9,659.0M1689.9,665.8L1702.9,663.5M1689.9,665.8L1689.9,670.2M1689.9,670.2L1702.9,672.5M1689.9,679.2L1702.9,677.0M1689.9,679.2L1689.9,683.8M1689.9,683.8L1702.9,686.0M1702.9,659.0L1715.9,656.8M1702.9,659.0L1702.9,663.5M1702.9,663.5L1715.9,665.8M1702.9,672.5L1715.9,670.2M1702.9,672.5L1702.9,677.0M1702.9,677.0L1715.9,679.2M1702.9,686.0L1715.9,683.8M1702.9,686.0L1702.9,690.5M1715.9,656.8L1728.9,659.0M1715.9,665.8L1728.9,663.5M1715.9,665.8L1715.9,670.2M1715.9,670.2L1728.9,672.5M1715.9,679.2L1728.9,677.0M1715.9,679.2L1715.9,683.8M1715.9,683.8L1728.9,686.0M1728.9,659.0L1741.9,656.8M1728.9,659.0L1728.9,663.5M1728.9,663.5L1741.9,665.8M1728.9,672.5L1741.9,670.2M1728.9,672.5L1728.9,677.0M1728.9,677.0L1741.9,679.2M1728.9,686.0L1741.9,683.8M1741.9,656.8L1754.9,659.0M1741.9,665.8L1754.9,663.5M1741.9,665.8L1741.9,670.2M1741.9,670.2L1754.9,672.5M1741.9,679.2L1754.9,677.0M1741.9,679.2L1741.9,683.8M1754.9,659.0L1767.9,656.8M1754.9,659.0L1754.9,663.5M1754.9,663.5L1767.9,665.8M1754.9,672.5L1767.9,670.2M1754.9,672.5L1754.9,677.0M1754.9,677.0L1767.9,679.2M1767.9,656.8L1780.9,659.0M1767.9,665.8L1780.9,663.5M1767.9,665.8L1767.9,670.2M1767.9,670.2L1780.9,672.5M1767.9,679.2L1780.9,677.0M1780.9,659.0L1793.9,656.8M1780.9,659.0L1780.9,663.5M1780.9,663.5L1793.9,665.8M1780.9,672.5L1793.9,670.2M1780.9,672.5L1780.9,677.0M1780.9,677.0L1793.9,679.2M1793.9,656.8L1806.8,659.0M1793.9,665.8L1806.8,663.5M1793.9,665.8L1793.9,670.2M1793.9,670.2L1806.8,672.5M1793.9,679.2L1806.8,677.0M1806.8,659.0L1819.8,656.8M1806.8,659.0L1806.8,663.5M1806.8,663.5L1819.8,665.8M1806.8,672.5L1819.8,670.2M1806.8,672.5L1806.8,677.0M1819.8,656.8L1832.8,659.0M1819.8,665.8L1832.8,663.5M1819.8,665.8L1819.8,670.2M1819.8,670.2L1832.8,672.5M1832.8,659.0L1845.8,656.8M1832.8,659.0L1832.8,663.5M1832.8,663.5L1845.8,665.8M1832.8,672.5L1845.8,670.2M1845.8,656.8L1858.8,659.0M1845.8,665.8L1858.8,663.5M1845.8,665.8L1845.8,670.2M1858.8,659.0L1858.8,663.5M1858.8,663.5L1871.8,665.8" stroke="#666" stroke-width="2.4" fill="none" stroke-linecap="round"/>
<path d="M1635.1,670.2a2.9,2.9 0 1,0 5.8,0a2.9,2.9 0 1,0 -5.8,0M1648.1,672.5a2.9,2.9 0 1,0 5.8,0a2.9,2.9 0 1,0 -5.8,0M1648.1,677.0a2.9,2.9 0 1,0 5.8,0a2.9,2.9 0 1,0 -5.8,0M1648.1,686.0a2.9,2.9 0 1,0 5.8,0a2.9,2.9 0 1,0 -5.8,0M1661.1,665.8a2.9,2.9 0 1,0 5.8,0a2.9,2.9 0 1,0 -5.8,0M1661.1,670.2a2.9,2.9 0 1,0 5.8,0a2.9,2.9 0 1,0 -5.8,0M1661.1,679.2a2.9,2.9 0 1,0 5.8,0a2.9,2.9 0 1,0 -5.8,0M1661.1,683.8a2.9,2.9 0 1,0 5.8,0a2.9,2.9 0 1,0 -5.8,0M1674.0,659.0a2.9,2.9 0 1,0 5.8,0a2.9,2.9 0 1,0 -5.8,0M1674.0,663.5a2.9,2.9 0 1,0 5.8,0a2.9,2.9 0 1,0 -5.8,0M1674.0,672.5a2.9,2.9 0 1,0 5.8,0a2.9,2.9 0 1,0 -5.8,0M1674.0,677.0a2.9,2.9 0 1,0 5.8,0a2.9,2.9 0 1,0 -5.8,0M1674.0,686.0a2.9,2.9 0 1,0 5.8,0a2.9,2.9 0 1,0 -5.8,0M1674.0,690.5a2.9,2.9 0 1,0 5.8,0a2.9,2.9 0 1,0 -5.8,0M1687.0,656.8a2.9,2.9 0 1,0 5.8,0a2.9,2.9 0 1,0 -5.8,0M1687.0,665.8a2.9,2.9 0 1,0 5.8,0a2.9,2.9 0 1,0 -5.8,0M1687.0,670.2a2.9,2.9 0 1,0 5.8,0a2.9,2.9 0 1,0 -5.8,0M1687.0,679.2a2.9,2.9 0 1,0 5.8,0a2.9,2.9 0 1,0 -5.8,0M1687.0,683.8a2.9,2.9 0 1,0 5.8,0a2.9,2.9 0 1,0 -5.8,0M1700.0,659.0a2.9,2.9 0 1,0 5.8,0a2.9,2.9 0 1,0 -5.8,0M1700.0,663.5a2.9,2.9 0 1,0 5.8,0a2.9,2.9 0 1,0 -5.8,0M1700.0,672.5a2.9,2.9 0 1,0 5.8,0a2.9,2.9 0 1,0 -5.8,0M1700.0,677.0a2.9,2.9 0 1,0 5.8,0a2.9,2.9 0 1,0 -5.8,0M1700.0,686.0a2.9,2.9 0 1,0 5.8,0a2.9,2.9 0 1,0 -5.8,0M1700.0,690.5a2.9,2.9 0 1,0 5.8,0a2.9,2.9 0 1,0 -5.8,0M1713.0,656.8a2.9,2.9 0 1,0 5.8,0a2.9,2.9 0 1,0 -5.8,0M1713.0,665.8a2.9,2.9 0 1,0 5.8,0a2.9,2.9 0 1,0 -5.8,0M1713.0,670.2a2.9,2.9 0 1,0 5.8,0a2.9,2.9 0 1,0 -5.8,0M1713.0,679.2a2.9,2.9 0 1,0 5.8,0a2.9,2.9 0 1,0 -5.8,0M1713.0,683.8a2.9,2.9 0 1,0 5.8,0a2.9,2.9 0 1,0 -5.8,0M1726.0,659.0a2.9,2.9 0 1,0 5.8,0a2.9,2.9 0 1,0 -5.8,0M1726.0,663.5a2.9,2.9 0 1,0 5.8,0a2.9,2.9 0 1,0 -5.8,0M1726.0,672.5a2.9,2.9 0 1,0 5.8,0a2.9,2.9 0 1,0 -5.8,0M1726.0,677.0a2.9,2.9 0 1,0 5.8,0a2.9,2.9 0 1,0 -5.8,0M1726.0,686.0a2.9,2.9 0 1,0 5.8,0a2.9,2.9 0 1,0 -5.8,0M1739.0,656.8a2.9,2.9 0 1,0 5.8,0a2.9,2.9 0 1,0 -5.8,0M1739.0,665.8a2.9,2.9 0 1,0 5.8,0a2.9,2.9 0 1,0 -5.8,0M1739.0,670.2a2.9,2.9 0 1,0 5.8,0a2.9,2.9 0 1,0 -5.8,0M1739.0,679.2a2.9,2.9 0 1,0 5.8,0a2.9,2.9 0 1,0 -5.8,0M1739.0,683.8a2.9,2.9 0 1,0 5.8,0a2.9,2.9 0 1,0 -5.8,0M1752.0,659.0a2.9,2.9 0 1,0 5.8,0a2.9,2.9 0 1,0 -5.8,0M1752.0,663.5a2.9,2.9 0 1,0 5.8,0a2.9,2.9 0 1,0 -5.8,0M1752.0,672.5a2.9,2.9 0 1,0 5.8,0a2.9,2.9 0 1,0 -5.8,0M1752.0,677.0a2.9,2.9 0 1,0 5.8,0a2.9,2.9 0 1,0 -5.8,0M1765.0,656.8a2.9,2.9 0 1,0 5.8,0a2.9,2.9 0 1,0 -5.8,0M1765.0,665.8a2.9,2.9 0 1,0 5.8,0a2.9,2.9 0 1,0 -5.8,0M1765.0,670.2a2.9,2.9 0 1,0 5.8,0a2.9,2.9 0 1,0 -5.8,0M1765.0,679.2a2.9,2.9 0 1,0 5.8,0a2.9,2.9 0 1,0 -5.8,0M1778.0,659.0a2.9,2.9 0 1,0 5.8,0a2.9,2.9 0 1,0 -5.8,0M1778.0,663.5a2.9,2.9 0 1,0 5.8,0a2.9,2.9 0 1,0 -5.8,0M1778.0,672.5a2.9,2.9 0 1,0 5.8,0a2.9,2.9 0 1,0 -5.8,0M1778.0,677.0a2.9,2.9 0 1,0 5.8,0a2.9,2.9 0 1,0 -5.8,0M1791.0,656.8a2.9,2.9 0 1,0 5.8,0a2.9,2.9 0 1,0 -5.8,0M1791.0,665.8a2.9,2.9 0 1,0 5.8,0a2.9,2.9 0 1,0 -5.8,0M1791.0,670.2a2.9,2.9 0 1,0 5.8,0a2.9,2.9 0 1,0 -5.8,0M1791.0,679.2a2.9,2.9 0 1,0 5.8,0a2.9,2.9 0 1,0 -5.8,0M1803.9,659.0a2.9,2.9 0 1,0 5.8,0a2.9,2.9 0 1,0 -5.8,0M1803.9,663.5a2.9,2.9 0 1,0 5.8,0a2.9,2.9 0 1,0 -5.8,0M1803.9,672.5a2.9,2.9 0 1,0 5.8,0a2.9,2.9 0 1,0 -5.8,0M1803.9,677.0a2.9,2.9 0 1,0 5.8,0a2.9,2.9 0 1,0 -5.8,0M1816.9,656.8a2.9,2.9 0 1,0 5.8,0a2.9,2.9 0 1,0 -5.8,0M1816.9,665.8a2.9,2.9 0 1,0 5.8,0a2.9,2.9 0 1,0 -5.8,0M1816.9,670.2a2.9,2.9 0 1,0 5.8,0a2.9,2.9 0 1,0 -5.8,0M1829.9,659.0a2.9,2.9 0 1,0 5.8,0a2.9,2.9 0 1,0 -5.8,0M1829.9,663.5a2.9,2.9 0 1,0 5.8,0a2.9,2.9 0 1,0 -5.8,0M1829.9,672.5a2.9,2.9 0 1,0 5.8,0a2.9,2.9 0 1,0 -5.8,0M1842.9,656.8a2.9,2.9 0 1,0 5.8,0a2.9,2.9 0 1,0 -5.8,0M1842.9,665.8a2.9,2.9 0 1,0 5.8,0a2.9,2.9 0 1,0 -5.8,0M1842.9,670.2a2.9,2.9 0 1,0 5.8,0a2.9,2.9 0 1,0 -5.8,0M1855.9,659.0a2.9,2.9 0 1,0 5.8,0a2.9,2.9 0 1,0 -5.8,0M1855.9,663.5a2.9,2.9 0 1,0 5.8,0a2.9,2.9 0 1,0 -5.8,0M1868.9,665.8a2.9,2.9 0 1,0 5.8,0a2.9,2.9 0 1,0 -5.8,0" fill="#5f5f5f"/>
<clipPath id="sb3"><ellipse cx="1696" cy="612.5" rx="69" ry="68"/></clipPath>
<ellipse cx="1696" cy="612.5" rx="69" ry="68" fill="url(#gRed)"/>
<g clip-path="url(#sb3)">
<path d="M1698.0,549.0Q1616.0,588.5 1630.0,642.0Q1701.0,681.0 1756.0,636.0Q1777.0,587.5 1698.0,549.0Z" fill="#c65e52"/>
<path d="M1694.0,560.0Q1628.5,593.5 1645.0,637.0Q1698.5,670.5 1746.0,630.0Q1764.0,591.0 1694.0,560.0Z" fill="#b784c0"/>
</g>
<clipPath id="cc6"><path d="M1694.0,563.0Q1635.5,597.5 1651.0,634.0Q1698.2,651.5 1740.6,627.0Q1754.7,595.0 1694.0,563.0Z"/></clipPath>
<path d="M1694.0,563.0Q1635.5,597.5 1651.0,634.0Q1698.2,651.5 1740.6,627.0Q1754.7,595.0 1694.0,563.0Z" fill="url(#gCore)"/>
<g clip-path="url(#cc6)" filter="url(#blur4)">
<ellipse cx="1715" cy="628" rx="18" ry="9" fill="#6d6266" opacity="0.55"/>
</g>
<path d="M1648,630 Q1683,652 1716,645 Q1735,640 1743,634 L1746,640 Q1735,650 1716,654 Q1683,660 1650,640 Z" fill="#4a8ed0"/>
<path d="M1716,574 L1730,578 L1736,600 L1728,604 L1720,590 Z" fill="#4a8ed0"/>
<path d="M1734,612 L1745,614 L1746,628 L1738,628 Z" fill="#4a8ed0"/>
<path d="M1687,561 L1697,559 L1700,566 L1690,567 Z" fill="#4a8ed0"/>
<line x1="343" y1="205.3" x2="798.8" y2="205.3" stroke="#5a5d69" stroke-width="3"/>
<path d="M818.8,205.3 L790.8,194.0 L797.3,205.3 L790.8,216.60000000000002 Z" fill="#5a5d69"/>
<line x1="1155.3" y1="205.5" x2="1611" y2="205.5" stroke="#5a5d69" stroke-width="3"/>
<path d="M1631,205.5 L1603,194.2 L1609.5,205.5 L1603,216.8 Z" fill="#5a5d69"/>
<line x1="340" y1="615" x2="797" y2="615" stroke="#5a5d69" stroke-width="3"/>
<path d="M816,615 L789,603.7 L795.5,615 L789,626.3 Z" fill="#5a5d69"/>
<line x1="1146.6" y1="625.6" x2="1602" y2="625.6" stroke="#5a5d69" stroke-width="3"/>
<path d="M1622,625.6 L1594,614.3000000000001 L1600.5,625.6 L1594,636.9 Z" fill="#5a5d69"/>
<line x1="116.7" y1="279.3" x2="81.7" y2="319.0" stroke="#231815" stroke-width="2"/>
<line x1="339.5" y1="252.0" x2="374.5" y2="287.7" stroke="#231815" stroke-width="2"/>
<line x1="919.7" y1="262.4" x2="891.6" y2="293.0" stroke="#231815" stroke-width="2"/>
<line x1="1140.8" y1="247.2" x2="1175.0" y2="282.4" stroke="#231815" stroke-width="2"/>
<line x1="1760.0" y1="241.5" x2="1795.7" y2="277.5" stroke="#231815" stroke-width="2"/>
<line x1="88.8" y1="675.9" x2="67.6" y2="722.8" stroke="#231815" stroke-width="2"/>
<line x1="278.6" y1="681.4" x2="313.0" y2="716.7" stroke="#231815" stroke-width="2"/>
<line x1="847.0" y1="630.0" x2="797.5" y2="680.5" stroke="#231815" stroke-width="2"/>
<line x1="937.0" y1="677.3" x2="910.8" y2="720.3" stroke="#231815" stroke-width="2"/>
<line x1="1072.0" y1="643.9" x2="1107.0" y2="678.9" stroke="#231815" stroke-width="2"/>
<line x1="1659.4" y1="656.5" x2="1623.6" y2="698.0" stroke="#231815" stroke-width="2"/>
<line x1="1805.6" y1="675.8" x2="1838.5" y2="712.6" stroke="#231815" stroke-width="2"/>
<text transform="translate(19.7,30.5) scale(0.9059,1)" font-size="52" textLength="28.9" lengthAdjust="spacingAndGlyphs" fill="#111" stroke="#fff" stroke-width="0.35">a</text>
<text transform="translate(18.5,435.0) scale(1.0027,1)" font-size="52" textLength="28.9" lengthAdjust="spacingAndGlyphs" fill="#111" stroke="#fff" stroke-width="0.35">b</text>
<text transform="translate(51.1,73.0) scale(0.7759,1)" font-size="38.0" textLength="145.8" lengthAdjust="spacing" fill="#231815" stroke="#fff" stroke-width="0.35">SOC100</text>
<text transform="translate(819.8,72.7) scale(0.8112,1)" font-size="38.0" textLength="240.9" lengthAdjust="spacing" fill="#231815" stroke="#fff" stroke-width="0.35">aged SOC100</text>
<text transform="translate(1553.1,72.5) scale(0.8313,1)" font-size="38.0" textLength="391.9" lengthAdjust="spacing" fill="#231815" stroke="#fff" stroke-width="0.35">SOC100 aged + cycled</text>
<text transform="translate(54.8,491.0) scale(0.8056,1)" font-size="38.0" textLength="124.6" lengthAdjust="spacing" fill="#231815" stroke="#fff" stroke-width="0.35">SOC60</text>
<text transform="translate(826.3,490.8) scale(0.8341,1)" font-size="38.0" textLength="219.8" lengthAdjust="spacing" fill="#231815" stroke="#fff" stroke-width="0.35">aged SOC60</text>
<text transform="translate(1559.3,491.2) scale(0.8455,1)" font-size="38.0" textLength="370.8" lengthAdjust="spacing" fill="#231815" stroke="#fff" stroke-width="0.35">SOC60 aged + cycled</text>
<text transform="translate(379.1,178.6) scale(0.9416,1)" font-size="32.0" textLength="453.6" lengthAdjust="spacing" fill="#231815" stroke="#fff" stroke-width="0.35">SEI growth-dominated evolution</text>
<text transform="translate(498.7,254.2) scale(0.9145,1)" font-size="32.0" textLength="206.3" lengthAdjust="spacing" fill="#231815" stroke="#fff" stroke-width="0.35">Low shrinkage</text>
<text transform="translate(1204.4,180.3) scale(0.9293,1)" font-size="32.0" textLength="405.6" lengthAdjust="spacing" fill="#231815" stroke="#fff" stroke-width="0.35">No continuous growth of SEI</text>
<text transform="translate(22.8,352.0) scale(0.8714,1)" font-size="32.0" textLength="211.6" lengthAdjust="spacing" fill="#231815" stroke="#fff" stroke-width="0.35">Pre-cycled SEI</text>
<text transform="translate(302.9,315.6) scale(0.8633,1)" font-size="32.0" textLength="211.6" lengthAdjust="spacing" fill="#231815" stroke="#fff" stroke-width="0.35">Stage 1 t-GICs</text>
<text transform="translate(837.9,326.0) scale(0.9117,1)" font-size="32.0" textLength="236.6" lengthAdjust="spacing" fill="#231815" stroke="#fff" stroke-width="0.35">aged SEI growth</text>
<text transform="translate(1134.9,315.4) scale(0.8841,1)" font-size="32.0" textLength="238.3" lengthAdjust="spacing" fill="#231815" stroke="#fff" stroke-width="0.35">Stage 1/2 t-GICs</text>
<text transform="translate(1760.9,315.3) scale(0.9329,1)" font-size="32.0" textLength="122.7" lengthAdjust="spacing" fill="#231815" stroke="#fff" stroke-width="0.35">Graphite</text>
<text transform="translate(349.1,586.6) scale(0.9193,1)" font-size="32.0" textLength="499.8" lengthAdjust="spacing" fill="#231815" stroke="#fff" stroke-width="0.35">SEI growth/destruction coexistence</text>
<text transform="translate(436.4,662.0) scale(0.9267,1)" font-size="32.0" textLength="307.8" lengthAdjust="spacing" fill="#231815" stroke="#fff" stroke-width="0.35">Large volume change</text>
<text transform="translate(17.7,757.2) scale(0.8728,1)" font-size="32.0" textLength="211.6" lengthAdjust="spacing" fill="#231815" stroke="#fff" stroke-width="0.35">Pre-cycled SEI</text>
<text transform="translate(295.8,744.3) scale(0.8837,1)" font-size="32.0" textLength="238.3" lengthAdjust="spacing" fill="#231815" stroke="#fff" stroke-width="0.35">Stage 1/2 t-GICs</text>
<text transform="translate(671.8,704.3) scale(0.8746,1)" font-size="32.0" textLength="193.9" lengthAdjust="spacing" fill="#231815" stroke="#fff" stroke-width="0.35">SEI breakage</text>
<text transform="translate(803.2,753.0) scale(0.9146,1)" font-size="32.0" textLength="236.6" lengthAdjust="spacing" fill="#231815" stroke="#fff" stroke-width="0.35">aged SEI growth</text>
<text transform="translate(1017.4,714.9) scale(0.9040,1)" font-size="32.0" textLength="254.3" lengthAdjust="spacing" fill="#231815" stroke="#fff" stroke-width="0.35">High stage t-GICs</text>
<text transform="translate(1168.1,599.6) scale(0.9301,1)" font-size="32.0" textLength="466.1" lengthAdjust="spacing" fill="#231815" stroke="#fff" stroke-width="0.35">Subsequent electrolyte reduction</text>
<text transform="translate(1281.4,675.2) scale(0.9273,1)" font-size="32.0" textLength="222.4" lengthAdjust="spacing" fill="#231815" stroke="#fff" stroke-width="0.35">CE degradation</text>
<text transform="translate(1545.9,731.0) scale(0.8743,1)" font-size="32.0" textLength="142.3" lengthAdjust="spacing" fill="#231815" stroke="#fff" stroke-width="0.35">SEI repair</text>
<text transform="translate(1769.2,744.6) scale(0.9296,1)" font-size="32.0" textLength="122.7" lengthAdjust="spacing" fill="#231815" stroke="#fff" stroke-width="0.35">Graphite</text>
</svg></body></html>
